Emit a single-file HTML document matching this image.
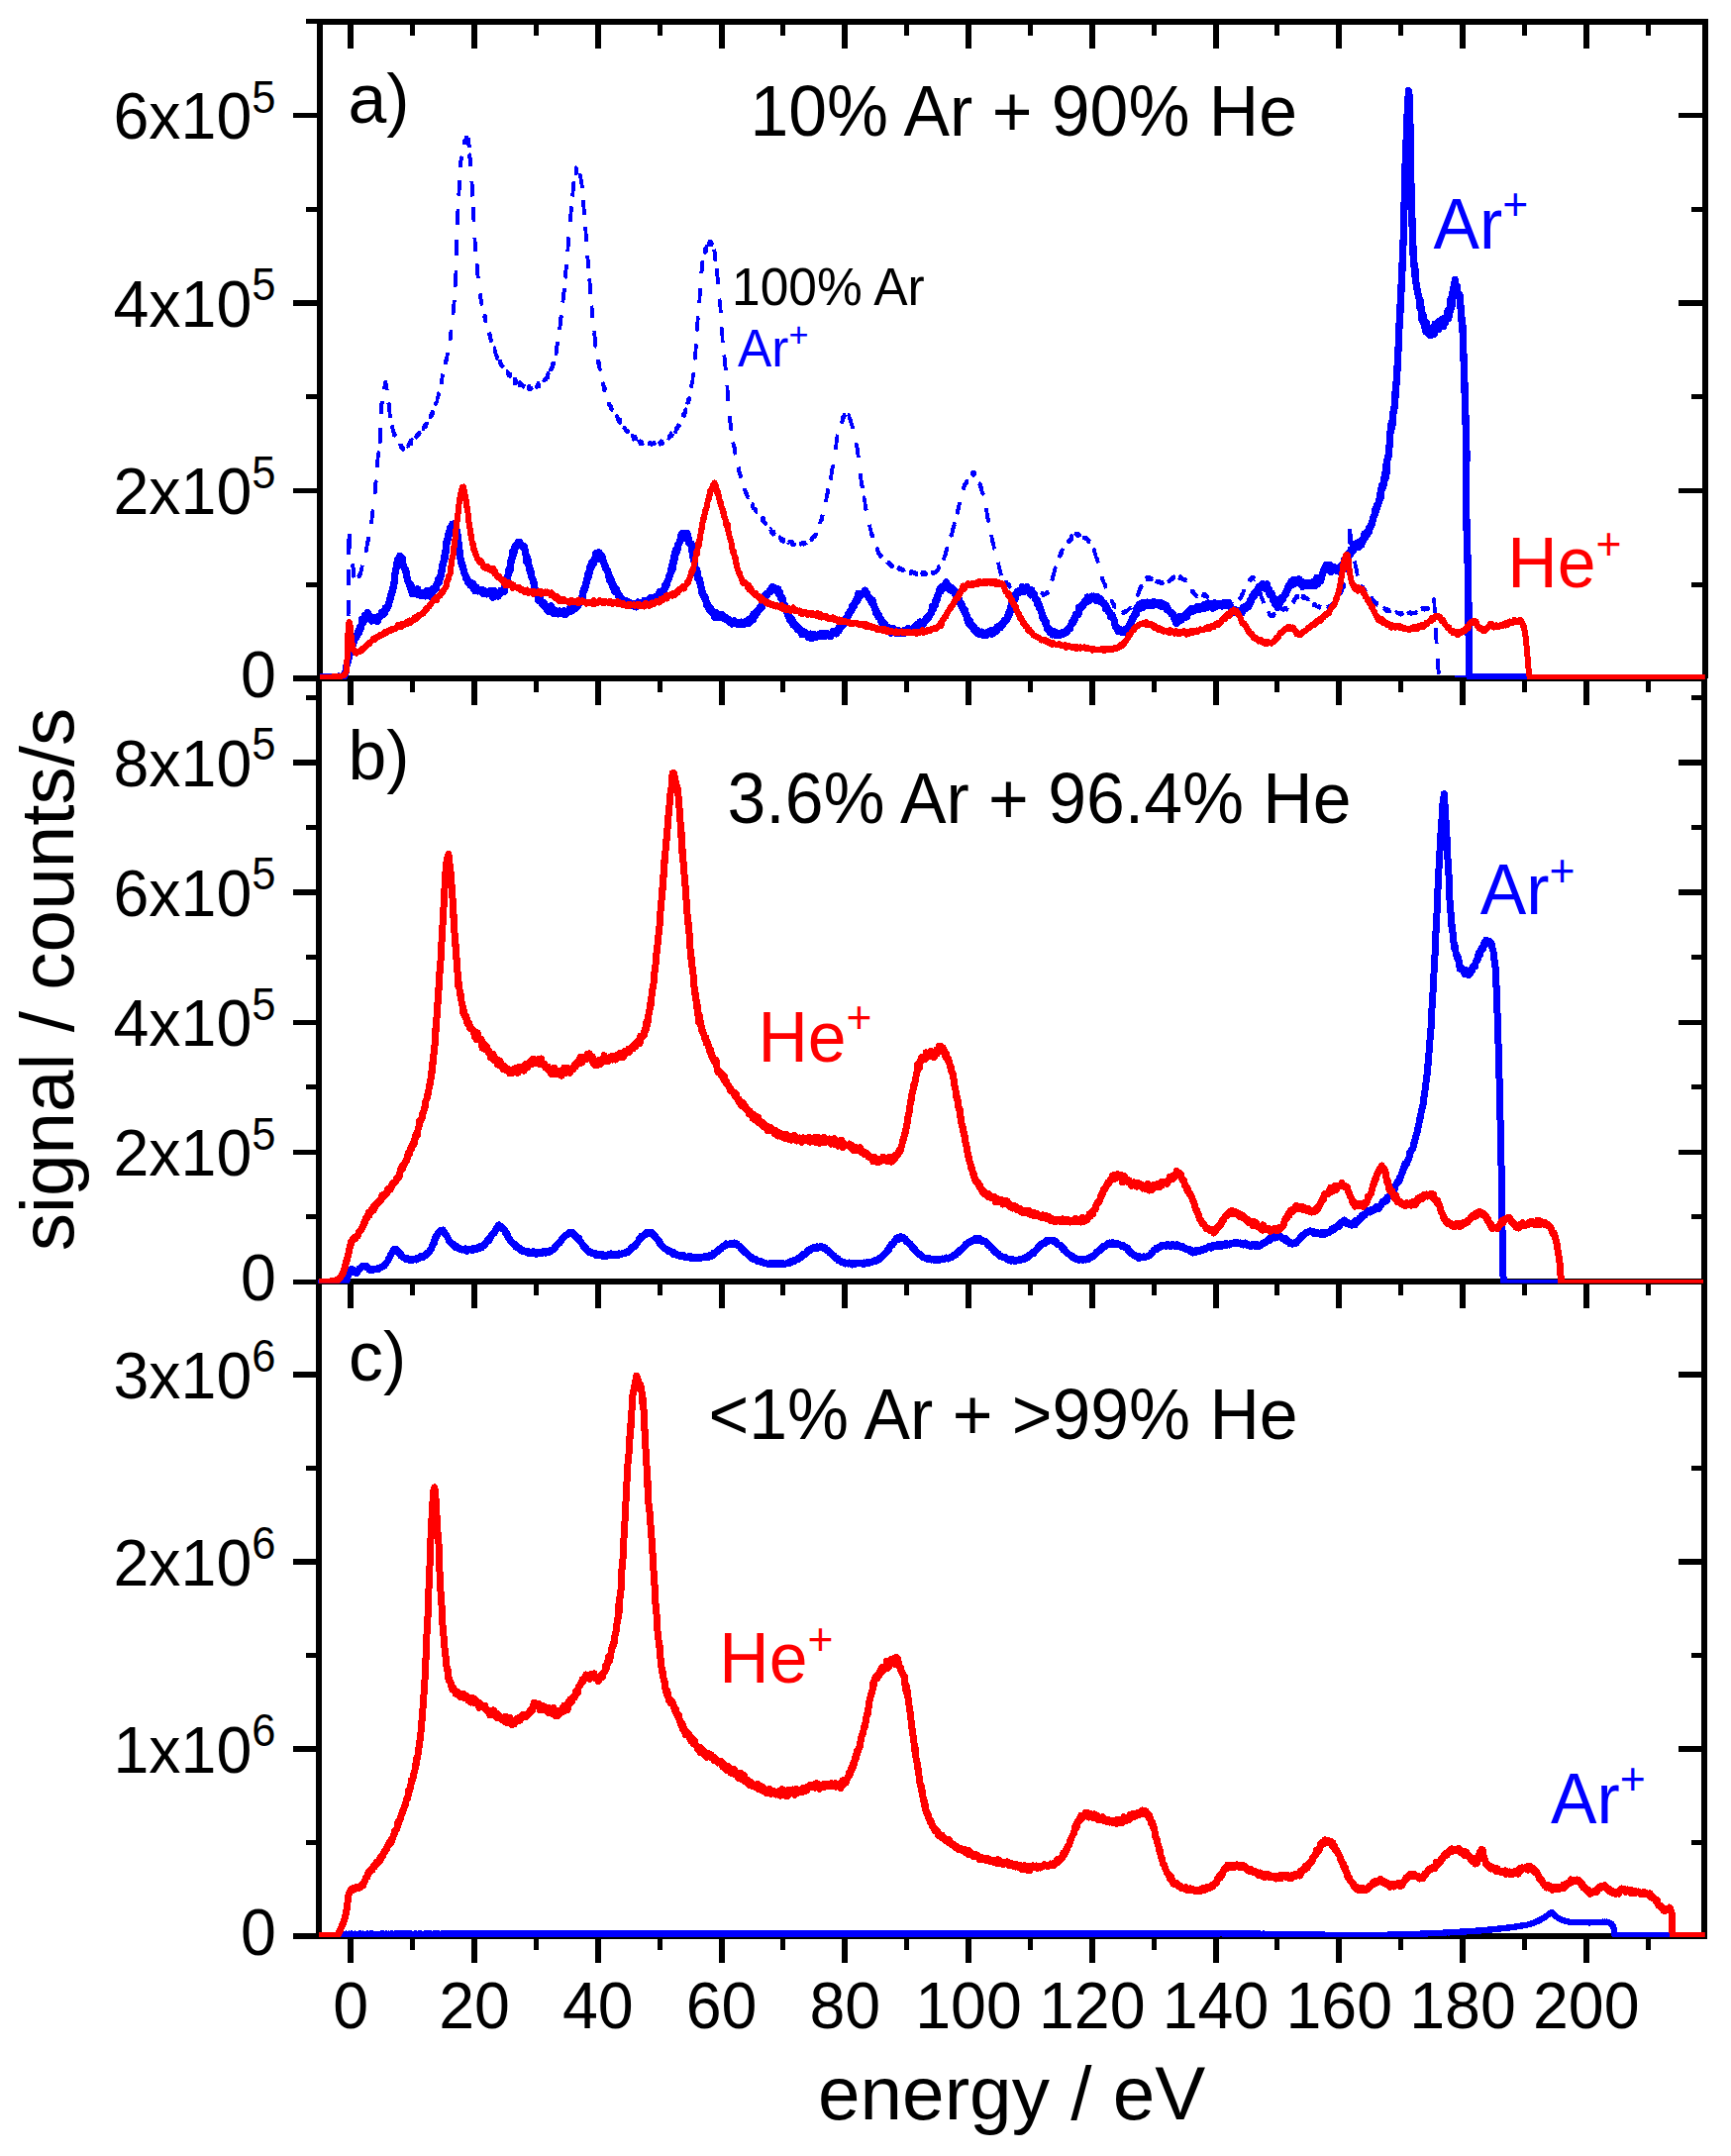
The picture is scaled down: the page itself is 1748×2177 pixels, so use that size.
<!DOCTYPE html>
<html><head><meta charset="utf-8"><title>figure</title>
<style>
html,body{margin:0;padding:0;background:#fff}
svg{display:block}
text{font-family:"Liberation Sans",sans-serif;}
</style></head><body>
<svg width="1748" height="2177" viewBox="0 0 1748 2177">
<rect width="1748" height="2177" fill="#fff"/>
<g stroke="#000" stroke-width="5.8" fill="none" stroke-linecap="butt" shape-rendering="crispEdges">
<line x1="322.95" y1="19.1" x2="322.95" y2="684.85"/>
<line x1="1721.6" y1="19.1" x2="1721.6" y2="684.85"/>
<line x1="322.05" y1="684.85" x2="322.05" y2="1957.8000000000002"/>
<line x1="1721.0" y1="684.85" x2="1721.0" y2="1957.8000000000002"/>
<line x1="322.95" y1="22.0" x2="1721.6" y2="22.0"/>
<line x1="322.95" y1="684.85" x2="1721.6" y2="684.85"/>
<line x1="322.95" y1="1294.2" x2="1721.6" y2="1294.2"/>
<line x1="322.95" y1="1954.9" x2="1721.6" y2="1954.9"/>
<line x1="354.3" y1="22.0" x2="354.3" y2="48.7" stroke-width="6.0"/>
<line x1="354.3" y1="684.85" x2="354.3" y2="711.5500000000001" stroke-width="6.0"/>
<line x1="354.3" y1="1294.2" x2="354.3" y2="1320.9" stroke-width="6.0"/>
<line x1="354.3" y1="1954.9" x2="354.3" y2="1981.6000000000001" stroke-width="6.0"/>
<line x1="416.7" y1="22.0" x2="416.7" y2="36.0" stroke-width="5.0"/>
<line x1="416.7" y1="684.85" x2="416.7" y2="698.85" stroke-width="5.0"/>
<line x1="416.7" y1="1294.2" x2="416.7" y2="1308.2" stroke-width="5.0"/>
<line x1="416.7" y1="1954.9" x2="416.7" y2="1968.9" stroke-width="5.0"/>
<line x1="479.0" y1="22.0" x2="479.0" y2="48.7" stroke-width="6.0"/>
<line x1="479.0" y1="684.85" x2="479.0" y2="711.5500000000001" stroke-width="6.0"/>
<line x1="479.0" y1="1294.2" x2="479.0" y2="1320.9" stroke-width="6.0"/>
<line x1="479.0" y1="1954.9" x2="479.0" y2="1981.6000000000001" stroke-width="6.0"/>
<line x1="541.4" y1="22.0" x2="541.4" y2="36.0" stroke-width="5.0"/>
<line x1="541.4" y1="684.85" x2="541.4" y2="698.85" stroke-width="5.0"/>
<line x1="541.4" y1="1294.2" x2="541.4" y2="1308.2" stroke-width="5.0"/>
<line x1="541.4" y1="1954.9" x2="541.4" y2="1968.9" stroke-width="5.0"/>
<line x1="603.8" y1="22.0" x2="603.8" y2="48.7" stroke-width="6.0"/>
<line x1="603.8" y1="684.85" x2="603.8" y2="711.5500000000001" stroke-width="6.0"/>
<line x1="603.8" y1="1294.2" x2="603.8" y2="1320.9" stroke-width="6.0"/>
<line x1="603.8" y1="1954.9" x2="603.8" y2="1981.6000000000001" stroke-width="6.0"/>
<line x1="666.2" y1="22.0" x2="666.2" y2="36.0" stroke-width="5.0"/>
<line x1="666.2" y1="684.85" x2="666.2" y2="698.85" stroke-width="5.0"/>
<line x1="666.2" y1="1294.2" x2="666.2" y2="1308.2" stroke-width="5.0"/>
<line x1="666.2" y1="1954.9" x2="666.2" y2="1968.9" stroke-width="5.0"/>
<line x1="728.5" y1="22.0" x2="728.5" y2="48.7" stroke-width="6.0"/>
<line x1="728.5" y1="684.85" x2="728.5" y2="711.5500000000001" stroke-width="6.0"/>
<line x1="728.5" y1="1294.2" x2="728.5" y2="1320.9" stroke-width="6.0"/>
<line x1="728.5" y1="1954.9" x2="728.5" y2="1981.6000000000001" stroke-width="6.0"/>
<line x1="790.9" y1="22.0" x2="790.9" y2="36.0" stroke-width="5.0"/>
<line x1="790.9" y1="684.85" x2="790.9" y2="698.85" stroke-width="5.0"/>
<line x1="790.9" y1="1294.2" x2="790.9" y2="1308.2" stroke-width="5.0"/>
<line x1="790.9" y1="1954.9" x2="790.9" y2="1968.9" stroke-width="5.0"/>
<line x1="853.3" y1="22.0" x2="853.3" y2="48.7" stroke-width="6.0"/>
<line x1="853.3" y1="684.85" x2="853.3" y2="711.5500000000001" stroke-width="6.0"/>
<line x1="853.3" y1="1294.2" x2="853.3" y2="1320.9" stroke-width="6.0"/>
<line x1="853.3" y1="1954.9" x2="853.3" y2="1981.6000000000001" stroke-width="6.0"/>
<line x1="915.6" y1="22.0" x2="915.6" y2="36.0" stroke-width="5.0"/>
<line x1="915.6" y1="684.85" x2="915.6" y2="698.85" stroke-width="5.0"/>
<line x1="915.6" y1="1294.2" x2="915.6" y2="1308.2" stroke-width="5.0"/>
<line x1="915.6" y1="1954.9" x2="915.6" y2="1968.9" stroke-width="5.0"/>
<line x1="978.0" y1="22.0" x2="978.0" y2="48.7" stroke-width="6.0"/>
<line x1="978.0" y1="684.85" x2="978.0" y2="711.5500000000001" stroke-width="6.0"/>
<line x1="978.0" y1="1294.2" x2="978.0" y2="1320.9" stroke-width="6.0"/>
<line x1="978.0" y1="1954.9" x2="978.0" y2="1981.6000000000001" stroke-width="6.0"/>
<line x1="1040.4" y1="22.0" x2="1040.4" y2="36.0" stroke-width="5.0"/>
<line x1="1040.4" y1="684.85" x2="1040.4" y2="698.85" stroke-width="5.0"/>
<line x1="1040.4" y1="1294.2" x2="1040.4" y2="1308.2" stroke-width="5.0"/>
<line x1="1040.4" y1="1954.9" x2="1040.4" y2="1968.9" stroke-width="5.0"/>
<line x1="1102.7" y1="22.0" x2="1102.7" y2="48.7" stroke-width="6.0"/>
<line x1="1102.7" y1="684.85" x2="1102.7" y2="711.5500000000001" stroke-width="6.0"/>
<line x1="1102.7" y1="1294.2" x2="1102.7" y2="1320.9" stroke-width="6.0"/>
<line x1="1102.7" y1="1954.9" x2="1102.7" y2="1981.6000000000001" stroke-width="6.0"/>
<line x1="1165.1" y1="22.0" x2="1165.1" y2="36.0" stroke-width="5.0"/>
<line x1="1165.1" y1="684.85" x2="1165.1" y2="698.85" stroke-width="5.0"/>
<line x1="1165.1" y1="1294.2" x2="1165.1" y2="1308.2" stroke-width="5.0"/>
<line x1="1165.1" y1="1954.9" x2="1165.1" y2="1968.9" stroke-width="5.0"/>
<line x1="1227.5" y1="22.0" x2="1227.5" y2="48.7" stroke-width="6.0"/>
<line x1="1227.5" y1="684.85" x2="1227.5" y2="711.5500000000001" stroke-width="6.0"/>
<line x1="1227.5" y1="1294.2" x2="1227.5" y2="1320.9" stroke-width="6.0"/>
<line x1="1227.5" y1="1954.9" x2="1227.5" y2="1981.6000000000001" stroke-width="6.0"/>
<line x1="1289.9" y1="22.0" x2="1289.9" y2="36.0" stroke-width="5.0"/>
<line x1="1289.9" y1="684.85" x2="1289.9" y2="698.85" stroke-width="5.0"/>
<line x1="1289.9" y1="1294.2" x2="1289.9" y2="1308.2" stroke-width="5.0"/>
<line x1="1289.9" y1="1954.9" x2="1289.9" y2="1968.9" stroke-width="5.0"/>
<line x1="1352.2" y1="22.0" x2="1352.2" y2="48.7" stroke-width="6.0"/>
<line x1="1352.2" y1="684.85" x2="1352.2" y2="711.5500000000001" stroke-width="6.0"/>
<line x1="1352.2" y1="1294.2" x2="1352.2" y2="1320.9" stroke-width="6.0"/>
<line x1="1352.2" y1="1954.9" x2="1352.2" y2="1981.6000000000001" stroke-width="6.0"/>
<line x1="1414.6" y1="22.0" x2="1414.6" y2="36.0" stroke-width="5.0"/>
<line x1="1414.6" y1="684.85" x2="1414.6" y2="698.85" stroke-width="5.0"/>
<line x1="1414.6" y1="1294.2" x2="1414.6" y2="1308.2" stroke-width="5.0"/>
<line x1="1414.6" y1="1954.9" x2="1414.6" y2="1968.9" stroke-width="5.0"/>
<line x1="1477.0" y1="22.0" x2="1477.0" y2="48.7" stroke-width="6.0"/>
<line x1="1477.0" y1="684.85" x2="1477.0" y2="711.5500000000001" stroke-width="6.0"/>
<line x1="1477.0" y1="1294.2" x2="1477.0" y2="1320.9" stroke-width="6.0"/>
<line x1="1477.0" y1="1954.9" x2="1477.0" y2="1981.6000000000001" stroke-width="6.0"/>
<line x1="1539.3" y1="22.0" x2="1539.3" y2="36.0" stroke-width="5.0"/>
<line x1="1539.3" y1="684.85" x2="1539.3" y2="698.85" stroke-width="5.0"/>
<line x1="1539.3" y1="1294.2" x2="1539.3" y2="1308.2" stroke-width="5.0"/>
<line x1="1539.3" y1="1954.9" x2="1539.3" y2="1968.9" stroke-width="5.0"/>
<line x1="1601.7" y1="22.0" x2="1601.7" y2="48.7" stroke-width="6.0"/>
<line x1="1601.7" y1="684.85" x2="1601.7" y2="711.5500000000001" stroke-width="6.0"/>
<line x1="1601.7" y1="1294.2" x2="1601.7" y2="1320.9" stroke-width="6.0"/>
<line x1="1601.7" y1="1954.9" x2="1601.7" y2="1981.6000000000001" stroke-width="6.0"/>
<line x1="1664.1" y1="22.0" x2="1664.1" y2="36.0" stroke-width="5.0"/>
<line x1="1664.1" y1="684.85" x2="1664.1" y2="698.85" stroke-width="5.0"/>
<line x1="1664.1" y1="1294.2" x2="1664.1" y2="1308.2" stroke-width="5.0"/>
<line x1="1664.1" y1="1954.9" x2="1664.1" y2="1968.9" stroke-width="5.0"/>
<line x1="296.25" y1="684.9" x2="322.95" y2="684.9" stroke-width="5.2"/>
<line x1="1694.8999999999999" y1="684.9" x2="1721.6" y2="684.9" stroke-width="5.2"/>
<line x1="308.95" y1="590.1" x2="322.95" y2="590.1" stroke-width="5.2"/>
<line x1="1707.6" y1="590.1" x2="1721.6" y2="590.1" stroke-width="5.2"/>
<line x1="296.25" y1="495.4" x2="322.95" y2="495.4" stroke-width="5.2"/>
<line x1="1694.8999999999999" y1="495.4" x2="1721.6" y2="495.4" stroke-width="5.2"/>
<line x1="308.95" y1="400.7" x2="322.95" y2="400.7" stroke-width="5.2"/>
<line x1="1707.6" y1="400.7" x2="1721.6" y2="400.7" stroke-width="5.2"/>
<line x1="296.25" y1="305.9" x2="322.95" y2="305.9" stroke-width="5.2"/>
<line x1="1694.8999999999999" y1="305.9" x2="1721.6" y2="305.9" stroke-width="5.2"/>
<line x1="308.95" y1="211.2" x2="322.95" y2="211.2" stroke-width="5.2"/>
<line x1="1707.6" y1="211.2" x2="1721.6" y2="211.2" stroke-width="5.2"/>
<line x1="296.25" y1="116.5" x2="322.95" y2="116.5" stroke-width="5.2"/>
<line x1="1694.8999999999999" y1="116.5" x2="1721.6" y2="116.5" stroke-width="5.2"/>
<line x1="308.95" y1="21.8" x2="322.95" y2="21.8" stroke-width="5.2"/>
<line x1="1707.6" y1="21.8" x2="1721.6" y2="21.8" stroke-width="5.2"/>
<line x1="296.25" y1="1294.2" x2="322.95" y2="1294.2" stroke-width="5.2"/>
<line x1="1694.8999999999999" y1="1294.2" x2="1721.6" y2="1294.2" stroke-width="5.2"/>
<line x1="308.95" y1="1228.7" x2="322.95" y2="1228.7" stroke-width="5.2"/>
<line x1="1707.6" y1="1228.7" x2="1721.6" y2="1228.7" stroke-width="5.2"/>
<line x1="296.25" y1="1163.2" x2="322.95" y2="1163.2" stroke-width="5.2"/>
<line x1="1694.8999999999999" y1="1163.2" x2="1721.6" y2="1163.2" stroke-width="5.2"/>
<line x1="308.95" y1="1097.6" x2="322.95" y2="1097.6" stroke-width="5.2"/>
<line x1="1707.6" y1="1097.6" x2="1721.6" y2="1097.6" stroke-width="5.2"/>
<line x1="296.25" y1="1032.1" x2="322.95" y2="1032.1" stroke-width="5.2"/>
<line x1="1694.8999999999999" y1="1032.1" x2="1721.6" y2="1032.1" stroke-width="5.2"/>
<line x1="308.95" y1="966.6" x2="322.95" y2="966.6" stroke-width="5.2"/>
<line x1="1707.6" y1="966.6" x2="1721.6" y2="966.6" stroke-width="5.2"/>
<line x1="296.25" y1="901.0" x2="322.95" y2="901.0" stroke-width="5.2"/>
<line x1="1694.8999999999999" y1="901.0" x2="1721.6" y2="901.0" stroke-width="5.2"/>
<line x1="308.95" y1="835.5" x2="322.95" y2="835.5" stroke-width="5.2"/>
<line x1="1707.6" y1="835.5" x2="1721.6" y2="835.5" stroke-width="5.2"/>
<line x1="296.25" y1="770.0" x2="322.95" y2="770.0" stroke-width="5.2"/>
<line x1="1694.8999999999999" y1="770.0" x2="1721.6" y2="770.0" stroke-width="5.2"/>
<line x1="308.95" y1="704.5" x2="322.95" y2="704.5" stroke-width="5.2"/>
<line x1="1707.6" y1="704.5" x2="1721.6" y2="704.5" stroke-width="5.2"/>
<line x1="296.25" y1="1954.9" x2="322.95" y2="1954.9" stroke-width="5.2"/>
<line x1="1694.8999999999999" y1="1954.9" x2="1721.6" y2="1954.9" stroke-width="5.2"/>
<line x1="308.95" y1="1860.4" x2="322.95" y2="1860.4" stroke-width="5.2"/>
<line x1="1707.6" y1="1860.4" x2="1721.6" y2="1860.4" stroke-width="5.2"/>
<line x1="296.25" y1="1765.9" x2="322.95" y2="1765.9" stroke-width="5.2"/>
<line x1="1694.8999999999999" y1="1765.9" x2="1721.6" y2="1765.9" stroke-width="5.2"/>
<line x1="308.95" y1="1671.4" x2="322.95" y2="1671.4" stroke-width="5.2"/>
<line x1="1707.6" y1="1671.4" x2="1721.6" y2="1671.4" stroke-width="5.2"/>
<line x1="296.25" y1="1576.9" x2="322.95" y2="1576.9" stroke-width="5.2"/>
<line x1="1694.8999999999999" y1="1576.9" x2="1721.6" y2="1576.9" stroke-width="5.2"/>
<line x1="308.95" y1="1482.4" x2="322.95" y2="1482.4" stroke-width="5.2"/>
<line x1="1707.6" y1="1482.4" x2="1721.6" y2="1482.4" stroke-width="5.2"/>
<line x1="296.25" y1="1387.9" x2="322.95" y2="1387.9" stroke-width="5.2"/>
<line x1="1694.8999999999999" y1="1387.9" x2="1721.6" y2="1387.9" stroke-width="5.2"/>
</g>
<defs><clipPath id="ca"><rect x="320" y="0" width="1401.8" height="686.0"/></clipPath><clipPath id="cb"><rect x="319.2" y="686" width="1402.2" height="609.8"/></clipPath><clipPath id="cc"><rect x="319.2" y="1295.8" width="1402.6" height="660.2"/></clipPath></defs>
<g shape-rendering="crispEdges">
<path clip-path="url(#ca)" d="M348.9,683.8l.1-1.5 .1-1.5 .1-1.6 .1-1.6 .1-1.5 .1-1.5 .1-1.6 .1-1.5 .1-1.4 .1-1.5 .1-1.5 .1-1.3 .1-1.5 .1-1.5 .1-1.3 .1-1.5 .1-1.5 0-1.5 .1-1.7 .1-1.5 0-1.5 .1-1.5 .1-1.5 0-1.4 .1-1.5 0-1.5 .1-1.5 0-1.5 0-1.5 .1-1.5 0-1.9 0-1.5 .1-1.5 0-1.5 0-1.5 .1-1.5 0-1.5 0-1.5 .1-1.5 0-1.5 0-1.5 0-1.5 .1-1.5 0-1.5 0-1.5 0-1.5 0-1.5 .1-1.6 0-1.5 0-1.5 0-1.5 0-1.5 .1-1.5 0-1.5 0-1.5 0-1.5 0-.3 0-1.5 .1-1.5 0-1.5 0-1.5 0-1.5 0-1.5 0-1.5 0-1.5 .1-1.4 0-1.6 0-1.6 0-1.6 0-1.8 0-1.8 0-1.8 0-1.9 0-1.9 0-2 0-2 .1-1.9 0-2 0-2 0-2 0-2 0-1.9 0-1.9 0-1.8 0-1.8 0-1.8 0-1.7 0-1.6 0-1.5 0-1.4 0-2.3 0-1.3 .1-1.1 0-1 0-.8 0-.7 0-.6 0-.4 0-.3 .1-.1 0,.2 0,.6 0,.9 .1,1.2 .1,1.4 0,1.6 .1,1.8 .1,1.9 .1,2.8 .1,2 .1,2 .1,2.2 .1,1.8 .1,1.6 .2,1.5 .2,1.5 .2,.8 .3,1.1 .3,1.8 .3,1.4 .3,2.4 .3,.6 .3,1.7 .2,1 .3,2.6 .2,1.7 .2-.6 .1,1.9 .2,3.8 .2,1.9 .2,2.1 .2,.4 .2,1.5 .2,3.6 .3-.6 .3,.5 .3-.4 .3,1.2 .4-.8 .3-1 .3,0 .4-.2 .3-.2 .3-1.3 .3-1.5 .3-.5 .3-1.9 .4,.3 .3,.2 .3-1.5 .3-1.1 .3,.3 .4-1.9 .3-.6 .3-1.5 .3-2 .3,.5 .3-3.3 .4-1.1 .3-.6 .3-1.5 .3-1 .3-1.3 .3-.1 .3-2 .4-1 .3-2.9 .3-.8 .3,.1 .3-3.2 .3,.4 .4-3.2 .3-.4 .3-2.4 .3-.6 .2-2.4 .3-.9 .3,.1 .3-3.2 .2-1.5 .3,.6 .3-3.6 .2-2.1 .3-.4 .3-1.9 .2-1.5 .3,.4 .2-2.2 .2-1.2 .3-2 .2-1.5 .3,.2 .2-3 .2-1.7 .2-1.5 .2-2.7 .2-1.5 .3-1.5 .2-.5 .1-.8 .2-1.5 .2-1.3 .2-1.5 .2-3.4 .1-1.5 .2-.1 .1-1.5 .2-1.8 .1-1.5 .2-2.8 .1-1.5 .1,.1 .2-1.5 .1-1.5 .1-4.2 .2-1.5 .1,1 .1-1.5 .1,.7 .2-1.5 .1-1.5 .1-4.9 .1-1.5 .2-.5 .1-1.5 .2-3.5 .1-1.7 .1-2 .1-.8 .2-2 .1-.3 .1-1.8 .2-1.6 .1-3.3 .2,0 .2-.6 .2-.5 .3,1.4 .3,1.8 .1-.2 .1-.4 0-.3 .1-.8 .1-.9 0-1.2 .1-1.3 0-1.4 0-.8 .1-1.6 0-1.8 0-1.8 .1-1.9 0-2 0-1.9 0-2 .1-2 0-2 0-2 .1-2.3 0-1.9 .1-1.7 0-1.7 .1-1.6 .1-3.1 .1-1.5 .1-1.5 .1,.8 .1-1.5 .2-1.5 .1-1.7 .2-1.5 .1-4.7 .2-1.5 .2,1.1 .2-1.3 .2-1.5 .2-1.3 .2-2 .2-1.5 .2-3.6 .3-.3 .3-3.9 .3,.5 .3,.9 .3-3.1 .3-1.2 .3-2.6 .4-1.2 .2,0 .3,2 .2,.9 .3,.1 .2,1.7 .2,3.8 .3,1.9 .2-1.4 .2,2.4 .2,1.9 .2,2.8 .2,2.3 .2,1.5 .2,1.5 .2,0 .2,1.6 .2,3.3 .1,1.5 .2,1.1 .2,1.6 .1,2 .2-.1 .2,1.5 .1,3 .2,1.5 .2,1.4 .3,.5 .2,1.5 .3,1.9 .3,1.1 .3,3.5 .3-3.9 .3,2.9 .3,.6 .3,2.4 .3,.4 .4,1.1 .3,1.9 .3-1.9 .3,1.6 .3,.2 .4,2.4 .3,.5 .3-.6 .3-.5 .4,4.2 .3-.7 .3,.4 .3,.1 .3,.4 .4,1.4 .3-.4 .3-.2 .3,1.9 .4-.2 .3-.4 .3,.2 .4,2.7 .3-.2 .3,1.8 .4-2.5 .3,1.5 .4,1.4 .3-.6 .3,.1 .4,1.7 .3-2.7 .3-.5 .4,.6 .3,.4 .3,.7 .3,.5 .3-.8 .4,1.1 .3-2.8 .3,2.7 .3-3.1 .3-.4 .4,1 .3-.6 .3,.1 .3-.1 .3-1.4 .4-.2 .3-.1 .3-2 .3,.2 .4-1.4 .3,1.3 .3,2 .3-2 .3-2.2 .3-.2 .4,1.4 .3-2 .3-1.6 .3,.2 .3-.4 .3-.3 .4,1.5 .3-1.1 .3-2 .3,.7 .3-1 .4-.4 .3-.6 .3,3.2 .3-2.6 .3,.7 .3,0 .4-1.7 .3,.7 .3-.7 .3,1.8 .3-2.4 .4-.9 .3,.6 .3,1 .3-1.2 .3-2 .3-.8 .4-.4 .3-.1 .4,.8 .3,.1 .3-3.8 .3,2.1 .4-1.6 .3,1.6 .3-.1 .3-2.3 .4-.1 .3-1 .3,1.1 .3-2.2 .4,0 .3,1.7 .3,.8 .3-3.2 .3-1.9 .4,1 .3-1.6 .3,1 .3-2.3 .3,.2 .4-.1 .3,0 .3-1.2 .3,.9 .3-1.9 .4-2.7 .3,2.4 .3-2 .3-1 .3,1.8 .4-3.5 .3,.5 .3-1.5 .3,1.6 .3-2.7 .4,0 .3-2.6 .3,2.4 .3-3.7 .3,1.7 .4-.7 .3-.2 .3-4.4 .3,.9 .3-1.3 .3-.7 .4-.2 .3-2.3 .3-2.2 .3-.3 .3,.8 .3-4.5 .4,.3 .3-2.6 .3,1.2 .3-4.7 .3,.2 .3-1.1 .4-1.2 .3,1.3 .3-2.4 .3-4.6 .3,2.4 .3-5.5 .4-2.3 .3-1 .3,.7 .3-1 .3-4.8 .3,1.8 .3-2.3 .4-.3 .3-2.8 .3,.1 .3-1.9 .3-3.6 .3,1.8 .3-3 .2-.9 .3-.8 .3-4.3 .3-.3 .2-1.5 .3-2.4 .2-1.6 .3,0 .2-1.4 .2-1.4 .3-.2 .2-1.4 .2-1.5 .2-3.3 .3-2.6 .2,3.8 .2-1.5 .2-2.8 .2-4.5 .2-1.5 .2-2.5 .2-1.5 .2-.8 .1-.6 .2-1.5 .2-.3 .2-1.5 .1-1.7 .2-1.5 .1-2.2 .2-1.5 .1-2.4 .2-1.5 .1-1 .2-1.5 .1-2.1 .2-1.5 .1-1 .1-1.5 .2-1.7 .1-1.5 .1-1.5 .2-.6 .1-1.5 .1-1.5 .1-4.8 .1-1.5 .1-1.5 .1,.6 .1-1.5 0-1.5 .1-1.5 .1-1.4 0-1.5 .1-1.5 0-1.5 .1-1.5 .1-2.7 0-1.5 0-1.5 .1-1.5 0-1.5 .1-1.5 0-1.5 .1-.1 0-1.5 0-1.5 .1-1.5 0-1.5 0-1.5 .1-1.5 0-1.5 0-1.5 .1-2.8 0-1.5 .1-1.5 0-1.5 0-1.5 .1-1.5 0-1.5 .1-1 0-1.5 .1-1.5 0-1.5 .1-1.5 0-1.5 .1-.9 0-1.5 .1-1.5 .1-1.5 0-1.5 .1-1.5 0-1.5 .1-1.5 .1-1.5 0-1.5 .1-1.9 .1-1.5 0-1.5 .1-1.5 .1-1.5 0,1 .1-1.5 .1-1.5 .1-1.5 .1-2.9 0-1.4 .1-1.5 .1-1.5 .1-1.4 .1-1.5 0-1.4 .1-1.5 .1-1.7 .1-1.5 .1-1.5 .1-2.9 0-1.5 .1-1.5 .1-1.5 .1-1.8 .1-1.5 .1-1.5 .1,1.2 .1-1.5 .1-1.5 .1-3.4 .1-1.5 .1-1.5 .2-3.7 .1-1.5 .2-2.2 .1-1.5 .2,2.4 .1-1.5 .2-3 .2-.5 .3-1.5 .2-2.2 .3-1.3 .3-1.1 .3-3.1 .4,.7 .3,.5 .3-1.5 .3-4.9 .4-.1 .3-.7 .3,1.1 .3,1.2 .3-1.5 .4-3.9 .3,3.6 .3-2.6 .3,3.5 .4-4.4 .2,3.2 .3,.6 .2,2.9 .2-4.6 .2,1.4 .1,3.3 .2,1.8 .1,3.4 .1,1.9 .2,6.3 .1,1.9 .1,1.9 .1-6.3 .2,1.5 .1,5.3 .1,1.5 .1,1.5 .2,1 .1,1.5 .1,1.5 .1,.4 .1,1.5 .1,.8 .1,1.5 .2,1.5 .1,2 .1,1.5 .1,1.5 .1,1.9 .1,1.5 .1,1.4 .1,0 .1,1.5 0,1.5 .1,1.5 .1,6 .1,1.4 .1,1.5 .1-2.6 .1,1.5 .1,1.5 0,1.5 .1,2.5 .1,1.5 .1,1.5 0,1.5 .1,1.2 .1,1.5 .1,1.5 0,1.5 .1,1.9 .1,1.5 .1,1.5 0,1.4 .1,2.3 .1,1.5 .1,1.5 .1,1.5 .1,.2 .1,1.5 0,1.5 .1,2.3 .1,1.5 .1,1.5 .1,1.5 .1,4.4 .1,1.5 .1,1.5 .1,.5 .1,1.5 .1,1.5 .1-.5 .1,1.5 .1,1.5 .1,3.2 .1,1.5 .1,1.5 .1-.9 .1,1.5 .2,1.5 .1,2.9 .1,1.5 .1-.9 .1,1.5 .2,1.5 .1,1.9 .1,1.5 .2,1.9 .1,1.5 .2,4.5 .1,1.5 .2,0 .1,1.5 .2,2 .1,1.5 .2,.9 .2,1.5 .2,1.8 .1,1.5 .2,1.6 .2,1.9 .2,1.5 .2,.7 .2,0 .2,1.4 .2,1.7 .3,4.2 .2,1.5 .2,1.8 .3,.3 .2-1.6 .3,5.9 .3-.3 .3,1.5 .3,1.1 .3,.8 .3,4.3 .4,1.2 .3-2.4 .3,2.4 .3,1.9 .3,2.5 .3-3.8 .4,5.6 .3,2.2 .3-1.5 .3,1.5 .3,2.8 .3-.1 .4-1.1 .3,1.3 .3,1.3 .3,.6 .3,3 .3,.5 .4,1.9 .3,2 .3,2.6 .3-.9 .3-1.5 .4,5.3 .3-.8 .3,2.7 .3-1 .3,2 .3,.5 .4,1.2 .3,2.7 .3-1.6 .3,2 .3,1 .3,.1 .4-1.4 .3,4 .3-1.5 .3,2.1 .4,1.9 .3,1.3 .3,.7 .3,.3 .3-.5 .4,2.7 .3-1.3 .3,2.4 .3-3.6 .4,2.3 .3,1 .3,1.3 .3-2.4 .3,4.6 .4,.8 .3,.2 .3-1.1 .3,3 .4-2 .3,2.3 .3-.7 .3,.4 .4,.7 .3,1.9 .3,.8 .3,.5 .3-.2 .4,.1 .3,.2 .3,2 .3-2.3 .3,.2 .4,1.3 .3-1.7 .3,2.2 .4,.6 .3-.8 .3,1 .3,1.9 .3-.7 .4,.8 .3,1.5 .4-1.6 .3,1.1 .3,.9 .3-2.4 .3,3.4 .4-.9 .3,.2 .3-.2 .3,1.2 .4,1.7 .3-.2 .3,.6 .4-1.1 .3,2.7 .3-.1 .4-1.3 .3-2.9 .4,6.8 .3-3.1 .3-1 .3,3.6 .3-2.6 .3,1.5 .4,.6 .3-2.6 .3,2.2 .3,1.5 .4-1.7 .3,1.4 .4-.6 .3,1.5 .4,1.2 .3-3.4 .3,1.2 .3,1 .3-1.1 .3,.5 .4,.3 .3-.3 .3,1.3 .4,.8 .3,.1 .3,.1 .4,.8 .3-3 .3,1.7 .4,.5 .3,.6 .4-2.5 .3,1 .3,1.6 .4,.7 .3,.5 .4-2 .3,.3 .3,1.2 .4,.3 .3,.5 .3-1.1 .4-.6 .3,3 .3-3.7 .4,2.5 .3-.4 .3,.6 .3,.2 .4,.5 .3-1.6 .3,.5 .3-2.8 .3,2.3 .4-1.1 .3,.8 .3,1.6 .3-1.4 .4,1.1 .3-1.7 .3,.6 .4-1.1 .3-.4 .3,.4 .4,.3 .3-.3 .4-.3 .3,1.1 .3-.6 .4-1.4 .3,1.4 .3-3.7 .3,1.9 .4-.1 .3,1.6 .3-2.5 .3-1.3 .3,1.8 .4-.8 .3-.1 .4-.4 .3,.1 .3,1.2 .4,.6 .3-2.1 .3-1 .3,2.1 .4-2.4 .3-.4 .3-.8 .3-.3 .4,.4 .3-1 .3,.5 .4-.3 .3-1.5 .3-.2 .3,.1 .3-.6 .4-.5 .3,.8 .3-3.2 .3-1.6 .4,2.7 .3-1.7 .3,1.4 .3-2.4 .3-1.9 .4,3.4 .3-2.8 .3-1.8 .3-1.1 .4,.8 .3-2.3 .3,.5 .3,.1 .3-4.1 .3,.3 .3,0 .4,.4 .3-2.1 .3-2.9 .3,1.2 .3-3.6 .3-1.1 .3-.7 .4-3.4 .2,3.8 .3-3.8 .3-2.8 .3-2.5 .2-2.2 .3,.4 .2-1.5 .3-1 .2-3 .2-1.2 .2-1.5 .3-.5 .2-2.3 .2-3.9 .2-1.4 .2,1.8 .2-2.1 .2-1.4 .2-.9 .2-3.4 .2-1.5 .2-3.3 .2-1.5 .2-.4 .2,.6 .1-1.5 .2,.9 .2-1.5 .1-1.1 .2-1.5 .2-4.2 .1-1.5 .2-3.9 .1-1.5 .2,0 .1-1.5 .2-.4 .2-1.5 .1-1.5 .2-1.5 .1-1.9 .2-1.5 .1,.2 .2-1.5 .1-4.6 .1-1.5 .2-3.2 .1-1.5 .2-1.5 .1,.3 .2-1.5 .1-1.9 .1-1.5 .2,3.3 .1-1.5 .1-4.9 .2-1.5 .1-1.5 .1-3.3 .2-1.5 .1,1.4 .1-1.4 .2-1 .1-1.5 .1-1.5 .1-2.8 .2-1.5 .1-1.3 .1-1.5 .2-1.5 .1-.3 .1-1.5 .1-2.2 .1-1.5 .2-1.5 .1-3.3 .1-1.5 .1,.4 .1-1.5 .2-1.5 .1-1 .1-1.4 .1-2.4 .2-1.5 .1-1.5 .1-.7 .1-1.5 .2-1.9 .1-1.5 .1-2.7 .2-1.5 .1-1.5 .2-1.4 .1-1.5 .1-.3 .2-1.5 .1-3.3 .2-1.5 .1,1.1 .2-1.5 .1-1.3 .2-1.5 .1-6.5 .2-1.5 .1,1.5 .2-1.5 .2-2.5 .1-1.5 .2-1.3 .2-1.6 .1-.4 .1-1.6 .1-1.6 .2-2.1 .1-1.7 .1-.4 .2-1.6 .2-1.9 .2-1.4 .3-1.4 .3-3.1 .3-.5 .3,2 .3-6.9 .3,6.4 .4-1.2 .3-6.2 .4,3.3 .3,1.9 .3-1.1 .3,1.5 .4-2.7 .3,1 .3,.5 .3,2.7 .4,1.1 .3,.4 .3,1.4 .3,1.8 .3,2.4 .2,.2 .3,2.9 .2,1.4 .2,1.4 .2,.8 .2,1.5 .1,1.5 .2,1.5 .1,4.6 .2,1.5 .1-1.7 .1,1.5 .1,1.5 .2,3.1 .1,1.5 .1,2.9 .1,1.5 .1,1.5 .1,.6 .1,1.5 .2,1.5 .1,.4 .1,1.5 .1,3 .1,1.5 .2,1.4 .1-2.1 .1,1.5 .1,1.5 .1,1.8 .1,1.5 .1,1.5 .1,2.7 .1,1.5 .1,1.5 .1,1.8 .1,1.5 .1,1.5 .1,1.6 .1,1.5 .1,1.5 .1,4.4 .1,1.5 .1,1.5 .1,1.2 .1,1.5 .1,1.5 .2-1 .1,1.5 .1,1.5 .1,1.9 .1,1.5 .1-.2 .2,1.5 .1,1.5 .1,3.3 .1,1.5 .2-.9 .1,1.5 .1,1.5 .1,5.4 .2,1.5 .1-1.3 .1,1.5 .1,1.5 .2,3 .1,1.5 .1-1.1 .1,1.5 .2,1.5 .1,5.3 .1,1.4 .2,.5 .1,1.5 .1,3.3 .1,1.5 .2,1.5 .1-1.1 .1,1.5 .1,1.5 .1-.8 .1,1.5 .2,2.6 .1,1.5 .1,1.5 .1,.9 .1,1.5 .2,5.3 .1,1.5 .1,1.5 .1-1.5 .2,1.5 .1,1.3 .1,1.5 .1,1.5 .2,3.3 .1,1.5 .2,1 .1,1.5 .2,1.8 .1,1.5 .2,.2 .1,1.5 .2-.5 .2,1.5 .2,2.3 .1,.5 .2,1.4 .2,6 .2,1.5 .3,1 .2-.1 .2,2.7 .2,1.5 .3,1.5 .2,1.5 .3,1.3 .2,1.5 .3,1.9 .2,.5 .3-1.4 .3,.8 .3,6.5 .3,.6 .2-2.4 .3,4.8 .3,.2 .3,1.9 .3-1.1 .3,5.6 .4,.5 .3,2.5 .3,1.8 .3,1.6 .3,1.8 .3-.3 .4,1.2 .3,.3 .3,2.7 .3,.3 .3,0 .3,4.1 .4,.5 .3-2.9 .3,2.1 .3,3 .3-.3 .4,4.1 .3-.3 .3,1.4 .3,1.4 .3,1.4 .3-1 .4,1.9 .3,.5 .3,1.4 .3,.6 .4,1.7 .3-.3 .3-.4 .3,1.3 .3-.7 .4,2.3 .3,2 .3-1.8 .3,1.2 .4,.2 .3,1.1 .3-.1 .3,1.4 .3-.7 .4,3.5 .3-1.5 .3,1.4 .3,.8 .3-.6 .4,1.2 .3-.2 .3,.2 .3,.8 .4,1.3 .3-1.5 .3,.9 .4,.7 .3,.7 .3,2.4 .3-.9 .3,.1 .3,1 .4-.6 .3,2.5 .3-3.4 .3,2.1 .3,3.1 .3,.5 .4-1 .3-.3 .3,1.9 .4-1 .3,2.7 .3,0 .4-.1 .3-1.4 .3,2.5 .3-1 .3,.4 .3,.2 .4,.8 .3,1.1 .3,.7 .4,.4 .3-.9 .3,2.1 .4-1.7 .3,.9 .3-.7 .4,3 .3-.7 .3,.2 .3,0 .3,1.5 .3-1.3 .4,1.3 .3,2.7 .3-2.6 .4-.3 .3-.1 .3,2.3 .4-.5 .3-.7 .3,1.2 .4-.9 .3,3.7 .4-2.3 .3,.3 .3,.3 .3-1.6 .3,.6 .4,1.4 .3,.6 .3-1.1 .4,3.5 .3-1.1 .3,1 .4-1.3 .3,3.1 .4-2.2 .3-2 .4-.3 .3,2.8 .3,1.1 .3-.7 .3,2 .3-2 .4,1.1 .3,.4 .3-1.8 .3,1.6 .4,.2 .3,.9 .3,.1 .3-1.8 .4,1.7 .3,.5 .3-1.1 .4,.9 .3,.1 .3,.4 .4-1.1 .3,.4 .3-.3 .4-.1 .3-.7 .3,.3 .4,.1 .3,1 .4-.1 .3,.1 .4-.9 .3,1.6 .4-2 .3,1 .4-1.3 .4,.1 .3,1.5 .4-.7 .3,.2 .4,.3 .4-.4 .3,.6 .4-1.4 .3,.4 .4,.7 .4-1.4 .3,.7 .4,.3 .3-2 .4,3.8 .3-2 .3,.7 .4-1.7 .3-.3 .3,1.5 .4-.4 .3-.7 .3-.1 .4,1.4 .3,.4 .3,.2 .3-1.1 .4,.2 .3-1.2 .3,2.1 .3-.3 .4-.1 .3-3.1 .3,2.6 .4-1.9 .3,1.1 .3-.2 .3,.7 .3-1.7 .4-.3 .3-1 .3-.3 .3,0 .3,1.5 .3-1.3 .4-.4 .3,1.4 .4-.4 .3-2.3 .3,.7 .4-.1 .3,.4 .4-1.8 .3,.1 .3,0 .3,.6 .3,0 .3-1.9 .4,.8 .3-1.7 .4-1.1 .3,.8 .3-2.3 .3,2.5 .4,0 .3,.5 .3-1.2 .3-2.7 .4,1.2 .3,.7 .3-3.5 .3,1.1 .3,1.2 .4-1.1 .3-2.7 .3,1.3 .4,.1 .3,1.8 .3-3.7 .3,.8 .3-.4 .4-.3 .3,.4 .3-2.2 .3-1.9 .4,1 .3-.6 .3,.5 .4-.8 .3-2.3 .3,1 .3-.3 .3-2 .4,.6 .3-1.5 .3-.7 .3-1.1 .3,.4 .4,1.6 .3-3.7 .3-2.3 .3,.3 .3-.2 .4-1.3 .3,2.2 .3-2.9 .3,.5 .3-3.8 .4-.3 .3,1.7 .3-5.2 .3,1.1 .3-2.9 .3,2.6 .3-4.5 .4,.3 .3-1 .3-2.9 .3,3.7 .3-4.3 .3,.8 .4-4.1 .3-2.3 .3,.5 .3-1.5 .2,1.8 .3-6.2 .3-1.5 .3-2 .2-.5 .2-.3 .3-1.1 .2-1.5 .2-3.1 .2-1 .3-1.5 .1-.4 .2-.8 .2-1.5 .2-3.6 .2-1.5 .1-.6 .2-1.5 .1-5.1 .2-1.5 .1,.8 .1-1.5 .1,.3 .2-1.5 .1-1.5 .1-2.1 .1-1.5 .1-1.5 .1-1.7 .1-1.5 .1-1.5 .1,.8 .1-1.5 .1-1.5 .1-1.5 0-3.9 .1-1.5 .1-1.5 .1-2.6 .1-1.5 .1-1.5 .1,.2 .1-1.5 .1-1.5 .2-1.5 .1-1.4 .1-1.5 .1-3.3 .1-1.5 .2,1.3 .1-1.5 .1-1.4 .1-.6 .2-1.5 .1-4.6 .1-1.5 .1-1.5 .2-1.8 .1-1.5 .1-.5 .1-1.5 .2,.4 .1-1.5 .1-1.5 .2-4 .1-1.5 .1-1.7 .1-1.5 .1-1.5 .2-1.3 .1-1.5 .1-1.5 .1-.4 .1-1.5 .1-1.5 0-1.5 .1-1.5 .1-1.5 .1-2.1 .2-1.5 .1-1.5 .1,.5 .1-1.5 .2,0 .1-1.5 .2-5.5 .2-1.5 .2,.9 .2-2.6 .3-1.5 .3,2.5 .3-6.9 .3,.2 .3-3.3 .3,.8 .4,.4 .3-4.1 .3,1.5 .3,1.6 .3-4.2 .4-1.1 .3-3.1 .3,3 .3-2.7 .3,2.7 .4,1.1 .3-2.1 .3-2.4 .4,1.7 .3-2 .3-1.3 .3,.5 .3,.9 .4-1.2 .3,1.2 .3,2.5 .3-2.1 .3,.6 .4-1.5 .3,3.8 .3,.5 .3-1.5 .3,2.9 .3-2.3 .4,4.7 .3,1.1 .3,1.6 .2,1.6 .3,5.5 .2-3.3 .2,3.5 .2,1.5 .2,1.5 .2,1.5 .1,2.4 .2,1.5 .1,2.2 .2,1.5 .1-2.2 .2,1.5 .1,3 .1,1.5 .2,1.2 .1,1.5 .2,3.5 .1,1.5 .2,1.8 .1,1.5 .2,1.5 .1-.4 .2,1.5 .1,1.3 .1,1.5 .2,.9 .1,1.5 .2,3.3 .1,1.5 .1,3.3 .2,1.5 .1,1.5 .1-.3 .1,1.5 .2,0 .1,1.5 .1,1.5 .1,1.4 .2,1.5 .1,1.6 .1,1.5 .1,1.5 .1,.3 .1,1.5 .1,1.5 .1,5.9 .1,1.5 .1,1.5 .1-.7 .1,1.5 .1,1.5 .1,1 .1,1.5 .1,1.5 .2,4.8 .1,1.5 .1,1.5 .1-1.1 .1,1.5 .1,3.1 .2,1.5 .1,1.5 .2-.1 .1,1.5 .2,2.5 .2,.2 .1,1.5 .2,1 .2,1.4 .2,2.5 .1,1.5 .2,1.9 .2,1.5 .2,1.9 .1,.4 .2,1.5 .2,.9 .1,1.5 .2,1.4 .1,1.5 .2,2.3 .1,1.5 .1,1.5 .1,.5 .2,1.5 .1,1.7 .1,1.5 .1,1.5 .1,2.5 .1,1.5 .1,1.5 .1,1.5 .1,1.5 .1,1.5 .1,1.5 .1,1.4 .1,1.5 .1,1.5 .1,.1 .1,1.5 .1,.6 .2,1.5 .1,1.5 .1,3.5 .2,1.5 .1,1.3 .2,1.5 .1,.9 .2,1.5 .2,2.2 .1,1.5 .2,2.2 .2,.3 .2,1.5 .1,2.2 .2,1.4 .2,0 .2,2.3 .2,1.5 .3,.8 .2,.8 .2,1.5 .2,3.6 .3-2.1 .2,4.5 .3,2.4 .3,1.4 .2,1.1 .3-.6 .3,3.4 .3-.8 .3,2.5 .3,3.9 .4,.1 .3,2.6 .3-1 .3,.4 .3,2.8 .3,3.6 .4,1.1 .3,1.5 .3,.2 .3,1.5 .3,1.3 .3,4.5 .3-1.4 .4,3 .3-.6 .3,.4 .3,1.8 .3,2.1 .3,.3 .4,1.3 .3,1.4 .3,.7 .3,3.2 .3,.6 .3-1.5 .4,4.1 .3-.8 .3,.9 .3,.8 .3,1.9 .3,.6 .4-.3 .3,1.3 .3-.5 .3,3.8 .3-1.8 .4,.7 .3,.9 .3,1.5 .3,1.2 .3-.3 .4,1 .3,.3 .3,2.2 .3-.4 .3-1.2 .4,3.6 .3-.4 .3-.3 .3,.7 .4,.8 .3-.6 .3,1.6 .3,2 .3,.1 .4-2.4 .3,3.9 .3-.4 .3,1 .3-.3 .4,.6 .3,.3 .3,.4 .3-.5 .4,2.3 .3-.3 .3,.6 .4,.3 .3-.1 .3,.6 .3-.8 .3,1.8 .3,.5 .3-.1 .4-1 .3,3.2 .3-1 .3,.5 .3,.2 .3,.3 .4-.3 .3,.9 .3,2.8 .3-.4 .4,1.2 .3-1.9 .3-.7 .4,.9 .3-.7 .3,3.8 .3,.6 .4-.6 .3,.7 .3,.5 .3,0 .3,1.2 .3-1 .4,1 .3,.7 .3-.9 .3,1.1 .3,1.7 .4,.4 .3-2 .3,2.9 .3,.8 .4-.3 .3,1 .3-1.1 .4,1.3 .3-.3 .3,.8 .3,1.9 .3,.7 .4-1 .3,0 .3,1.4 .3,.1 .4,1.5 .3-.8 .3-2.2 .3,2.3 .3,0 .4-.1 .3,1 .3-.1 .4,1.8 .3-.7 .4,.3 .3,0 .3,1.2 .3-1.7 .4,2.1 .3-.9 .3,1.7 .4,.1 .3-.5 .3-.6 .4,.9 .3-1.2 .4,1.1 .3-.1 .3,1.9 .3,.5 .3-1.9 .4,.4 .3-.5 .3,1.5 .3,.6 .3,1 .4-2.4 .3,2 .3-.8 .3-.3 .4,.5 .3-.2 .3,1.1 .3-.3 .4,1.1 .3-2.4 .3,.9 .3,1.1 .4-1.3 .3,.6 .3,1.2 .3-1.5 .4,1.8 .3-.3 .3-.7 .4,.5 .3-.3 .4,.2 .3,.1 .3,.2 .4-.4 .3-.2 .4,2.6 .3-2.5 .4,.8 .4,1.1 .3-.1 .4,.9 .3-.1 .4-1.7 .3-.7 .4,1.6 .4-.6 .3-.5 .4,.2 .3,.7 .4,.6 .3-2.3 .4-.3 .3,2.8 .4-.2 .3-.4 .4,.9 .3-.3 .4-.9 .3,.1 .4,.4 .3,.4 .3-1.1 .4,.6 .3-.1 .3-.1 .4-.7 .3,1.2 .3-1.9 .4,1 .3,1.3 .4-2 .3,1.1 .3,0 .4-.2 .3,.4 .4-.9 .3,.2 .4-.3 .3-.4 .3,.8 .4,0 .3-2.9 .3,.7 .4,.3 .3-1.9 .3,2.8 .3-2 .3,.8 .4-.8 .3-.9 .4,.2 .3,.1 .3,.4 .3-1.2 .4-.4 .3-.2 .3,1 .3-1.2 .3-1.1 .4-.8 .3,.3 .3-.9 .3,0 .4,1 .3-1 .3-.9 .3-.4 .3,.5 .4-1.6 .3-1.2 .3-.4 .3-.7 .3-1.1 .4,0 .3-3.1 .3,1.3 .3-.5 .3-2.3 .4-.9 .3,1.6 .3-3.4 .3-.5 .3-1.4 .3-.8 .4-1.1 .3-2.2 .3,2.9 .3-3.9 .3-.1 .3-1.6 .4,.1 .3-1.9 .3-.9 .3-1.3 .3-1.7 .3-2.1 .3-.7 .4-3.8 .3,.9 .3-1.7 .3-1.8 .3-3 .3,1 .3-3.4 .3-.2 .3-3.8 .3,.1 .4-1.9 .3-1.6 .3-1.3 .3,.9 .3-3.3 .3-1.1 .3,.3 .3-5 .3,1.5 .3-3.3 .3-1.8 .3-1.2 .3-2.9 .3-1.2 .3-1.1 .3-.9 .2-.2 .3-1.4 .3-1.1 .3-3 .2-.7 .2-1.4 .3-1.5 .2-2.2 .2-1 .1-1.5 .2-2.4 .2-1.5 .1-.2 .2-1.5 .2-2.4 .1-1.2 .2-1.5 .2-1.2 .2-1.5 .2-1.6 .3-2.4 .2-2.2 .3,0 .3-2 .3-1.1 .3-.6 .4-1.7 .3,.3 .3-.9 .3-2.3 .3,.5 .4-2.2 .3,1 .3-.8 .3-1.5 .3,.2 .4-.7 .3-1.5 .3-3.3 .3,1.4 .4-.7 .3,0 .3-2.7 .3,1.3 .4-.9 .3-.4 .3-1.9 .4,2 .3-.5 .3-1.1 .3,1.4 .3-.7 .4-.3 .3-.9 .3,3.5 .3-.6 .3,1.1 .4-1.6 .3,2.2 .3,1.8 .3,.2 .4,.3 .3,.4 .3,2.4 .3,.4 .3,1.1 .4,1.1 .3,.8 .3,1.6 .3,.9 .3,2.1 .4-.2 .3,1.7 .3,2.6 .3,1.2 .3,1.8 .3,3.5 .3,.1 .3,1.9 .3,.7 .3,.9 .2,.8 .3,.3 .2,2 .3,.5 .2,1.5 .3,2.8 .2,1 .2,2.1 .3,1.5 .2,2.4 .2,1.1 .2,1.5 .2,2.8 .1,1.5 .2,1.5 .2,1.6 .2,1.5 .1,1.3 .2,1.5 .2,.9 .2,.7 .2,1.5 .2,2.4 .2,1.5 .2,.8 .2,1.6 .2,1.5 .2,2 .3,.1 .2,.9 .2,1.5 .2,3.4 .2,2.8 .3,1.5 .2,.9 .3,3.9 .2-3.3 .3,2.2 .2,1.4 .3,0 .3,2.8 .3,4 .2,1.2 .3-.9 .3,2.1 .3,1 .3,1 .3,2.5 .4,1.4 .3,1.8 .3,1.5 .3,1.8 .3,1.9 .3,.1 .4,1.3 .3,1.5 .3,1.7 .3,.8 .3,.6 .3,1.7 .4,2.3 .3-.2 .3,2.7 .3-.7 .3,2.8 .3,1.1 .4,.4 .3,1.1 .3,.9 .3,2.4 .3-.8 .3,.7 .4,1.7 .3,1.4 .3,.1 .3,1.3 .3-.7 .3,.7 .4,.3 .3,2.6 .3-2.1 .3,1.3 .3,1.8 .4,.7 .3,1.6 .3-.5 .3-.1 .4,1.9 .3,.3 .3,.6 .3,.4 .4,0 .3-1 .3,.7 .4,2.8 .3-1.1 .3-1 .3,1.8 .3,1.1 .3-.1 .4,.1 .3,.4 .3,.2 .4,1.7 .3-.9 .3,.3 .4,0 .3,.5 .3,.6 .3-.3 .4-.1 .3,0 .3,1.3 .4-.1 .3,.2 .3-.1 .4-.6 .3,2.3 .4,.4 .3-.4 .3-.2 .3,.7 .4-1.3 .3,.3 .3,2 .3-1.5 .3,.9 .4-.3 .3-1.1 .3,1.5 .3,1.2 .4,.5 .3-2.6 .3,.8 .3,.9 .3,1.4 .4,.4 .3,.2 .3-1.4 .3-.3 .4,1.5 .3-.7 .3,.3 .3-.1 .4,0 .3,1.1 .3-1.3 .3-.4 .4,.8 .3,.7 .3-.2 .4,.3 .3-.5 .4,1.5 .3-.8 .3-.3 .4,1.4 .3-1.1 .4,1.1 .3-.3 .3,.2 .4,.5 .3,1 .4-2.2 .3-.1 .3,.7 .4,.2 .3,.7 .4-.4 .3,.2 .4-1.3 .3,1.3 .3,1.3 .4-.6 .3-.4 .4-.8 .3,.9 .3,.1 .4,0 .3,.3 .4,.4 .3,0 .3,1.4 .4-2.6 .3,1.5 .4-1.1 .3,.8 .3,.2 .4-.4 .3,1.2 .4,0 .3-.2 .4,.4 .3-.6 .3,.7 .4-.2 .3,0 .4-.3 .3,1.7 .4-1 .3-1.2 .3,1.5 .4-.1 .3,.4 .4,.5 .3-.9 .4-.6 .3,1.9 .4-.6 .3,.2 .3-1.1 .4-1.1 .3,1.6 .4-1.8 .4,.7 .3-.3 .3,1.9 .3-.2 .3-1.1 .3,1.3 .4-.8 .3-1.5 .3,1.2 .3-1 .3,1.3 .4,.2 .3-.8 .3,1.1 .3,.2 .3-1.4 .4,1.1 .3-.6 .3,1.4 .3-1.7 .4,.2 .3,.2 .4,.5 .3,.1 .4-1.2 .3,1.6 .3,.4 .3,.1 .4-1.3 .3-.5 .3,.6 .4-.3 .3,0 .3-.4 .3-1.2 .3,1.4 .4-.1 .3-.2 .4-1 .3,.7 .3-.2 .4-.9 .3,1 .3-.8 .3-.2 .4-.2 .3-.8 .3,.1 .3-.3 .4-.3 .3-1.3 .3,.2 .3-.2 .4-2.4 .3,.1 .3-.2 .3-.6 .4,.7 .3-1 .3-1.6 .3-.6 .3-1.5 .4-.3 .3,1.2 .3-3 .3,1.1 .3-1.7 .4-.4 .3-.6 .3,.7 .3-1.9 .3-.7 .3-.4 .4-.3 .3-3.6 .3-.2 .3,.1 .3-2.5 .4-1.4 .3,1.3 .3-2.2 .3-.1 .3-1.3 .3-1.7 .3,.6 .4-2.6 .3,.8 .3-3.4 .3-1 .3-.8 .3-.3 .4-2.2 .3-.7 .3,.8 .3-2.2 .3-.3 .3-1.7 .4-1.9 .3-1.3 .3-.3 .3-1.3 .3-1.6 .3-1.2 .4,.6 .3-1.5 .3-1.8 .3-1.8 .3-1.2 .3,.9 .4-3.5 .3,1.4 .3-4 .3-2.1 .3,1.8 .3-3.3 .3,0 .4-2.4 .3-2.1 .3-.4 .3-2.5 .3-.7 .3-1.9 .4-2.9 .3-.1 .3-.8 .3-.7 .3-2.8 .3,.8 .3-.9 .4,.3 .3-2 .3-1.3 .3-1.8 .4-.2 .3-2.1 .3,1.1 .3-1.3 .3-.8 .3-.3 .4-.2 .3-.7 .3-2 .3,1.9 .3-1.9 .4-.2 .3-.9 .3-1.4 .3,.7 .4-1.1 .3-1 .3,.4 .4,0 .3-.9 .3-1.3 .3-.1 .4-.2 .3-1.7 .3,1.9 .3-1.1 .4-1.7 .3,2.5 .3,.3 .3-3.3 .4,1.1 .3-.5 .3,1.7 .3-1.8 .4,2.1 .3,.3 .3,1.1 .3-2.5 .3,1.7 .4,1.1 .3,1.8 .3,.5 .3,.4 .4-.5 .3,1.6 .3,.5 .3,1 .3,.3 .4,2.5 .3,.5 .3-1.2 .3,3.4 .3-.3 .4,.1 .3,3.6 .3,0 .3,1.5 .3,.7 .3,1.4 .4-.4 .3,3.8 .3,0 .3,2.2 .3,1.3 .3,.7 .4,1.1 .3,2.5 .3,2.6 .3-.4 .3,1.4 .3,2 .4,.8 .3,3.1 .3,.7 .3,3.2 .3-.6 .3,3.3 .4-1 .3,2.1 .3,.4 .3,2.1 .2,1.5 .3,2.3 .3,2.1 .2,.1 .3,.5 .3,2.7 .2,1.4 .3,1.4 .3,1.2 .3,2.6 .3,1.7 .3-.1 .3,1.5 .3-.1 .3,2.9 .3,2.4 .4-.1 .3,2.6 .3,1 .3,1.1 .3,1.2 .3,.6 .4,1.9 .3,1.1 .3,.6 .3,.8 .3,2.1 .3,1.3 .4-.5 .3,2.2 .3,.7 .3,3.1 .3-.4 .3,1.4 .3,2.5 .4-.2 .3,2.3 .3,0 .3,2 .3,.7 .4,.2 .3-1.9 .3,.6 .4-.6 .3,4.2 .3-1.9 .3,.5 .3,.8 .4,.9 .3-.1 .3,.8 .4,.6 .3-.3 .3,2.7 .3,.6 .3-.6 .3,.5 .4,1.9 .3-.6 .3,.8 .4-.2 .3,1 .3-1.5 .3,.5 .3,2.2 .4-.1 .3,.6 .3,.1 .3,.6 .4,.1 .3,0 .3,.6 .3-.4 .4,1.6 .3-1.3 .3,.6 .4,1.1 .3,.2 .4,.6 .3-.2 .4-.6 .3,1.7 .3-.7 .3-.8 .3,2.2 .3-1.1 .4,.5 .3,.3 .3-.7 .3,1.1 .4-1.3 .3,.3 .3,.6 .3,1.8 .4-.9 .3,.5 .3-.3 .3-1.6 .4,1.3 .3,.5 .3-.5 .3-.8 .3,.3 .4,1.5 .3,.6 .3-1 .4,1.3 .3-1.8 .3,1.4 .4-.2 .3,.6 .4,.1 .3-.5 .4-.6 .3,.4 .4,.2 .3,.4 .4-.7 .3,.1 .4,.6 .3,.4 .4,.3 .3-1.7 .4,1.2 .3,.3 .4-.1 .3,.5 .4,.6 .3-1.1 .4-.4 .3,1 .4-.4 .3,.1 .4,.1 .3-.2 .4-.4 .3-.8 .4,1.9 .3-.4 .3-.3 .4,.9 .3-1 .3,.8 .3-.2 .4-.7 .3-.7 .3,1.1 .4-.2 .3-1.2 .3,.8 .3,.2 .4,0 .3-.2 .3,.1 .4-1.8 .3,1.2 .3-.3 .4-.6 .3,1 .3-.4 .3-.6 .4-.3 .3,1 .3-1.9 .3,.8 .4,.7 .3,1 .4-.7 .3-.8 .3,.9 .4,.1 .3-.7 .3,.4 .4-1.2 .3,.1 .3-.7 .4-.1 .3-.8 .3,.2 .3,1.1 .4-1.3 .3-1.1 .3,.8 .3-.8 .3-2.4 .4-.5 .3,.8 .3-2 .3-.9 .3-1.6 .4-1.6 .3,.4 .3-2.6 .3-.3 .3-.3 .3-2.1 .3-1.7 .4-.5 .3-1.1 .3-1.6 .3-.3 .3-2 .4-1.3 .3,0 .3-1.9 .3-.1 .3-.6 .4-.7 .3,.3 .3-3.1 .3-.6 .3-1.4 .4,1.4 .3-3.1 .3-.5 .3-.8 .3,1.1 .3-2.9 .4-1.2 .3,.8 .3-2.3 .3-1.9 .3,1.9 .4-.9 .3-2.6 .3-.5 .3,.3 .4-1.3 .3-1.1 .3-.3 .3,1.9 .4-1.2 .3-2.2 .3,.2 .3-.3 .4-.9 .3-.2 .3-.9 .3-.6 .4,.1 .3-.9 .3-.3 .3-.4 .4-.8 .3,1.4 .3-1.9 .4,1.3 .3-2.2 .3-.4 .3,.6 .4-.7 .3,.6 .3-.4 .3,1.1 .3-4.7 .4,1.3 .3,.4 .3-.1 .3,2 .4-4.5 .3,2.3 .4-1.1 .3,0 .3,.7 .4-1.2 .3,.5 .3,.2 .3-.2 .3-2.8 .3,.9 .3-.8 .4,.4 .3,.4 .3,1.9 .4-2.4 .3,.3 .4,1.5 .3-1.8 .3,1 .4,.4 .3-.2 .3-2.1 .3,.7 .4,1.8 .3-2 .3,1.5 .3-.9 .4,1.8 .3-.2 .3-1.2 .3,1.4 .3-.5 .4,.6 .3,1.8 .3-.6 .3,1.3 .3-1 .4,1.3 .3-.5 .4,.2 .3-.2 .3-.1 .4,.1 .3,.4 .3,1.6 .3,.2 .4-.7 .3,2.1 .3-1.2 .3,.5 .3-.4 .4,.9 .3,1.5 .3-.4 .4,2 .3-.5 .3,.7 .3,1.4 .3,.1 .4,0 .3,.1 .3,2.6 .3-2.2 .3,2.3 .4-.1 .3,1.8 .3,2 .3,0 .3,.9 .4,1.2 .3,2.5 .3,.5 .3,.1 .3,.2 .4,1.2 .3,1.5 .3,.6 .3,1.2 .3,.4 .3,.9 .4,1.4 .3,2.3 .3,.3 .3,3.8 .3-.2 .3,1.5 .4-.3 .3,1 .3,1.8 .3,1.7 .3,.9 .3,1.8 .4,.7 .3,.7 .3,.9 .3,.3 .3,1.2 .4,.1 .3,.7 .3,1.7 .3-1 .3,2.9 .3,1.1 .3-.9 .4,1.6 .3,.3 .3,0 .3,1.6 .4,.9 .3,1 .3-.2 .3,1 .3,.2 .4,1.7 .3-.1 .3,1.3 .3-.2 .3,1.2 .4,0 .3,.8 .3,1.1 .3,.8 .4,1.2 .3-.3 .3,2.3 .3-1 .3,.8 .3,2.2 .4-1.8 .3,2.6 .3-.3 .4,.5 .3-.4 .3,1.1 .3-.4 .4,1.7 .3-.4 .3,.1 .3,.4 .4,.5 .3,1 .3-.1 .3-.4 .4,.2 .3,1.3 .3,0 .3-.7 .4-.1 .3,1.1 .3-.1 .3,.7 .3-.2 .3,.4 .4,.3 .3,.1 .4-.7 .3,.5 .3-.8 .4-.5 .3,.8 .3,.4 .3-.8 .4-1.1 .3,1 .3-.5 .3,.3 .4,.1 .3-1.1 .3-.4 .4,0 .3-.4 .3-.4 .3,.4 .4-.8 .3,0 .4-.3 .3-.5 .3-.2 .3-.1 .4,.2 .3-.9 .3-1.1 .3,.2 .4-.5 .3,.2 .3,.1 .3-1.4 .3-.8 .3,.3 .4-2 .3-.1 .3-.7 .3-1.1 .3-.8 .4-.6 .3,.1 .3-1.4 .3-1.4 .3-.1 .4-.2 .3-.2 .3-1.3 .3-1.1 .3,.1 .4-1 .3-1.2 .3-1.2 .3,.4 .3-2 .3-1.1 .4,.8 .3-2 .3-.5 .3,.2 .3-.6 .4-.4 .3-.4 .3-.2 .3-1 .4-1 .3-1.9 .3,2.2 .4-.9 .3-.6 .3-.9 .3-1.1 .4,.5 .3-1.6 .3,1.3 .3-2 .4,.4 .3,1.3 .3-1.9 .4,.6 .3,.5 .3-.7 .3-.9 .4,.7 .3,.5 .3-.9 .4,2.3 .3-.6 .4,.2 .3,.3 .3-.3 .3-.6 .3,1.7 .4-.2 .3,1.3 .3-1.7 .3,1.1 .4,1.6 .3-2.2 .3,.3 .4,1.1 .3,1.1 .3-1.9 .3,1 .4-.1 .3-.2 .4,.3 .3,.3 .3-.9 .4,.6 .3,.6 .4-1 .3,.6 .4,.2 .3-1.1 .4,.4 .4,1.2 .3-.1 .4-.2 .3,1.3 .4-.7 .3-.6 .4,1 .3-1.1 .3-.3 .4,1.7 .3-.7 .3-.9 .4,1.3 .3-1.3 .3,.4 .3-.2 .4-.9 .3,1.8 .3,1.8 .3-2.2 .3-.3 .3-.6 .4-.1 .3,.1 .3,0 .4-.7 .3-.4 .4,.3 .3,0 .4-.2 .3-1.3 .4-.3 .3-.1 .4-.2 .3,.2 .4-.3 .3,.5 .4-2 .3,1.4 .3-1.2 .3,.6 .3-1.5 .4,.8 .3-.5 .3,1.7 .3-2 .3,1.5 .4-1.4 .3,.8 .3,.5 .4-.7 .3,.5 .4-.2 .4-.2 .3,1.1 .3-.9 .3,.7 .3-1.4 .3,.8 .3,.8 .4-.9 .3-1.1 .3,2.2 .3-.1 .4-.5 .3,.1 .4,.7 .3,.6 .3-.4 .4-.2 .3-.1 .3,.3 .3-.1 .4,1.2 .3-1.2 .3,.5 .4,.8 .3,.2 .3-.3 .3,.7 .4-.8 .3,.3 .3,.6 .3,1.6 .4,1.2 .3-.7 .3,.5 .3,.9 .4,2.1 .3-.4 .3,.6 .3,.3 .3,1.3 .4,1.2 .3-.1 .3-.1 .3,1.9 .3-.4 .4,1.6 .3-1.4 .3,1.2 .4-.9 .3,1.6 .3,.7 .4-.1 .3,.7 .3,.2 .3-.4 .3,1.4 .4-.6 .3,.6 .3,0 .4,1.2 .3-.4 .3,.3 .4-.7 .3,1.4 .3-.9 .4,1.8 .3-.1 .3-.8 .3,1 .4,1 .3-.5 .3,.3 .3,.5 .3-.9 .4,.5 .3-1.8 .3-.5 .3,.7 .3-.7 .4-1 .3-2 .3,.6 .4-.4 .3,1.9 .3-1.9 .3,.3 .4,1.4 .3-.2 .3,.6 .3,.7 .4,.3 .3-.8 .3,.9 .3,2.2 .4-.6 .3,1.5 .4,.1 .3,.1 .3-.4 .3,1.2 .3-1.1 .4,1.9 .3-.8 .3-.4 .4,.1 .3,.4 .3,0 .3-.1 .4,.1 .3,.9 .3,.8 .3,.6 .4-.6 .3-.3 .3,.6 .4,.8 .3-.8 .3,.6 .4-.2 .3-.4 .4,.8 .3-.8 .3,0 .4,1 .3,.4 .4,.1 .3,0 .4-.6 .3,.9 .3,.6 .4-2.8 .3,2.4 .4-.6 .3-.1 .4-.4 .3,0 .3-.3 .4,.9 .3-.3 .4-.8 .3,1.6 .4-.3 .3-1.1 .4,1 .3-.5 .4-.3 .3,1 .4,.4 .3-.8 .4,.6 .3-.3 .4,0 .3,.2 .4-1.4 .3,1.7 .4-1.7 .3,.3 .4,1.6 .3-1.7 .4,.6 .3,.1 .4,.4 .4,0 .3-.9 .4,1.4 .3-1.5 .4,.2 .3,.2 .3,.2 .3-.8 .4-.7 .3,1 .3-.2 .3,.1 .4,.4 .3,.2 .3-.6 .4,.4 .3-1 .3,.6 .3,.5 .4-1.2 .3-.1 .3-.3 .3,.1 .4-.8 .3-.9 .3-1.2 .3,.1 .4-2.7 .3,1.3 .3-.6 .3-1.2 .4,.2 .3-1.9 .3-1.4 .3,.6 .3-1.1 .3-.6 .4,.1 .3-2.2 .3,.1 .3-.7 .3-.7 .4-2.8 .3,.7 .3-1.2 .3-.3 .3-.9 .3-.3 .4,.4 .3,0 .3-1.2 .3-1.8 .4,1.1 .3-2.2 .3,.2 .3,.5 .4-1.6 .3-.2 .3-1 .3,.5 .3-.8 .3,1.2 .4-.3 .3-.5 .3-2.1 .4,1.8 .3-1.3 .3,.1 .3-.3 .3-.5 .3,.6 .4,.8 .3,.8 .3-.1 .3,.2 .3,.3 .4,.9 .3,2.2 .3,.2 .3,.7 .3-.2 .4,.9 .3,2.7 .3,1 .3,1.2 .3,.4 .4,.2 .3,.7 .3-.2 .3,2.5 .3,1 .4,1.4 .3-1.2 .3,1.1 .3,2.1 .3,.7 .3-.6 .4,1.7 .3,1.3 .3,.5 .3,1.2 .3,.6 .4,.3 .3,1.3 .3,.4 .3,1.4 .3-.9 .4,1.5 .3,.4 .3,1.1 .3,1.1 .3,.9 .4-.9 .3,2.6 .3,.3 .3,.6 .3,.4 .4,1 .3-1 .3,1.1 .4,.7 .3,.3 .3,.2 .3,.9 .4-.8 .3,.4 .3-.1 .3,.5 .4,.2 .3-.9 .3,.6 .3-.8 .4,.8 .3-2.3 .4,.9 .3-.5 .3-.8 .3-.2 .4,.5 .3-1 .3,.6 .3-.9 .4-.7 .3-.2 .3,.2 .4,.1 .3-1.3 .4-.5 .3-.1 .4,1.5 .3-1.4 .3,.5 .3-.7 .3,.7 .4-1.5 .3,1.1 .4-1.2 .3,.2 .4,.6 .3-.5 .4,.4 .4-.3 .3,.7 .4-.5 .3-1 .4,.4 .4-.3 .3,1.2 .4-1.6 .3,1.1 .4,.1 .3,.6 .3-1.7 .3,.1 .4-.1 .3-.5 .3,1.1 .4-2.5 .3,1 .3,.7 .3-1.5 .4-.1 .3,.1 .3-.3 .3-.5 .4-.4 .3,.7 .3-2.9 .3,.6 .4-.9 .3,.3 .3-1 .4,0 .3-.9 .3,.9 .3-2.3 .4,.3 .3-1.3 .3-.2 .4-1.5 .3,1 .3-.9 .3,.1 .4-1.2 .3,0 .3-.4 .3,1.5 .4-2.3 .3,1.3 .4-.1 .3,.7 .3-1.5 .4,1 .3-1.3 .3,1.8 .3-.7 .3-.3 .4,.2 .3,.8 .3-1.3 .4,2.3 .3-1.5 .4,1.6 .3-.8 .4-.7 .3,1.5 .4-.5 .3-.2 .4,1.1 .3-.6 .4-.1 .3,.5 .3,.1 .4,.3 .3,.9 .4-.6 .3-.2 .3,1.1 .4-.5 .3-.3 .3,.1 .3,2 .4-1 .3,1.3 .3-1.5 .4,.2 .3,.8 .3,.3 .4,.3 .3-.2 .3,1.6 .4-1 .3,1.6 .3-.7 .4,2.7 .3-.8 .3,.6 .3-1.3 .4,1.6 .3-.3 .3,.2 .4,1.3 .3-.1 .3-.1 .4,.1 .3,.2 .3,.2 .3,.2 .4-.4 .3,.1 .4-.8 .3,1.3 .3,.4 .4-.6 .3-.2 .4,.5 .3,.7 .3-.6 .3-.6 .4,.7 .3-.5 .3,.9 .3-.2 .3-.6 .4,.5 .3,.7 .3-.3 .3-.2 .3-.6 .4-.3 .3-.1 .4-.2 .3,.9 .3,.7 .4-1.9 .3,1.2 .4-.8 .3,.5 .3,.3 .4-1 .3-.3 .3,.4 .4,.3 .3-.6 .3,.5 .3-1.3 .4-.4 .3,.7 .3,1 .3-1.9 .3,0 .4-.9 .3-.1 .3-.7 .4,.5 .3-.9 .3-.5 .4,.7 .3-1.9 .3,1 .3-1.1 .4-.9 .3,0 .3-.2 .3-.8 .4,.8 .3-1 .3-.5 .3-2 .3,0 .4,.4 .3-.9 .3-.9 .3-.6 .4,.1 .3-2.5 .3,.1 .3-.9 .4,1 .3-2.3 .3,.1 .3,.4 .3-1.8 .4-.3 .3-.9 .3-.4 .3,.3 .4-3.1 .3,1.1 .3-.4 .3-2.7 .3,.2 .3-1.5 .4-1.1 .3-2.5 .3-1.4 .3-.1 .3-1.7 .2-1.5 .2-1.4 .2-2.3 .2-1.4 .2,.4 .1-1.4 .2-2.8 .1-1.5 .1,.8 .2-1.5 .1-1.5 .1-3.8 .1-1.5 .1-1.6 .1-1 0-1.5 .1-1.5 .1-1.6 0-1.5 .1-1.9 0-1.9 .1-2 0-2 .1-2 0-1.9 .1-2.8 0-1.7 .1-1.6 0-1.4 0-1.3 .1-1 0-.7 .1-1 0-.2 .1,.3 .1,.5 0,.8 .1,1.1 0,1.6 .1,1.5 0,1.7 .1,1.7 0,1.9 .1,2 0,2.4 .1,2 .1,2 .1,1.9 .1,1.5 .1,1.7 .1,1.6 .1,3.5 .2-.6 .4,2.5 .3,1.3 .3,.6 .3,.1 .3,2.2 .3,1.3 .4,.4 .3,.8 .3-.7 .3,1.8 .3,1.8 .3,1.3 .4,1.7 .3,.6 .3,1.8 .2,.6 .3,2.8 .2,1.5 .3,1.5 .2,.9 .3,2.3 .3,.4 .4,1 .3,1.1 .3,2.4 .3-1.8 .4,1.8 .3,.2 .3,.8 .3-.6 .4,1.9 .3,.4 .3-.2 .3,.3 .4,1.3 .3-1.3 .3,2.4 .4-.8 .3,1.1 .3-.7 .3,2.2 .3-.8 .3,1.3 .3-1.2 .4,.3 .3,1.6 .3,.1 .4,.2 .3,.9 .3-.1 .3-.1 .3-.6 .4,.1 .3,2.3 .3,.4 .4,.5 .3-.1 .3,.6 .3,1 .3-1.2 .4,1.6 .3,.5 .3-.1 .3,.7 .3-.5 .4,1.2 .3,.7 .3,.5 .3-.6 .4,1.3 .3,.1 .4,.6 .3-.2 .3,.8 .3,0 .3,1.6 .4-1.3 .3,1.1 .3-1.3 .4,1.5 .3,.7 .3,0 .3,.2 .4-.7 .3,.9 .3-.7 .3,2.1 .4,.1 .3-1.3 .3,.6 .4-.3 .3,.6 .4,.4 .3,.2 .3,.9 .4-.4 .3,.8 .4-.3 .3,.4 .4-.6 .3,1.4 .3-1 .3,.6 .3-.4 .4,1.2 .3-.7 .3,1.1 .3,.9 .3-.8 .3-1.4 .4,1.6 .3,.3 .3,0 .3,.6 .3,0 .4-.5 .3-.6 .3,.8 .3,.7 .4-1.5 .3,1.3 .3-1 .4,1.8 .3,.6 .4-.5 .3-.6 .3,1.1 .4,.3 .3-.1 .4,0 .3-1.1 .4,.6 .3,.4 .3-.2 .4-1.1 .3,.8 .4,.6 .3,.2 .4-1 .3,.4 .4,.6 .3-.7 .4,.7 .3-.4 .4,.9 .3-.6 .4-.2 .3,1.2 .3-1.1 .4,.2 .3,0 .4,1.7 .3-1.2 .4-.7 .3,.7 .4,.2 .3-1.4 .4,1 .4,.7 .3-.8 .4,1.1 .3-1.7 .4,1 .3-.3 .4-.9 .3,1.2 .4-.9 .3,.3 .4-.7 .4,1.4 .3-.9 .4-.5 .3,.9 .4-.8 .3,.3 .4,.8 .3,0 .4-1.4 .3,1.5 .4,0 .3,.1 .4-1.1 .3,.4 .3-.3 .4,.2 .3-.2 .4,.2 .3-.1 .3,.2 .4,.1 .3-.3 .3-.2 .4,.8 .3-.4 .3-.9 .4,.8 .3-.6 .3,.4 .3-.4 .4,1.2 .3-1.6 .3-.7 .3,1 .4-.1 .3,0 .3-2.5 .3,.8 .3-.1 .4-.6 .3,.8 .3,.2 .3,.1 .4-.3 .3,.2 .3-.9 .3-2 .4,1.4 .3-.4 .3,.5 .4-.6 .3,0 .3,.9 .4-1.4 .3-.4 .4,.8 .3,.2 .3-.5 .3,0 .4-.8 .3,.3 .3-.3 .4,1.4 .3-1 .3,1 .3-1 .4-.5 .3,.6 .3,0 .4,.6 .3-2.1 .3,.9 .4-.3 .3,.4 .3-.4 .4,.9 .3-.5 .3-2.5 .3-.4 .3-.5 .3-1.2 .2-1.9 .1-1.6 .1-.4 .2,.4 .1,.7 .1,1.2 .1,1.5 .1,2.4 .1,1.9 .1,2 .1,2.1 .1,1.9 .1,1.8 0,1.2 .1,1.5 .1,1.5 .1,1.5 .1,1.3 .1,1.5 .1,1.5 .1,1.6 0,1.5 .1,1.5 .1,1.5 .1,1.1 .1,1.5 .1,1.5 0,1.5 .1,2.3 .1,1.4 .1,1.5 .1,1.5 .1,1.5 .1,1.5 .1,.8 .1,1.5 .1,1.5 .1,1.5 .1,2.4 .1,1.5 .1,1.4 .1,1 .1,1.5 .1,1.5 .1,1.8 .1,1.5 .1,1.4 .1,1.3 .1,1.5 .1,1.5 .2,1.5 .1,1.5 .1,1.6 .1,1.5 .2,1.4 0,.3" fill="none" stroke="#0000ff" stroke-width="3.8" stroke-linejoin="round" stroke-linecap="butt" stroke-dasharray="15.5 15.5"/>
<path clip-path="url(#ca)" d="M322.9,683.8l.6,.1 .7-.2 .6,.1 .7,0 .6,0 .7,0 .6-.1 .6,.1 .7,.1 .6-.1 .6,0 .6-.2 .7,.2 .6,0 .7-.1 .6,.1 .6-.3 .6,.2 .7-.2 .6,0 .6-.1 .7,.3 .6-.2 .6,0 .6-.2 .6,.1 .7,0 .6-.1 .6,0 .7-.2 .6,.2 .6-.1 .6,0 .6,.1 .6-.3 .7-.2 .6,.1 .6-.4 .6,.3 .5-.7 .5-1 .3-1.4 .4-1.5 .3-1.8 .3-2.7 .3-1.9 .4-.9 .3-1.6 .4-1.5 .3,.1 .3-1.4 .3-1.9 .4-1.5 .3-1.1 .4-1.4 .3-2.9 .4-1.3 .5-1.5 .4-.6 .6-2.9 .6-1.6 .6,1.1 .6-2.1 .6-1.1 .7-3.3 .6,.2 .6-1.2 .6-1.6 .6-.3 .6-2.7 .5-1.7 .5,2 .5-3 .5-3.1 .6,2.2 .5-3.2 .6-1.4 .6-5.2 .6,3.8 .6-2.8 .6,0 .6-.5 .6-4.8 .6,3.2 .7-1.8 .6-1 .6-2.9 .6,5.8 .7-1.6 .6,.9 .6-1.7 .6,2.8 .6,.6 .6,1.6 .6-2.5 .7-1.1 .6,2.1 .6-.5 .6,1.5 .7-.7 .6,.2 .6,1 .7,.2 .6-2.4 .6-2.6 .7,1.5 .6-.8 .6-.5 .6-.7 .6-3.3 .6,2.8 .6-.8 .7-1 .6-1.4 .6,.4 .6-4.4 .6,1.1 .6-.2 .6-2.6 .6-.8 .6,.1 .6-3 .5-1.5 .5-2.4 .5-1 .4-.3 .4-3.5 .4-1.5 .4,0 .4-1.4 .3-2.1 .3-.8 .3-1.5 .3-1.5 .2-.4 .2-1.5 .2-1.5 .2-1.5 .2-1.5 .1-1.5 .2-2.6 .2-1.5 .2-1.5 .3-1.2 .2-1.5 .3-.5 .4-1.4 .3-4.1 .5,.2 .6-3.9 .6,2.8 .6-3.1 .7-3.3 .6,1 .6,2.4 .6,.2 .6-2 .5,7.6 .6-.7 .5,1.7 .5,1.8 .5,.3 .4,.6 .4,1.5 .4,.3 .4,4.2 .4,1.5 .4,1.1 .4,1.1 .5,3 .5,.7 .6,1.4 .6,.4 .6,3.7 .6-2.6 .7,6.4 .6-3 .6,5.5 .6-2.5 .6-2.4 .6,3.5 .6-.1 .7-.4 .6,1.1 .6,.3 .7-4.6 .6,6.1 .6-1.3 .6,.6 .6,1.1 .7-.9 .6-1.7 .6,2.9 .6-1.7 .7,.7 .6-1.4 .6,.7 .6-1.4 .6,3.6 .7-4 .6,2.7 .6-4.3 .6,2.1 .7,1.6 .6-1.3 .6,2.7 .6,.7 .6-5.5 .6,1.5 .7-2.9 .6-.6 .6,.8 .6,.7 .6-1.1 .7-2.1 .6,1.1 .6-4.4 .6-.7 .6,.1 .6-4 .6,3.6 .6-3.7 .4-1.7 .5-1.4 .4-.1 .3-4.3 .4-1.5 .3,.6 .3-1.5 .3-4.1 .2-1.5 .3,1.1 .2-1.5 .3-1.5 .2-1.1 .3-1.5 .2,1.1 .3-1.5 .2-4.3 .3-1.5 .3-1.5 .2,1 .3-1.5 .3-4 .3-1.5 .2-4.4 .3-1.6 .3,3 .2-1.5 .3-2.8 .3-1.5 .3-2.7 .4-1.4 .4,1.4 .4-1.3 .5-5.2 .6-.2 .6,.9 .6-.8 .6-3.8 .7,1.2 .6-.8 .6,1.4 .6-.8 .6-2.2 .6,5.2 .5,5.5 .4-2.9 .3,2.7 .3,1.5 .2,1.4 .2,3.5 .2,1.4 .2,1.5 .1-.4 .2,1.5 .1,1.5 .1,1.5 .2,1.5 .1,0 .2,1.5 .2,1.5 .2,3.3 .2,1.5 .3,1.5 .3,1.2 .3,1.5 .3,.3 .3,1.5 .3,2.7 .4-.6 .4,1.5 .4,1.1 .5,2.2 .4,3 .5,1.3 .6,1.7 .6,.4 .6,3.9 .6,.3 .6,.1 .6,2.7 .7,1.4 .6-.4 .6-1.2 .6,3.5 .6-.5 .6-.2 .6,1.2 .7,.6 .6-2.8 .6,5.8 .6-1.9 .6,3.4 .7-2.4 .6-1 .6,2.9 .6-.7 .6,1.5 .7-1.6 .6,.3 .7,0 .6,.2 .6,1.9 .6-2.3 .7,2.4 .6,1.5 .6-2.9 .6,1.3 .7-.7 .6,.7 .6,1.8 .7,.4 .6-2.1 .6,2 .6-1.7 .6-.7 .6,.3 .6-1.3 .6,3 .6-2.7 .7,3 .6,3.7 .6-5.3 .7-1.7 .6,3.6 .6-2.1 .6,1.3 .7-.1 .6,.2 .7,2.8 .6-3.1 .6-.3 .7-.9 .6-1.2 .6-.2 .6,1.8 .6-2 .6,.7 .6-1.3 .7,1.9 .5-4.8 .5-1.4 .5-.3 .5-3.5 .4,1.2 .3-1.6 .4-3.8 .4-1.2 .4-1.6 .4-3.8 .4-1.5 .4,1.8 .3,.4 .4-1.5 .3-2 .3-1.5 .3-5.6 .3-1.5 .3,1.9 .3-1.4 .4-4.3 .3-3.1 .4-1.5 .5-.7 .4,3.1 .5-4.1 .6-3.2 .6,1.4 .6-1.3 .7-2.4 .6,.5 .6-2.5 .6,2.5 .6-1.1 .6-1.3 .6,1.3 .7,1.7 .6-.9 .6,2.3 .6,0 .6,1 .7-1.5 .5,2.6 .6,1.7 .5,3.3 .4,1.4 .4,6 .4-4.8 .4,1.4 .4,2.4 .4,0 .3,1.5 .4,3 .3,1.5 .4,1.7 .4,3 .4,1.4 .4-2 .4,4.6 .4,1.5 .4,1 .3,.6 .4,1.5 .4-.1 .4,1.5 .4,1.7 .4,2.8 .5,2.6 .4,1.4 .5,.4 .6,.4 .5,2.9 .7-.6 .6,4 .6,4.3 .6-3.9 .6,3.4 .6-1.9 .6,2.5 .6,1.5 .6,1.8 .7-.9 .6,2.6 .6-2.9 .6,2.1 .6,1 .6,.7 .6,.3 .6,3.3 .7-2.5 .6,2.3 .6,1.9 .6-2.6 .7,1.6 .6,.1 .6-4.7 .6,5 .6,1.1 .7,.9 .6-3.2 .6,1.3 .7,2.1 .6-2.9 .7,.6 .6,2 .6,.2 .6,1 .6-.2 .6-1.1 .6-1.6 .6,.6 .7,.9 .6,.5 .6-.5 .7,1 .6-1.7 .6-1.3 .6,4.2 .6-3 .6,1.4 .7,.2 .6-1.4 .7-1 .6-.6 .6,.1 .6-2.2 .6,1.3 .7,1.4 .6-.9 .6,.4 .7-.4 .6-.5 .6-1.3 .6-.3 .7,.5 .6-2.3 .6-1.9 .6,2.4 .6-1.8 .6,.7 .6-3.2 .6-2.2 .7,1 .6-1.8 .6-1.8 .5,2.3 .5-3.2 .5-3.5 .4-2.1 .4-1.5 .4,.7 .4-.4 .4-1.5 .3-2 .4-.1 .4-1.5 .4-2.8 .4-1.2 .5-1.5 .4-5.3 .5,3.8 .4-1.5 .4-4.5 .4,1 .5-5.6 .4-1.4 .5-.4 .4,2.2 .6-5.6 .5,1.1 .6-2.3 .7,2.5 .6-3.6 .6,.5 .6-3.4 .6-3.9 .6,5.8 .7-5.2 .6,.7 .6-.2 .6-2.4 .6,4.7 .6-1.1 .6-1.4 .6,1.7 .7-.2 .6,3.8 .6,2.2 .6,0 .6,2.8 .6,.9 .6,2.8 .5,.5 .6,1.1 .5,.4 .5,.8 .6,1.9 .5,3.5 .6,0 .6,4.5 .6,.3 .6-2.1 .7,4.2 .6,2.6 .6-1.6 .6,4.2 .6-1.8 .6,4.8 .6-.5 .6-.1 .6-1.1 .7,3.3 .6,0 .6,2.6 .6-.9 .6,2.9 .7-.6 .6,2.4 .6,1 .6-.2 .6,1.1 .6,1.4 .7-2.5 .6,2.6 .6-.1 .6,2.3 .7-2.1 .6,1.9 .6-3.4 .6,4.3 .6-.9 .7,.2 .6-2.1 .7,1.5 .6,.5 .6-.6 .6-.3 .7,2.1 .6-1.4 .7-.4 .6,.3 .6,1.7 .6,.7 .6-1.2 .6-.9 .6-2.6 .6,1 .6-.7 .6-.1 .6,2.9 .6-2.7 .7,2.7 .6-2 .7-.4 .6-.3 .6-1.9 .7,1.3 .6,1.6 .6-.3 .6-1 .6-.1 .6,.1 .7,2.6 .6-3.4 .6-2.9 .6-.8 .7,1.7 .6,1 .6,.8 .6-1.7 .6-.1 .6,.3 .7-2.6 .6,1 .6,.1 .7-1.5 .6-1 .6,1.5 .6,.4 .7-2 .6-4.2 .6,1.7 .6-.1 .6,.6 .6-2.2 .6-.8 .6,1.2 .7-.7 .6-2.8 .6-3 .6-1.4 .6,1.5 .6-2.5 .6-1.7 .6-1.4 .5-.9 .5-1 .5-3.7 .5-.7 .4-.1 .4-1.5 .4-1.7 .4-3.7 .4-1.5 .3,4.1 .4-1.5 .4-7.1 .3,2.7 .4-1.4 .4-6.2 .3-1.5 .4,3.2 .4-6.4 .5-1.4 .4,3.4 .4-2.8 .4-.4 .4-1.4 .5-4.4 .4,.5 .5-1.5 .6-1.3 .6-1.5 .6-2.5 .6-3.4 .7-.5 .6-.8 .6,4.9 .6-5.1 .6-.2 .6-.2 .6,.9 .7,.5 .6,.3 .6-1.1 .6,4.8 .6,.5 .6,4.3 .6-.5 .5,.5 .5,1.4 .4-1.1 .4,4.2 .3,1.5 .4,2.4 .3,1.4 .3,3.5 .3,1.4 .2-.7 .3,1.4 .3,2.2 .4,1.5 .3,1.1 .4,3.2 .3,1.5 .3,.6 .4,1.4 .3-.3 .4,1.4 .3-1 .4,6.6 .3,1.4 .4-1.1 .4,1.5 .4,0 .3,.4 .4,1.5 .4,.9 .5,4.7 .4,1.4 .4,.8 .4,2.2 .4,2.8 .4,1.5 .5-1.3 .5,2.8 .5,.2 .5,1.4 .5,.9 .6-.6 .6,3.3 .6,3.8 .6-1.1 .6,2.2 .6,.7 .7,3.5 .6,.1 .6-2.1 .6,3.2 .6-.5 .6,.5 .7,2.1 .6-.2 .6,0 .6,4.2 .6-2.9 .7-1.8 .6,2.5 .6,.3 .6,2.1 .6-1.4 .7-.9 .6,1.6 .6-1.8 .6,1.4 .7,1.2 .6-1.3 .6-1.2 .6,1.5 .6,.5 .6,2 .7-1 .6,.7 .6-.8 .6,1.6 .7-.6 .6,1.8 .6-.1 .6,1.8 .6-.7 .6-.8 .6,.9 .6,1 .6,1.3 .6-2.3 .6-.6 .6-.3 .7,1.2 .6,1.2 .6,.2 .6,.1 .6,.5 .6,.6 .6-2.2 .6,2.1 .7-.2 .6,0 .7-.3 .6-1.8 .6,2.6 .6-1.2 .6,.2 .6,.3 .6-.6 .7,.1 .6-.3 .6-1.9 .6-.6 .6,1.9 .7-2.3 .6,3.1 .6-4.4 .6,1.1 .6-.7 .6-.1 .6-2 .7,1 .6,1.5 .6-5.9 .6,2.9 .7-1.1 .6-.5 .6-2.7 .6,.6 .6-.3 .6-2.8 .6-.2 .7-.4 .6-.7 .6-2.3 .6-.4 .6,1.3 .6-1.2 .7-5.5 .6,3.1 .6-4.9 .6,.7 .6-4.6 .6,.3 .6-1.8 .7,1.2 .6-1.8 .6-.5 .6-.7 .6-1 .7,.5 .6-1.8 .6-.8 .6-1.3 .6-.8 .7,.3 .6,1.2 .6,1.1 .6-1.5 .6,2.5 .6-1.2 .6,1.3 .6,.3 .7-1.6 .6,5 .6,.2 .6-1.6 .6,4.8 .6-.9 .6,1.7 .6-.7 .6,3.8 .5,2.1 .5,1.4 .5,.3 .6,1.9 .5-1 .6,4.6 .5,.6 .7,1.3 .6,2.1 .6,1.7 .6-.3 .6,2.4 .6,2.3 .6-2.6 .6,2.5 .6-1 .7,3.3 .6,2.1 .6-.8 .6-.3 .6,1.5 .6,1.9 .7-1.4 .6,.8 .6,2.8 .6-1.4 .6,2.2 .6-.7 .6-.1 .7,3 .6,.7 .6,1.6 .6-2 .7,.7 .6-.1 .6-1.1 .6,2.5 .6-.7 .7,.7 .6-.2 .6-.3 .7,3.1 .6-1.8 .7-.5 .6,1.1 .6-1.9 .6,1.8 .6,2.6 .7-3.4 .6,1.3 .6-1.7 .7,1.3 .6-1.1 .7,.1 .6,2.2 .7-1 .6,.4 .6-.1 .6-2 .6-.4 .6-.3 .6,2.5 .6-2.1 .6-.4 .6,1.2 .7,.3 .6,.4 .6-2.3 .6,3.3 .6-2.5 .7,1 .6-.3 .6-1.1 .7,1.4 .6-.1 .6,.7 .6,.7 .7,.1 .6-1.5 .6-.4 .6-1.4 .6-1.5 .6,.7 .7,0 .6-.6 .6,.5 .6-1.3 .6,2.7 .7-2.2 .6-2 .6,.5 .6,.7 .6-3.5 .6,1 .7-1.4 .6,0 .6-1.3 .6,0 .6-.6 .6-.7 .7-3.6 .6,1.6 .6-1.9 .6-2 .6-.5 .6,.9 .6-3.5 .7-2.1 .6,1 .6-2.3 .6,0 .6-1.8 .6,.2 .6-4 .6-1 .6,.8 .6-.4 .7-3.3 .6,.3 .6-2.1 .6-1.6 .6,2.2 .6-2.1 .7-5.7 .6,3.8 .6-2.7 .6-1.2 .6,.1 .6,1.4 .6-1.6 .7-.5 .6-.2 .6-.4 .6,1.5 .6-3.6 .6,1.4 .6,2.3 .6-1 .7,2.7 .6,0 .6,1.9 .6,0 .6,2 .6,0 .7,2 .6-.6 .6-.9 .6,3.6 .6,1.3 .6,.6 .6,3.5 .6,.7 .6,2.8 .7-1.3 .6,1.3 .6,2.3 .6,2.4 .6-1.7 .6,2.7 .7,.5 .6,.8 .6,2.6 .6,1 .6-.8 .6,1.7 .6-1.1 .6,3.4 .7-1.5 .6,1.8 .6,1.8 .6-.8 .6,.8 .6-.5 .6,4.1 .7-4 .6,1 .6,.8 .6,3.4 .7-3.3 .6,1 .6,1.1 .6-3.1 .6,3.6 .6-.5 .7,1.5 .6,.1 .6-1 .6,.7 .7-1.9 .6-.5 .6,1 .7,.4 .6,.2 .7,.2 .6,1.1 .6-2.2 .6-.4 .6,.9 .6-.3 .6,.2 .6,1.2 .6-3 .6,1.6 .6,.6 .7-.3 .6-3.3 .7,1.2 .6,1.6 .6-1.6 .6,.3 .6-.8 .7,1.3 .6-1.3 .6-.9 .6,.2 .7,1.2 .6-1.4 .6-2.7 .7-.8 .6,2.8 .6-3.1 .6,.7 .6,.6 .6-1.5 .6-2.4 .7,4 .6-2.2 .6-.7 .6,1.5 .7-1.5 .6-.1 .6-2.2 .6-.2 .7-.2 .6-1.9 .6,1.1 .6-1.2 .6-1.7 .6-.9 .6,.7 .7-2.2 .6-.3 .6-1.2 .6-1.7 .6-5.1 .6,3.5 .6-.6 .6-3.3 .6-1.4 .5,.7 .5-4.4 .4-1.5 .4,2 .5-2.4 .4-.3 .5-3.5 .6-1.3 .6-1.1 .6-3.6 .6,.1 .6,2 .6-3.5 .7-1.2 .6,1.2 .6,.9 .6-2.8 .6-.8 .6-.1 .7,.4 .6-3.2 .6,3 .6,.2 .6,1.3 .7,.4 .6-.2 .6,2.7 .6-2.4 .6,.5 .7,3.4 .6-1.5 .6-.2 .6,.9 .6,1.7 .6-1.2 .6,4.4 .7-.1 .6,2.4 .6-2.3 .6,2.1 .6,.8 .6,2.9 .6,1.2 .6,1.8 .6,1.3 .7-1 .6,3.2 .6,1.1 .6,1.1 .6,1.9 .6-1.8 .6,3.4 .6,.7 .6,1.1 .6,4 .6,1.4 .6,2.4 .7-1.9 .6-.4 .6,4.6 .6-.1 .6,.1 .6,2.6 .6,.1 .7-1.1 .6,2.7 .6-1.2 .6,3 .6-1.3 .6,.2 .7,3 .6,.6 .6-.8 .6-.6 .6,2.1 .7-.3 .6,.2 .6-.6 .7-1.2 .6,1.1 .6,2 .6-2.2 .7,.5 .6,0 .6,.3 .6-.7 .6,2.3 .7-1.8 .6,.1 .6-1.1 .6-1 .7,2 .6-1 .6,.6 .7-2.9 .6,3.9 .7-2 .6,.5 .6-2.4 .7,.9 .6-.4 .6,.7 .6-.9 .7-3.6 .6,2 .6-.6 .6-.4 .6-.2 .6-.1 .6-3 .7-.2 .6,.4 .6,0 .6-2.6 .6,.3 .7-2.3 .6,.7 .6-1.2 .6-.1 .6,0 .6-3.7 .6,.3 .6-3.9 .6,1 .5,.5 .5-5.7 .5-1.5 .5-.1 .5-5 .5,3.5 .6,1 .5-5.8 .5,.2 .5-1.6 .6,0 .6-4.6 .6,.1 .6-2.5 .6-.4 .6,0 .6,.8 .6-1.4 .6-.8 .6-.5 .7,1.6 .6-1.3 .6-3.6 .7,2.2 .6-1.4 .6,4.1 .6-1.7 .6,1.1 .7-3.3 .6-.9 .6,1.3 .7,2.5 .6-1.5 .6,2.6 .6,1.5 .7-1.9 .6,2.6 .6-4 .6,2.1 .6,1.7 .6,1.2 .7-.8 .6,2.4 .6,2.9 .6,.7 .6,.6 .6-.7 .6,4.5 .6,.3 .7-.8 .6,4.1 .6-.4 .6,2.6 .6,1.1 .6,1.7 .5,2.6 .5,2.7 .6-1.2 .5,1.2 .5,1.2 .5,2.1 .5,1.6 .6-.9 .6,2.9 .6,3.7 .6-.8 .6,1.2 .6-.4 .6,3.3 .7-1 .6-.3 .6,.2 .6,2 .6,1.9 .7-2.1 .6,.1 .6-1 .6,3.4 .6-1.6 .6,.4 .6-.3 .6,.2 .7,1.7 .6-1.7 .6,.8 .7-1 .6,.2 .6,1 .7-.2 .6-2.1 .6,1.1 .6-1.3 .6,1.5 .7-1.8 .6-.8 .6,1.4 .6-2.2 .6,.6 .6-2.3 .6-.7 .7,0 .6,.9 .6-3 .6-1 .6-1.9 .6-1 .6,.9 .7-3.7 .6-1 .6,1.6 .6-3.9 .6-1.8 .6,1.1 .6-.5 .7-.1 .6-.4 .6-6.9 .6,1.8 .6-1.1 .6,.1 .6-2.4 .6,.5 .7-.5 .6-.9 .6-2.2 .6,.8 .6-2.3 .6-.7 .7,.2 .6,.9 .6-4.6 .6,2.2 .7,1.6 .6-2.2 .6-1.4 .6,.9 .6-.9 .6-.9 .6,2 .6-1.4 .7-.6 .6,2.4 .6-2.2 .7,1 .6,2.7 .6-1.4 .6,2 .6-4 .6,.8 .7,1.5 .6,1.4 .6-2.1 .6,3.5 .6-.5 .7,.6 .6,1.3 .6,.2 .6-.6 .6,2.1 .6-.5 .7,4.3 .6-1.5 .6,1.3 .6,.5 .6,2 .6,1.3 .6,.7 .7-.2 .6,3.9 .6-.5 .6-1.3 .6,2.2 .6,1.2 .6,.8 .6,2.2 .6,2.8 .6,2.4 .7-.1 .6,1.2 .6,1.8 .6,1.9 .6-.6 .6-.1 .7-.4 .6-.6 .6,1.9 .7,1 .6-.7 .6-.8 .6,1.4 .7-.8 .6-.7 .6-1.8 .6,2.2 .6-2 .6,1.1 .6-3 .7-.4 .6-2 .6,1.5 .6-1.7 .6-2.7 .6,.8 .6-4.3 .6,1.1 .7-2.7 .6-.7 .6-1.7 .6,.1 .6-2.6 .6,1.3 .6-5.9 .6,1.8 .7-2.3 .6-2.5 .6,3.5 .6-1.6 .6,1.9 .6-4.7 .7,2.6 .6,1.3 .6-5.1 .6,3.2 .7-.3 .6-.9 .6,1.4 .7-1.3 .6-2.1 .6-.3 .6,.8 .7,2.4 .6-2.6 .6,1.5 .7-1.5 .6,1.1 .6-.1 .6,1.8 .6-3.3 .7-.9 .6,1.5 .6,.1 .7,.4 .6,1 .6-1.9 .7,.6 .6,0 .6,1.5 .6-2.1 .6,2.2 .7,1.1 .6-3 .6,2.3 .6-1.1 .7-.5 .6,3.3 .6-.6 .6-1.5 .6,1.9 .6-.9 .6-.1 .6,4.1 .7-.5 .6,1.1 .6,1 .6,.2 .7,1.1 .6-.4 .6,1.7 .6-1 .6,1 .6,1.5 .6,1.9 .7,1.5 .6,.5 .6,2.2 .6,1.9 .6-6 .7,4.7 .6-.8 .6-2.2 .6,.6 .6-3 .6,1.7 .7,1.8 .6-4 .6,.3 .6,.4 .6,.3 .7-1.2 .6-1.2 .6,1 .6-2.1 .6,3.3 .7-2 .6-2.1 .6-1.4 .6-.7 .7,0 .6,.6 .6-2.7 .6,1.6 .6-.5 .6-1.5 .7,2.8 .6-1.2 .6-.4 .6-1.3 .6-.4 .7,.9 .6-2.1 .7,2.3 .6-2.1 .6,1.4 .6,.9 .6-1.4 .6-.6 .6-.3 .6,1.1 .6-1.8 .7,1.3 .6,1.3 .6-4.1 .7,1.4 .6,1.2 .6-2 .7-.4 .6,2.6 .6-4.3 .6,2.5 .7-.3 .6,.1 .6-1.3 .6,1 .7-1 .6-.6 .6,4.6 .7-2.2 .6-3 .6,.5 .7,1.6 .6,1.3 .6-2.2 .7,1.2 .6-.7 .6-1 .6-.3 .7,1.4 .6,0 .6-.3 .6,1.7 .6-.8 .6-.8 .6-1.7 .7,2.5 .6,.3 .6-2.1 .7,.8 .6-1.4 .6,1.7 .6-.2 .6-1.8 .6,3 .6,.1 .7,.8 .6,2.6 .6,.1 .6,1.3 .7-.9 .6,2.8 .6-2.3 .6,2.3 .6-2.8 .7,2.3 .6-1.7 .6,2.2 .6-.8 .6,.3 .6-.8 .7,.1 .6-.6 .6-.4 .6,.1 .6,2.6 .6-4.7 .7-1.1 .6,.3 .6-.2 .6,1.1 .6,.1 .6-.6 .7-2.6 .6,.6 .6,.7 .6-2.4 .6,.1 .6-3.9 .6,1.7 .7-1 .6-4 .6,.7 .6-.3 .6-3.5 .6,1.5 .6-.9 .6-1.9 .7-1.5 .6-.9 .6,.3 .6,.6 .6-4.3 .6,1.8 .7-.4 .6-2.1 .6-1 .6-1 .6,2.6 .6-1.1 .6-1.5 .6,1.6 .7-1.3 .6,.4 .6,3.4 .6-2.4 .6-1.8 .7,5.3 .6-1 .6,1.3 .6,4.7 .6-1.5 .6,2.3 .7-2.1 .6,1.8 .6,1.6 .6,3.6 .6-.7 .6-.5 .6,4.8 .6-1 .6,1.5 .7,1.3 .6,2 .6-3.3 .6,1.9 .6-4.7 .6,1.5 .6-.6 .7-4.4 .6,.9 .6-.7 .6,.8 .6-2.4 .6-.9 .6-1.3 .6,.5 .7-2.2 .5-1.5 .6-1.7 .6-.1 .6-3.5 .6,0 .6-.8 .7-.1 .6,.5 .6-4.2 .6,3.3 .6-.1 .6-.2 .7-.9 .6-4 .7,2.1 .6,1.3 .6,.1 .6-1.4 .6,.5 .6-1.8 .7,2.5 .6-3.7 .6,3.2 .6,2 .7-3.1 .6,4.1 .7,1.3 .6-2 .6-1.4 .7,.2 .6,2.1 .7-2.7 .6,2.1 .6-2 .7,2.6 .6-3 .6,1.9 .6-1 .6,2.6 .7-2.3 .6,.3 .7,1.9 .6-3.6 .7-.4 .6,1.7 .6-1.7 .7,4 .6-2.6 .6-1 .6-4.6 .6,6.6 .7-2.4 .6-3.4 .6,1 .6,.8 .6,.9 .6-3 .5-1.6 .6-1.6 .6-1.6 .6-3.3 .6-.6 .6-1.8 .6,1.8 .6,.6 .7-5.5 .6,3.2 .6-.4 .6,.4 .7,2.6 .6-5.5 .6,5.6 .6-2.1 .7,3.2 .6-4.7 .6,1.5 .6-.6 .6,1.3 .6-2 .7,.4 .6,1.4 .6,1.6 .6-3 .7,1.8 .6-.3 .6,1.6 .6,.8 .6-4.2 .6,.2 .7,.3 .6-2.2 .6,2.9 .6-1 .6-3.5 .6-4.2 .6-1 .6,1.3 .7,.9 .6-4 .6,.3 .6,1.6 .6-.6 .6-5.6 .7,1.6 .6,.1 .6-5.1 .6,1.4 .6,.6 .6-2 .6,1.2 .7-2.3 .6-3 .6,.2 .6-2.2 .7,.9 .6,2.9 .6-1.1 .6-.2 .7,.9 .6-5.2 .6,.6 .6,.5 .6,2.2 .6-3.4 .6-1.6 .6,0 .6-3.1 .7-3 .6,3.8 .6-1.1 .6-4.1 .6-.5 .6,2.1 .6-2.2 .7,.2 .6-4.5 .5,.1 .6-1.4 .5-.2 .5-.9 .5-3.4 .5-.7 .5-2.2 .5-1.4 .5-1.6 .5-1.2 .5-.4 .5-5.1 .5,1.3 .5-1.5 .4-3.4 .5,.7 .5-2 .4-.6 .4-1.4 .5-2.4 .4-1.2 .4-1.4 .4-4.2 .4,4.6 .4-1.4 .3-7.5 .4-2.7 .4-1.4 .4,3.4 .3-1.4 .4-.9 .3-1.5 .3-3 .3-2 .3-1.5 .3-3.3 .3-1.5 .3,5.4 .3-1.4 .3-1.5 .3-9.7 .2-1.5 .3,7.9 .3-1.5 .2-10.6 .3-1.5 .2-.2 .3-1.5 .2-1.5 .2,.4 .2-1.5 .1-1.5 .2-2 .2-1.5 .1-1.5 .1-1.5 .1-1.5 .1,.8 .1-1.5 .1-1.5 .1-1.5 .2-1.4 .1-1.5 .1-4.9 .2-1.5 .2-1.5 .2-.2 .2-1.5 .2-1.5 .3-4.6 .2-1.5 .3,5.6 .2-1.5 .2-1.4 .3-5.3 .2-1.5 .2-1.5 .2-2.7 .1-1.5 .2-1.5 .2,.6 .1-1.5 .2-1.5 .2-1.5 .1,.9 .2-1.5 .1-1.5 .2-1.5 .1-2.9 .1-1.5 .2-1.5 .1-1.5 .1-4.4 .2-1.5 .1-1.5 .1-1.5 .1-1.5 .1,.9 .1-1.5 .2-1.5 .1-1.5 .1-1.5 .1-1.5 .1-.9 .1-1.5 .1-1.5 .1-1.5 .1-1.5 .1-1.5 0-1.3 .1-1.5 .1-1.5 .1-1.5 .1-1.5 .1-1.5 .1-1.4 0-3.6 .1-1.5 .1-1.5 .1-1.5 .1-1.5 0-1.5 .1-1.5 .1-1.5 .1,1.4 0-1.5 .1-1.5 .1-1.5 0-1.5 .1-1.5 .1-1.5 .1-1.5 0-6.8 .1-1.5 .1-1.5 .1-1.5 0-1.5 .1-1.5 .1-1.5 0-1.5 .1,2.2 .1-1.5 .1-1.5 .1-1.5 0-1.5 .1-1.5 .1-1.5 .1-1.5 0-4.4 .1-1.5 .1-1.5 .1-1.5 0-1.5 .1-1.5 .1-1.5 .1-1.5 0,1.3 .1-1.5 .1-1.5 .1-1.5 0-1.5 .1-1.5 .1-1.5 0-1.5 .1-3.6 .1-1.5 0-1.5 .1-1.5 .1-1.5 0-1.5 .1-1.5 .1-1.5 0-1.5 .1-1.5 0,2.6 .1-1.5 .1-1.5 0-1.5 .1-1.5 0-1.5 .1-1.5 0-1.4 .1-1.5 .1-1.5 0-5.1 .1-1.5 0-1.5 .1-1.5 0-1.5 .1-1.5 .1-1.5 0-1.5 .1-1.5 0-1.5 .1-1.5 0,3.9 .1-1.5 0-1.5 .1-1.5 .1-1.5 0-1.5 .1-1.5 0-1.5 .1-1.5 0-1.5 .1-1.5 0-8.7 .1-1.5 0-1.5 .1-1.5 0-1.6 .1-1.5 0-1.5 0-1.5 .1-1.5 0-1.5 .1-1.5 0-1.5 0-1.5 .1-1.5 0,5.4 0-1.5 .1-1.5 0-1.5 0-1.5 .1-1.5 0-1.5 0-1.5 .1-1.5 0-1.5 .1-1.5 0-1.5 0-1.4 .1-1.5 0-1.5 0-1.5 .1-1.5 0-8.3 .1-1.5 0-1.5 .1-1.5 0-1.5 .1-1.5 .1-1.5 0-1.5 .1-1.5 0-1.5 .1-1.5 .1-7.5 0-1.5 .1-1.5 .1-1.5 0-1.5 .1-1.5 0-1.5 .1-1.6 .1-1.5 0,4 .1-1.5 .1-1.5 0-1.5 .1-1.5 0-1.5 .1-1.5 0-1.5 .1-1.5 0-1.5 .1-1.5 0,5.5 .1-1.5 0-1.5 .1-1.5 0-1.5 .1-1.5 0-1.5 .1-1.5 0-1.5 0-1.5 .1-1.5 .1-1.5 0-4 .1-1.5 0-1.5 .1-1.5 0-1.5 .1-1.5 .1-1.5 .1-1.5 0-1.8 .2-.8 .1-2 .1-1.9 .1-1.8 .1-1.4 .1-4.4 .1-.5 .1,.1 .1,.3 .1,.6 0,.9 .1,1 .1,1.2 .1,4.2 0,1.6 .1,1.6 .1,1.8 0,1.9 .1,1.9 0,1.9 .1,2 0,2 .1-3.1 .1,2 0,1.9 0,1.8 .1,1.7 0,1.6 .1,1.5 0,1.5 .1,1.5 0,1.5 0,1.5 .1,1.5 0,1.5 0,1.5 .1,1.5 0,1.6 0,11.7 0,1.4 .1,1.5 0,1.5 0,1.5 .1,1.5 0,1.5 0,1.5 0,1.5 .1,1.5 0,1.5 0,1.5 0,1.5 .1,1.4 0,1.5 0,1.5 0,1.5 .1,1.5 0,1.5 0,1.5 .1,1.5 0,1 0,1.5 .1,1.5 0,1.5 0,1.4 .1,1.5 0,1.5 0,1.5 .1,1.5 0,1.5 0,1.5 .1,1.5 0,1.5 0,1.5 .1,1.5 0,1.5 0,1.4 .1,1.5 0-2.5 0,1.5 .1,1.5 0,1.5 .1,1.5 0,1.5 0,1.5 .1,1.5 0,1.5 .1,1.5 0,1.5 0,1.5 .1,1.5 0,1.5 .1,1.5 0-2.1 .1,1.5 0,1.5 0,1.5 .1,1.5 0,1.6 .1,1.5 0,1.5 .1,1.5 0,1.5 0,1.5 .1,1.5 .1,1.5 0,1.2 .1,1.5 0,1.6 .1,1.5 0,1.5 .1,1.5 .1,1.5 0,1.5 .1,1.5 .1,1.5 .1,5.7 .1,1.5 .1,1.5 .1,1.5 .1,1.5 .2,.6 .1,1.5 .1,1.5 .2,1.5 .2-2.6 .1,1.5 .2,1.5 .2,1.5 .1,6.8 .2,1.5 .2,1.5 .2,1.9 .2,1.5 .2,1.4 .2,.6 .2,1.4 .2,1.5 .2,1 .2,1.5 .3,1.5 .2,1 .3,1.4 .2,.8 .3,1.5 .3,.5 .2,1.5 .3,.5 .3,1.5 .3,7.2 .3,1.4 .3-7.1 .4,1.4 .3,6.7 .4,1.4 .3,3.8 .4,5.8 .4,1.5 .4-6.7 .4,1.5 .4,6.7 .4,1.1 .4,1.5 .4,.5 .4,4.3 .4,1.5 .4-9.1 .5,9.4 .6-1.9 .6,2.8 .6-.9 .7-1.4 .6-2.4 .6,7.4 .7-1.5 .6-2.9 .6,3.8 .6-2.9 .6,.1 .6,1.8 .6,0 .6-9.9 .6,4.2 .6,1.3 .7-6.1 .6,2.5 .6,1.7 .6,1.6 .6-8 .6,2.8 .7,.1 .6,1.2 .6-.1 .6-6.3 .7,7.7 .6-7.8 .6,5.2 .6-.5 .6-1.6 .6-1.8 .5-1.3 .5-1.6 .5-5 .4-1.6 .5,7.7 .5-3.1 .4-1.4 .5-2.2 .4-3 .4-9 .4-1.5 .4,9.4 .3-1.5 .3-8 .2-1.6 .2-1.5 .1-1 .2-1.5 .3-1.5 .3,1.2 .5-5.9 .6,5.5 .6-12.4 .7,11.5 .6-1.9 .6-3.8 .6,6.3 .7,2.1 .6,.2 .4,1.9 .3,1.4 .3-2.4 .2,1.5 .2,5.6 .2,1.5 .1,1.5 .2,1.6 .1,1.5 .1,1.5 .2,1.5 .1,1.5 .1,1.5 .1,2.2 .2,1.5 .1,1.5 .1,1.4 .1,1.5 .1,1.5 .1-.4 .1,1.5 .1,1.5 .1,1.5 .1,1.5 0,1.5 .1-5.6 .1,1.5 .1,1.5 .1,1.5 0,1.5 .1,1.6 .1,1.5 0,1.5 .1,1.5 0,8 .1,1.5 0,1.5 .1,1.5 .1,1.5 0,1.5 .1,1.5 0,1.5 .1,1.5 0,1.5 0,1.5 .1,1.5 0-3.9 .1,1.5 0,1.6 .1,1.5 0,1.5 .1,1.5 0,1.5 .1,1.5 0,1.5 .1,1.5 0,1.5 .1,1.5 0,3 .1,1.5 0,1.5 0,1.5 .1,1.5 0,1.6 .1,1.5 0,1.5 .1,1.5 0,1.5 0,1.5 .1,1.5 0,1.5 .1,1.5 0,3.2 .1,1.5 0,1.5 .1,1.5 0,1.5 0,1.5 .1,1.5 0,1.5 .1,1.5 0,1.5 .1,1.5 .1,1.5 0,2.3 .1,1.5 0,1.5 .1,1.5 0,1.5 .1,1.5 0,1.5 .1,1.5 0,1.5 .1,1.5 0,1.5 .1,1.5 0,.3 0,1.5 .1,1.5 0,1.5 .1,1.5 0,1.5 0,1.5 .1,1.5 0,1.5 0,1.5 0,1.5 .1,1.5 0,1.5 0,1.5 0,1.5 0,1.5 0,1.5 0,1.5 0,1.5 -.1,1.5 0,1.5 0,1.5 0,1.5 0,1.5 0,1.5 -.1,1.5 0,1.5 0,1.5 0,1.5 -.1,1.6 0,1.5 0,1.5 0,1.5 0,1.5 0,1.5 -.1,1.5 0,1.5 0,1.5 0,1.5 0,1.5 0,1.5 0,1.5 0,1.5 0,1.5 .1,1.5 0,1.5 0,1.5 0,1.5 0,1.5 0,1.5 .1,1.5 0,1.5 0,1.5 .1,1.5 0,1.5 0,1.5 0,1.5 .1,1.5 0,1.5 .1,1.5 0,1.5 0,1.5 .1,1.5 0,2.8 .1,1.5 0,1.5 0,1.5 .1,1.4 0,1.5 .1,1.5 0,1.5 .1,1.5 0,1.5 .1,1.5 0,1.5 .1,1.5 0,1.8 .1,1.5 0,1.5 0,1.5 .1,1.5 0,1.5 .1,1.5 0,1.5 .1,1.5 0,1.5 .1,1.5 0,1.5 0,1.5 .1,1.5 0,.9 .1,1.5 0,1.5 0,1.5 .1,1.5 0,1.5 0,1.5 .1,1.5 0,1.5 0,1.6 0,1.6 .1,1.7 0,1.7 0,1.7 0,1.8 .1,1.8 0,1.8 0,1.9 0,1.8 0,1.9 .1,1.9 0,2 0,1.8 0,1.9 0,2 .1,2 0,2 0,2 0,2 0,2 0,2 .1,1.9 0,2 0,2 0,2 0,2 0,1.9 .1,2 0,1.9 0,1.9 0,1.8 0,1.9 0,1.8 .1,1.8 0,1.8 0,1.7 0,1.8 0,1.6 .1,1.7 0,1.6 0,1.5 0,1.5 .1,1.5 0,1.4 0,1.5 0,1.3 .1,1.3 0,1.2 0,1.1 .1,1.1 0,1 0,1 .1,.8 0,.9 .1,.7 0,.7 0,.6 .1,.5 0,.4 .1,.4 0,.3 .1,.2 0,.1 .1,0 .1,0 .3,0 .3,0 .5-.1 .5,.2 .6-.1 .6-.1 .7,.2 .6,0 .6-.2 .6,0 .6,.1 .7-.1 .6,.1 .6,0 .6,0 .6-.1 .7,.1 .6,.1 .6-.2 .7,.1 .6,0 .6,0 .6,0 .7,.1 .6,0 .6-.1 .6-.1 .7,.1 .6,0 .7,.1 .6-.1 .6,0 .6,.1 .6-.1 .7,0 .6,0 .7,0 .6,0 .7,0 .6-.1 .6,.1 .6,0 .6,.1 .6,0 .7,0 .6-.1 .6,.1 .7,0 .6-.1 .7,0 .6-.1 .7,.1 .6-.1 .7,.1 .6,0 .7,0 .6,0 .6,0 .6,0 .6,0 .6,0 .7,0 .6,0 .6-.1 .6,.1 .6,0 .6,0 .7,.1 .6-.1 .6-.1 .6,0 .7,.1 .6-.1 .6,0 .6,.1 .7,0 .6,0 .6,0 .6,.1 .7-.1 .6,0 .6,0 .7,0 .6,.1 .6,0 .7-.1 .6-.1 .6,.1 .6,0 .7,.1 .6-.1 .6,.1 .7-.1 .6,0 .6-.1 .6,.1 .6,0 .7,0 .5,0" fill="none" stroke="#0000ff" stroke-width="7.3" stroke-linejoin="round" stroke-linecap="butt"/>
<path clip-path="url(#ca)" d="M1469,682.5l.8,0 .8,0 .9,0 .9,0 .8,0 .8,0 .8,0 .8,0 .9,0 .9,0 .8,0 .8,0 .8,0 .8,0 .9,0 .9,0 .8,0 .8,0" fill="none" stroke="#0000ff" stroke-width="2.0" stroke-linejoin="round" stroke-linecap="butt"/>
<path clip-path="url(#ca)" d="M322.9,683.8l.6,0 .7,0 .6,0 .6,0 .7,0 .6,0 .6,0 .7-.1 .6,0 .6,0 .7,0 .6,0 .6,.1 .7-.1 .6,0 .6-.1 .6,0 .7,.1 .6-.2 .6,0 .6-.1 .6,.1 .7,0 .6-.1 .6-.1 .7,0 .6,0 .6-.1 .6,0 .6-.2 .6,.1 .7-.2 .6,.1 .6-.4 .6,.1 .6-.2 .6,0 .7-.2 .6-.9 .6,0 .6-1.4 .6-.5 .6-1.9 .1-1.4 .2-1.3 .1-1.4 .1-1.6 .1-1.5 0-1.4 .1-1.5 .1-1.5 0-1.5 .1-1.5 0-1.5 0-1.6 .1-1.5 0-1.6 0-2.6 .1-1.5 0-1.6 0-1.6 .1-1.6 0-1.5 .1-1.6 .1-1.5 .1-1.6 0-1.5 .2,.6 .1-1.8 .1-2 .1-1.9 .2-1.9 .2-2.5 .1-1.4 .2-1 .1-.1 .2-.1 .2,.6 .2,.9 .1-.9 .2,1.7 .2,1.8 .2,1.9 .2,2 .3,1.9 .2,2.8 .2,1.6 .3,2.2 .2,1.7 .2,1.8 .2,1.9 .3,1.8 .2,1.9 .4,1.5 .3,.1 .5,1.1 .5,.6 .6,1.6 .7-.8 .6,1.9 .7-1.3 .6,.4 .6-.3 .7-.4 .6-.1 .6-.4 .6-.7 .6,.3 .7-.8 .6-1.7 .6,1.1 .6-1.3 .6-.7 .6-.9 .6,.4 .7-1 .6-1.1 .6-.6 .6,.6 .6-1.5 .7-.7 .6,1.4 .6-2 .6-.4 .7-.9 .6-.6 .6-1.2 .6,.4 .6-1.2 .6,.1 .7,.9 .6-1.4 .6-.6 .6-.8 .6-.3 .6,.4 .7-.1 .6-.8 .6,.2 .6-1.6 .6,0 .7,.2 .6,.3 .6-1.5 .7,.7 .6-1.8 .6,1.3 .6-.2 .7-1.5 .6,.2 .6,0 .7-1.4 .6,0 .6,.4 .7,0 .6-1.7 .6-.2 .7,.8 .6-1.3 .7,.1 .6,.5 .6-.9 .7,.5 .6-1 .6-.5 .7-.8 .6-1.4 .7,1.1 .6,.7 .6-.3 .7-.6 .6,.3 .7,.5 .6-3.4 .6,1.1 .6,.5 .6-1.1 .6-.2 .6,.8 .6-.8 .6-1.8 .6,2.1 .6-2.1 .6,.5 .7,.1 .6-2.2 .7,2.5 .6-1.1 .6-.6 .6,0 .6-1.1 .7,.4 .6-.4 .6-2.8 .6,.5 .7,1.4 .6-2.1 .6,.3 .6,.3 .6-2.5 .6,1.1 .7-.6 .6-.2 .6-.6 .6-.6 .7-.3 .6-.4 .6-1.5 .6,1.2 .6-1.8 .6-1.2 .7,.6 .6-2.6 .6,1.7 .6-2 .6-.3 .7-.8 .6-.3 .6-1.8 .6-.6 .6,0 .7-1.7 .6-.2 .6-.9 .6-.9 .6-1.1 .6-.8 .6-.2 .7-1.3 .6-.5 .6,3.2 .6-2.3 .6-1.1 .6-.1 .6-1.2 .7,.3 .6-1.4 .6-.5 .6-2.2 .6,1.4 .6-2.1 .6-.8 .6-.7 .6-1.3 .6-1.5 .7,0 .6-3.6 .5-2.7 .5,.4 .5-1.5 .4-3.5 .4,.8 .3-1.4 .3,.1 .4-1.4 .3-1.2 .2-1.4 .3-4.5 .3-1.5 .2,.2 .3-1.5 .2-1.4 .2-3.4 .3-1.5 .2-1.5 .2,.3 .2-1.4 .3-.3 .2-1.4 .2-1.5 .2-3.9 .2-1.5 .2-1.5 .2,1.2 .2-1.5 .1-1.5 .2-3 .2-1.5 .2-1.5 .1-1.5 .2,1.6 .2-1.5 .2-1.5 .1-5.7 .2-1.5 .2-1.5 .2-1.5 .1-1.9 .2-1.5 .2-1.4 .2,1.5 .1-1.5 .2-1.5 .1-1.5 .2-2 .1-1.5 .2-1.5 .1-1.5 .2-1.9 .1-1.5 .2-1.5 .2-1.5 .2-3.5 .2-1.4 .2-.2 .3-1.4 .3-1.6 .4-2.8 .4,1.1 .5-3 .5-3.4 .5-.8 .5-.4 .5-.2 .5,2.6 .5,2.5 .4,1.9 .4,2.5 .4,2.6 .3,1.5 .2-.8 .2,1.5 .3,1.5 .2,3.9 .1,1.5 .2,1.5 .2,1.5 .1-3.1 .2,1.5 .2,1.5 .2,4.2 .2,1.5 .2,1.5 .2,2.5 .2,1.5 .2,1.4 .2,0 .2,1.5 .2,1.4 .3,2.5 .2,1.5 .2,2.3 .2,1.5 .3,1.4 .2-.3 .3,1.5 .2,2.5 .3,1.4 .3,2.6 .3,1.5 .4-1.5 .3,1.5 .4,4.4 .4,1.4 .4,0 .4-.2 .5,3.7 .6,1.7 .5,.4 .6,1.9 .7,1.4 .6,.5 .6,1 .6,1.6 .6,.7 .6-.2 .6-1.5 .6,1.3 .7,1.6 .6,2.4 .6-.3 .6,2 .6-1.1 .6,.3 .7-.4 .6,2.1 .6-2.6 .6,2.3 .7-.2 .6-.1 .6,2 .7,0 .6,.1 .6-.5 .6-.9 .6,.5 .7-.9 .6,1.8 .6,3.5 .6-2.2 .7,3.2 .6,1.3 .6-.2 .6,1.4 .6-1.2 .6,.2 .6,1.6 .7,1.5 .6,.2 .6,.4 .6,1.3 .6-1.2 .6,2.4 .7-2.4 .6,4.1 .6,.4 .6,1.4 .6-3.1 .7,.7 .6-.2 .6-.2 .6-.7 .7,3.5 .6-.8 .6,.3 .6-1.5 .6,2.2 .7,2.2 .6-1 .7-2 .6,2.6 .6-.9 .6,.3 .7,.5 .6-.4 .6,1.2 .6-.6 .6-.1 .6-.4 .6,.2 .6,2.4 .6,.5 .6-.9 .6,.1 .6-.1 .6,1.1 .6,1.5 .6-1 .7-.6 .6,1.9 .6-.1 .6-2.5 .6,1.5 .6,1.8 .7-.8 .6-.4 .6,.6 .7-1.6 .6,.1 .7,1.1 .6,1.8 .6-1.7 .6,.4 .6,1.3 .6-2.2 .6,.4 .6,.3 .6,.3 .7-.1 .6,.6 .6-1.9 .6-.1 .6,1.3 .6-1.6 .6,3.3 .7-2.3 .6,.2 .7,1.3 .6-.2 .6,.3 .7-.5 .6-1.2 .7,1.3 .6-.3 .6-.9 .7,1.6 .6-.5 .6,.3 .7,.2 .6,1.7 .6-2.6 .6,2.7 .6-.1 .7,.1 .6-.6 .6,1 .7,2.6 .6-1.4 .6-.2 .6,1.6 .6-1.7 .6,2.8 .6-.9 .6,3 .7,0 .6-1.3 .6,.1 .7-.6 .6,1.2 .6,.3 .6-1.9 .6,0 .7,2.1 .6-.3 .6,0 .7,.2 .6-.3 .7,.9 .6,.9 .6,.2 .6-1.8 .6,.5 .6,0 .6-1.5 .6,0 .6,1.5 .6,.6 .6,.3 .7-1.3 .6,1.3 .7-.7 .6-.3 .7,1.4 .6-2.6 .7-.5 .6,2.2 .7,.8 .6-.8 .7-.5 .6-.4 .6-.6 .6,1.9 .6-1.2 .6,1 .6,.4 .6-.4 .6,.2 .6,1.3 .6-1.1 .6,0 .7-.4 .6,1.5 .7-.1 .6-1.8 .7,.9 .6-.5 .7-.4 .6,2.2 .7-1.3 .6-2.6 .7,3.1 .6,.6 .7-1.6 .6-.2 .7,.1 .6,.7 .7-1.4 .6,.9 .7-1.9 .6,.3 .7,.7 .6,.8 .6,.5 .7-1.6 .6,0 .7,2.1 .6-2 .7-.1 .6,.3 .7,1.2 .6,.1 .7,.3 .6-1.3 .7,.9 .6,.4 .7-1.8 .6,.6 .7,.7 .6,1.7 .7-1.8 .6,.4 .6,.1 .7,.4 .6,.3 .7-1.5 .6,1.8 .7-2.6 .6,2.3 .7,.3 .6,.3 .6-1.5 .7,1.4 .6,.4 .7,.2 .6,.6 .7-2 .6,.6 .6,.3 .7,.4 .6,.9 .7-.6 .6,1.7 .7-1 .6-1.6 .7,2.4 .6-2.4 .6,0 .7,.8 .6,0 .7,.3 .6,.1 .6-.7 .6,0 .6,1.4 .6-.4 .6-.5 .6-.5 .6,.8 .6-1 .7-.3 .6,2.2 .6-.3 .6-1 .6,1.8 .6-1.6 .6,.8 .6-.5 .7,0 .6,1.3 .7-.6 .6-2.6 .6,2.3 .7-2.6 .6,1 .7,1.3 .6-1.5 .6,2.1 .7-1.7 .6,.7 .7-.4 .6,.3 .6-2.4 .6,1.1 .7,.1 .6,.6 .6-.7 .6-1 .6-1.3 .7-.4 .6,.3 .6,.8 .7-.3 .6,.9 .6-1.4 .6,.1 .7-2.5 .6,1.3 .6-1.1 .6-.4 .6,1.4 .6-1.6 .7-.4 .6-.2 .6-1.7 .6-.6 .7,3.2 .6-2.2 .6,0 .7-1 .6-.1 .7-.9 .6,.9 .7-.8 .6,.9 .6,.2 .7-2.9 .6,1.4 .6-1.4 .6,2.3 .6-2.3 .7,.4 .6-1.9 .6,1.4 .6-2.4 .7-1 .6,.8 .6-.8 .7,.1 .6-1.6 .6,.5 .6-.5 .6-1.7 .7,2.6 .6-.3 .6-2.6 .6-.5 .6-.6 .6-.8 .6-2.6 .6,.1 .6,.6 .7-3.4 .6-1.4 .6-2.2 .5-.8 .6-3.4 .4,1 .5-1.4 .4-.1 .4-2.3 .4-1.5 .4-1.6 .4-1.6 .3-1.5 .4-1.4 .3-1.5 .3-2.8 .3-1.5 .4-2.5 .3-1.5 .3,3.2 .3-3.2 .3-1.4 .4-4.9 .3-1.5 .3,3.4 .3-1.5 .3-4 .2-1.5 .3,.3 .3-1.4 .3-1.5 .3-2.9 .2-1.5 .3-2.2 .3-1.5 .3,.6 .3-1.5 .3-3.1 .3-1.4 .3-4.4 .3-1.5 .3,2.7 .3-1.4 .3-2.4 .4-1.5 .3-1.5 .3-1.4 .3-1.9 .3-.4 .3-1.4 .4,.1 .3-1.5 .4-2.1 .3-1.5 .4-2.5 .4-1.7 .5-1.4 .4-2.7 .5,2.1 .5-7.4 .6-.4 .6-.5 .6-1.1 .6-1.2 .6-2.1 .6,2.9 .6-1.1 .6-4.3 .6,2.4 .5,.7 .6,5.9 .6-1.1 .5,.2 .5,1.8 .6,3.6 .4-.1 .5,3.5 .5,2.4 .4,1.4 .5-1.3 .4,3.5 .5,1.5 .4,1.5 .4-.1 .4,3.2 .4,1.4 .4-.2 .4,3.4 .4,1.4 .4,.3 .4,1 .4,1.5 .4,4 .4,.9 .4,1.4 .3-.3 .4-2.4 .4,1.4 .3,6.1 .4,1.5 .4,.4 .3,2.7 .4,1.4 .3,.9 .4,1.5 .3,1.1 .4,1.4 .4,1.4 .3,3.7 .4,1.5 .3,1.5 .4,1.5 .3,1.2 .4-1.6 .3,1.4 .4,2.4 .3,1.5 .4,2.1 .3-1.1 .4,1.5 .4,5 .4,1.5 .3-1.2 .5,4 .4,1.4 .4-.3 .4,2.5 .4,1.5 .4-.9 .5,.5 .5,3.4 .5,.7 .6,1.4 .6,2 .6,1.7 .7,1.3 .6-1.3 .6,0 .6,2 .6-.5 .7,.4 .6,1.3 .6,2.3 .6-.4 .7-1.9 .6,4.9 .6-2.8 .7,2.2 .6-.3 .6,2.5 .6,.1 .6,1.4 .7-.3 .6,.2 .6,2 .6-1.9 .6,.4 .7,1.8 .6,.2 .6,.1 .6,2.1 .6,.3 .6-.5 .7-.5 .6,4 .6-1.4 .6-.5 .7,1.2 .6,.6 .6-.6 .6,1.7 .6-.3 .6-.3 .7,1.9 .6-1.2 .6,1.9 .7-.8 .6-.1 .6,1.6 .6-1.2 .6,1.1 .6,1 .6-1.4 .7,0 .6,1.5 .6,.4 .6-.2 .6,.8 .7-1.4 .6,1.6 .6-1 .6-.1 .7,.5 .6,1.2 .6-.9 .6,0 .7,.7 .6,.9 .6-2.5 .6,3.1 .7,.5 .6-2.2 .6,1.1 .7,.6 .6-.1 .6,1.8 .7-1.5 .6-.5 .6,.9 .7-.8 .6,.2 .6,.3 .7,2.2 .6-.9 .6-1.5 .7,1.7 .6-2.8 .7,2.6 .6,.7 .6-.1 .7,.3 .6-.1 .6-.7 .7,.6 .6,.1 .6,.5 .7-.8 .6,1.6 .6,1.6 .7,.1 .6,.6 .6-2.6 .6,.1 .7,1.2 .6-1.3 .6,1.6 .7-1 .6,1 .6-.5 .7,1.9 .6-.2 .6-.2 .7-1.7 .6,.9 .6-.7 .7,1.6 .6,.8 .7-2.2 .6,2.2 .6-.8 .7,.1 .6,.8 .7-.7 .6-.1 .6,1.6 .7-3 .6,3.2 .7-1.9 .6,.2 .6,2.3 .7-2.6 .6,3.2 .7-1.3 .6-.2 .7,0 .6,1.3 .6-.9 .7,.8 .6-.3 .6-1 .7,2.6 .6-1.5 .7,.5 .6,.2 .6,1.3 .7-1 .6-.4 .6,.5 .6-.2 .7-.5 .6,2.1 .6-1.7 .7,2.1 .6-.8 .6,.8 .6-.6 .7,0 .6,2.4 .6-2.1 .7-.3 .6,1.3 .6,1 .6-2.1 .7,.8 .6,1.3 .6-.1 .7-.7 .6,.7 .6-.6 .7,1.1 .6-.3 .6,.4 .7-.3 .6,.9 .6-.4 .7-.6 .6,2 .7-.9 .6-.3 .6,.2 .7,1.5 .6-.9 .7-.8 .6,.5 .6,0 .7-.1 .6-.1 .7,.7 .6-.6 .6,1.6 .7,.3 .6-1.2 .6,1.1 .7-.7 .6,.9 .6,.3 .7-1.6 .6,1.9 .6,.1 .7-.2 .6-.3 .6,0 .7-1.3 .6,3.3 .6-2.7 .6,2.1 .7-.2 .6,.6 .6-1.1 .7,.5 .6,1.2 .6-1.1 .6,1.1 .7-.9 .6,1.3 .6,.4 .7-.2 .6,.6 .6-.7 .7,.3 .6,1.5 .6-1.4 .7,.6 .6,1 .6-.6 .7,.7 .6-1.4 .6,1.7 .7-.6 .6,.6 .6,.2 .7-1.8 .6,2.5 .7-1.1 .6,1.3 .6-.5 .7-1.2 .6,.4 .6,1.7 .7-1.2 .6,.9 .7-.2 .6-.7 .6,.7 .7,.2 .6,.6 .7-.7 .6-.1 .7,1.5 .6-.9 .7-.7 .6,1.1 .7-.6 .6,1.4 .7-1 .6-.4 .6,.3 .6-.4 .6,.6 .6-.8 .6,1.1 .6,.5 .6-.3 .6-1 .6,1 .6-.6 .7-.7 .6,1 .7,.7 .6-.5 .6-.4 .6-.3 .6,.4 .6,.4 .6-.3 .6,.7 .6-.2 .6,.1 .6-1 .6,.5 .6-.4 .6,.3 .6-.1 .7,1.5 .6-1.6 .7-.7 .6,.6 .7-.1 .6,.8 .6-1.2 .7-.5 .6,.7 .7-.1 .6-1.9 .6,2.9 .6-2.2 .6,1.7 .6-.3 .7,0 .6-1 .6-.9 .6-.1 .6,1.3 .7-1.4 .6,.5 .6-1 .7,1 .6-1.6 .6,.3 .6-.3 .6,.1 .7-.4 .6-1 .6,.2 .6-.2 .6,1.4 .7-1.3 .6-1.2 .6-.3 .6-.9 .6,.9 .6-2.1 .6-1.3 .7,3.3 .6-4.6 .6-.7 .6-1.2 .6,.2 .6-2 .6-1.1 .6,.4 .7-.7 .6-2.1 .6-2.2 .6,.3 .6-1.9 .6-.1 .6-1 .6-2.2 .7,1 .6-1.8 .6-.9 .6,0 .6-2.4 .6-.2 .6-2 .7-1.1 .6-.9 .6-1.4 .6,.3 .6,.6 .6-1.4 .6-3 .6-1.1 .6,1.2 .7-1.9 .6-1.8 .6-1.4 .6-.8 .6-2.7 .6,1.1 .7,2.2 .6-1 .6-2.4 .6,.6 .6-.6 .7-1.6 .6-.7 .6,.1 .6,.6 .7,1.1 .6-1.2 .6-.3 .6-.4 .6,1.6 .7,.3 .6-2 .6,.5 .6,.3 .7,.6 .6-.3 .6-1.8 .6,.6 .6-.3 .6,1.1 .6-1.9 .6-.8 .6,1.9 .6-.6 .7,0 .6,.3 .7-.9 .6,1 .7-1.3 .6-.1 .7,1.7 .6-.9 .7,1.4 .6-2 .7,.1 .6-.5 .7,1 .6,.5 .7-.6 .6,.2 .7-1.2 .6,2.2 .7-.7 .6,.5 .6-2.3 .6,1 .7-.5 .6,.7 .6,2.6 .7-1.8 .6-.9 .6,2 .6,.7 .6-1.8 .6-.1 .7,1 .6-.5 .6,.9 .6-.2 .6,2.6 .7,.4 .6,2.5 .6,1 .6,1.6 .6,.2 .7,.4 .6,2.4 .6-1 .6-.4 .6,1.8 .6,1.9 .6,1.9 .6,1.5 .7-.8 .6,3 .6,.5 .6,1.5 .6-.3 .6,1.9 .6-.4 .6,3.3 .6,.9 .6,2.2 .7,1.6 .6-.5 .6,2.6 .6,1.3 .6,1.7 .6-1.1 .6,.6 .6,2.2 .7,2.4 .6,.1 .6-.8 .6,1.8 .6,2.3 .6-.7 .6,1.3 .7,.1 .6,3 .6,.6 .6-1.5 .6,.3 .7,2.4 .6,.5 .6,.3 .6,.7 .6,.3 .6,1.4 .6,.5 .7,.7 .6,.2 .6-.5 .6,.5 .6,.5 .7,.6 .6-.2 .6,.3 .6,.7 .6,.2 .7,.6 .6,1.2 .7-.9 .6,.7 .6,0 .6-.1 .6,1.2 .6-1.4 .6,1.6 .6-.1 .6-.4 .6,1.3 .6,.5 .6-.3 .6,.4 .7-.7 .6,1 .6,.9 .6-1.5 .7,2.3 .6-2.3 .6,1.8 .6-.7 .7,.6 .6,.1 .6,.1 .7,.8 .6-.6 .7,.4 .6,0 .6-1.1 .7,1.1 .6,.1 .7-.1 .6,1 .6-.2 .7-.4 .6,.2 .7-.4 .6,.6 .6,1.6 .7-2.1 .6,2.2 .7-1 .6-.3 .7-.3 .6,1.2 .6-.5 .7-.2 .6,.5 .7,1 .6-1.2 .7,.3 .6,.9 .7-1.3 .6,1.1 .7,1 .6-2.3 .7,1.6 .6-.7 .7,1 .6-.4 .7-.1 .6-.6 .7,1.3 .6-.4 .7,0 .6,.1 .7,.1 .6-.3 .7-.8 .6,.7 .7,.2 .6,.9 .6,.1 .7-1.1 .6,.4 .7,0 .6,.6 .7,.1 .6,.2 .7-.6 .6,1.7 .7-1.8 .6,1.6 .7-.3 .6,.1 .7-.4 .6,0 .6,.5 .7-.5 .6,.1 .7,0 .6,.4 .7-.3 .6,.4 .7-.2 .6-.9 .6,.7 .6,.8 .6-.6 .6,.6 .6-1.8 .6,1.1 .6-1.3 .6,1.4 .7-.8 .6,.2 .6,.3 .7-.8 .6,0 .6,.1 .7,.6 .6,.3 .7-1.3 .6-.2 .6,.4 .6-.8 .6-.2 .6,.9 .6-.8 .6,1 .7-1.6 .6,1 .6-1.1 .6,0 .7-2 .6,1.5 .6-.5 .6-.9 .6,.9 .7-2.9 .6,1.3 .6-1.1 .6-.7 .6-1.9 .6,.5 .6-1.7 .7-.5 .6-.3 .6-2 .6-2.2 .6,1.2 .6-1 .6-1.3 .7-1.3 .6-1.2 .6-.2 .6-.5 .7-1.6 .6,.5 .6-1.7 .6,.1 .7-1.2 .6-.4 .6,0 .6-.1 .6-.5 .7-1.3 .6,.2 .6-.5 .7-.2 .6,.1 .7-.6 .6,0 .6,.4 .6-1.1 .7,1.5 .6,.3 .6-2.3 .6,2.3 .6-1 .7,.1 .6,1.4 .6-1.1 .7,1.1 .6-.5 .6-.3 .6,.6 .7,0 .6,.9 .6,2 .7-2.3 .6,2.4 .6-1 .6,1 .7,.1 .6,1.2 .6-1 .7,2.2 .6-1.4 .6-.5 .7,1.4 .6,.7 .6,.1 .6,.3 .6-.6 .6,1.4 .7-.3 .6-.7 .6-.1 .7,.5 .6,.5 .6-.3 .7,.4 .6,.8 .7,.2 .6,.6 .7-3.2 .6,1.9 .7,0 .6,.2 .6-.1 .7,0 .6,1.6 .7-1.7 .6,1.3 .7-2.1 .6,2 .7,.8 .6-.5 .7-1.3 .6-.1 .6,.4 .6,1.1 .6-.6 .6-.2 .6,.2 .6-1.2 .6-.8 .6,1.1 .6,.1 .6,.5 .6-.2 .6,2.2 .6-2.7 .6-.1 .6,1.4 .7-1 .6,1.3 .7-.1 .6-.8 .7-1.8 .6,2.1 .6-.9 .7,.2 .6,.2 .7-.7 .6-.9 .6,.2 .7-.5 .6,1.3 .6-.9 .7-.1 .6-.5 .6,0 .7-.9 .6,.7 .6,0 .7-.6 .6,.3 .6,.3 .6-.7 .6-.4 .7,.3 .6-1.3 .6,.2 .6,.1 .6-1.5 .6,.3 .7,1.9 .6-1.6 .6-.3 .6,.1 .6-.8 .6-.5 .6-.1 .7,.8 .6,.2 .6-2 .6,0 .7,.2 .6-1.6 .6,.7 .6,.4 .6-.3 .7,.7 .6-2.6 .6,.5 .6-.9 .6,.1 .6-1.4 .7-2 .6,.1 .6-1.3 .7,.9 .6,.4 .6-1.1 .6-1.4 .6-1.8 .6,1.2 .7-1.1 .6-.5 .6,.1 .6,1.5 .6-3 .6-.7 .7-1.1 .6,1.7 .6-2 .6-1 .6,1.1 .7,.8 .6-1.1 .6,1.4 .6-.9 .6,3.1 .7-1.3 .6,1.8 .6,.2 .6,1.4 .6,1.8 .6,.7 .6,2.2 .6,2.2 .6-.3 .6,.4 .6,1.1 .7-.3 .6,.9 .6,.9 .6,2.1 .6,.5 .7,.7 .6,3 .6-.9 .6,1.5 .6,.6 .6,.5 .6,1 .7-.7 .6,1.8 .6,1.2 .6,1 .6-.7 .7,1.6 .6,.2 .6-.4 .6-.3 .7,1.7 .6-.2 .6,1.6 .6-.2 .6-.9 .6,.9 .7,.8 .6-1.7 .6,2.1 .6-1 .7,.9 .6-.3 .6,1.3 .6-.3 .6,1.1 .7-.2 .6-1.2 .6-.9 .6,1.3 .7-.1 .6,.4 .6-.5 .6,0 .6,.7 .7-.6 .6-1.1 .6,.3 .6-1.4 .6,0 .7-.1 .6-1.7 .6-1.3 .6,.3 .7-1.1 .6,.9 .6-2.3 .6-1 .6-1.5 .7,.3 .6-.1 .6-1.5 .6,.3 .6-.4 .6-.7 .7-1.6 .6-.5 .6,.8 .6-1.4 .6-.2 .7-.1 .6,1.2 .6-2.6 .6,2.1 .6-.3 .7,.5 .6-1 .6,1.4 .7-.9 .6-.9 .6,.2 .6,1.9 .6,1.3 .6,.8 .6,1.5 .6,1 .7-1.9 .6,2.2 .6,.2 .6-.5 .6,1.2 .7-1 .6,.6 .6-1.8 .6,0 .6-1.3 .6-.2 .7-.1 .6-.6 .6,.1 .6-.3 .6-.8 .7-.4 .6-1.4 .6,0 .6-.3 .7-.9 .6,.6 .6-.7 .6-1.6 .6-.2 .7-.2 .6-.3 .6,.7 .6-1.8 .6-.7 .7,.3 .6,.3 .6-2.2 .7,.2 .6,0 .7-.4 .6-1.9 .6,1.2 .6,.5 .6-1.2 .7-1.1 .6-1.3 .6-.5 .6,.3 .6-1.2 .6-.5 .6-1.3 .7,1.2 .6-.3 .6-1.4 .6-.1 .6-1.1 .6,.6 .6-2.3 .7-.8 .6-2 .6,.1 .6-1.3 .6-1.1 .6,.7 .6-1.8 .7-1 .6-2 .6-2.6 .5-.4 .5-.5 .5-3.2 .4-.8 .4-1.4 .4-1.3 .3-.4 .3-1.4 .4-2.5 .3-1.5 .2-.7 .3-1.5 .3-1.5 .3-1.6 .2-1.5 .3-2.4 .3-1.5 .2-1 .2-1.5 .3-1.5 .2-3.1 .2-1.5 .2-1.5 .2-.6 .2-1.5 .3-.3 .3-1.4 .3-1.6 .5-1.5 .6-1.8 .6-1.8 .6,0 .4-.2 .3,.1 .3,1.3 .3-.3 .2,1.9 .3,2 .2,7.3 .2,1.5 .3,.7 .2,1.5 .2,1.5 .2-2 .2,1.5 .2,1.5 .2,4.1 .3,1.5 .2-.5 .3,1.4 .4,3 .4,1.4 .5-.7 .7,2.2 .6,.7 .6,2.2 .6,.9 .6-.2 .6-2.1 .6,2.7 .7-1.1 .6,2.9 .6-3.7 .6,2.1 .7-1.1 .6,2 .6-1.6 .7,1.9 .6-1.7 .6,3.4 .6-.5 .6,1.6 .6,0 .7,3.4 .6-1 .6,2 .6,.4 .6,2.4 .6-1.4 .6,1.1 .6,3.2 .6,.2 .7,1.1 .6,2.6 .6,.8 .6-1.1 .6,3.5 .6,.5 .6,.6 .7,2.6 .6,.9 .6,1.6 .6-.7 .6,.5 .6,3.7 .6-.8 .6,.5 .6-.8 .6,.9 .7,1.6 .6-2.6 .6,1.8 .6,0 .6,2.5 .7-.4 .6-.8 .6,1.7 .6,.3 .7,.2 .6,.8 .6-1.6 .7,1 .6,1 .6,0 .6,.1 .7,2.2 .6-2.4 .6-.1 .7,1.1 .6-.5 .6,1 .6-.8 .6,1.6 .6-1.8 .6,.4 .6,1.1 .7-.6 .6,.7 .6,.2 .7-1.5 .6,1.8 .7-.5 .6,.3 .6-.7 .7,1.2 .6,.4 .7-.2 .6,.3 .7-.2 .6-.1 .6,.6 .7-.4 .6,.6 .7,.5 .6,.6 .6-.4 .7-.8 .6-.7 .7,.8 .6-1.1 .6-.1 .7-.8 .6,2.3 .7-.2 .6-1.9 .7,.8 .6,.9 .6-.3 .7-2 .6,.7 .6-1.7 .6,1 .6-.1 .7-.5 .6-1 .6,.4 .6,1.7 .7-2.6 .6,.1 .6,.4 .6-.6 .7-1.4 .6,1 .6-.5 .6-1.4 .6-.4 .6-.8 .6,.2 .7-.7 .6,.4 .6-2.8 .6,1.8 .7-1.3 .6,.7 .7-1.6 .6-.2 .6-.8 .6-.7 .6,.5 .7,.7 .6-.9 .6-.7 .7,1.4 .6-.4 .6,1.5 .6,1.3 .6,.9 .6,.9 .7-.8 .6-.8 .6,2.8 .6,.7 .6,1.6 .7,.9 .6,.1 .6,1.1 .6,1.4 .6-.5 .7-.6 .6,2.3 .7,0 .6,1.8 .6-.7 .6,0 .6,1.1 .6,1.5 .7-1.8 .6,1.7 .6-1.3 .6,1.7 .6-.7 .6,.1 .7,.9 .6,1.3 .6-3.2 .6,1 .7-.6 .6,1.2 .6-1.1 .7-1 .6,1 .6-.5 .7-.9 .6,.3 .6-.8 .6-1.6 .6,.6 .6-.7 .7-2.4 .6,2.4 .6-2.5 .6-1.8 .6-1.3 .6-.2 .7-.1 .6,.1 .6-1.7 .6-.1 .7,1.8 .6-2.3 .6,2.7 .6-1.6 .6-.4 .7,1.4 .6,3.3 .6,0 .6,0 .6,2.4 .6-.1 .7-.4 .6,0 .6,.1 .6,1.5 .7,.7 .6,1 .6-.2 .6-1.8 .6,.6 .6,.5 .7-1.2 .6-.4 .6-1.4 .6-.5 .6,.1 .6-1 .7-1.8 .6,.7 .6-.6 .6-.3 .7,2.2 .6-.8 .6,2.1 .6-1.3 .6-.1 .7-.7 .6-.1 .6,1.3 .6-1 .7,1.7 .6-.4 .6,0 .7-.7 .6-1 .6,.2 .6,.2 .6,.4 .6-1.1 .7-.3 .6-1 .6,1.6 .6,.3 .6-2.4 .6,1.4 .6,.5 .7-.3 .6-.8 .6-1.6 .6-.8 .7,.4 .6,.8 .6,.6 .6-.3 .6-1.4 .6,.3 .6-.9 .6-1.3 .7,.8 .6,1.3 .6-.4 .6-.6 .7-.2 .6,1.9 .6-1.6 .6-.6 .7-.7 .6,1.1 .6,.7 .6,1.5 .6,0 .6,3.8 .5,1.2 .4-1.2 .3,2.4 .3,1.4 .3,1.5 .2,.3 .2,1.5 .2,2.3 .2,1.6 .1,1.6 .2,1.5 .2,1.9 .2,1.5 .1,1.4 .1,1.5 .2,1.1 .1,1.5 .1,1.5 .1,1.5 .1,1.4 .2,.5 .1,1.5 .1,1.6 .1,1.5 .1,1.5 .2,2.9 .1,1.5 .2,1.5 .2,1.7 .1,1.6 .2,2 .2,1.8 .2,1.4 .2,1.4 .3,.9 .2,.4 .3,0 .4,0 .3,0 .4,0 .3,0 .5,0 .4,0 .4,0 .5,0 .5,0 .5,0 .5,0 .6,0 .5,.1 .6-.1 .6,0 .6,0 .6,0 .6,0 .7,0 .6,0 .6,0 .6,0 .6,0 .6,0 .6,0 .6,0 .6,0 .6,0 .7,0 .6,0 .6,0 .6,0 .6-.1 .6,.2 .6-.1 .7,0 .6,0 .6,0 .6,0 .7,0 .6,0 .6,0 .6,.1 .6-.1 .6,0 .6,0 .7,0 .6,0 .6,0 .6,0 .6-.1 .7,0 .6,.1 .6,0 .6-.1 .6,.1 .7,0 .6,0 .6,0 .6,0 .6,.1 .6-.1 .7,0 .6-.1 .7,.1 .6,0 .6,0 .6,0 .6,0 .6,0 .6,0 .7,0 .6,0 .6,0 .7,0 .6,0 .6,0 .6,0 .6,0 .6,0 .7,0 .6,0 .6,0 .6,0 .7,0 .6,0 .7,0 .6,.1 .7-.1 .6-.1 .6,.1 .6,0 .6,0 .6,0 .6,0 .6,0 .7,0 .6,0 .6,0 .7,0 .6-.1 .7,.1 .6,0 .6,0 .7,0 .6,0 .6,0 .6-.1 .6,.1 .6,.1 .6-.1 .7,0 .6,0 .6,0 .6,0 .7,0 .6,0 .6,0 .7,0 .6,0 .6,0 .7,0 .6,.1 .7-.1 .6-.1 .7,.1 .7,0 .6,0 .6,0 .6,0 .6,0 .6,0 .6,0 .6,0 .6,.1 .7-.1 .6,0 .6,0 .6,0 .7,0 .6,.1 .6-.1 .7,0 .6,0 .6,.1 .7-.1 .6,0 .7,0 .6,0 .7,0 .6,0 .7,0 .6,0 .7,0 .7,0 .6,0 .6,0 .6,.1 .6-.1 .6,.1 .7-.1 .6,0 .6,0 .6,0 .6,0 .6,0 .6,0 .7,0 .6,0 .6,0 .6-.1 .7,.1 .6,0 .6,0 .7,0 .6,0 .6,0 .7,0 .6,0 .7,0 .6,0 .6,0 .7,0 .6-.1 .7,.1 .7,0 .6-.1 .7,.1 .6,0 .7,0 .7,0 .6,0 .7,0 .7,0 .6,0 .7,0 .7,0 .6,0 .6,0 .6,0 .6,0 .6,0 .6,0 .6,0 .6-.1 .6,.1 .7,0 .6,0 .6,0 .6,0 .6,0 .6,0 .7,0 .6,0 .6,0 .6,0 .7,0 .6,0 .6,0 .7,0 .6,0 .6,0 .7,0 .6,0 .7,0 .6,0 .6,0 .7,0 .6,0 .7,0 .6,0 .7,0 .6-.1 .7,.2 .7-.1 .6,0 .7,0 .6,0 .7,0 .6,0 .7,0 .7,.1 .6-.1 .7,0 .7,0 .7,0 .6,0 .7,0 .7,0 .7,0 .6,0 .7,0 .7,0 .7,0 .7,0 .6,0 .6,0 .6,.1 .6-.1 .6,.1 .6-.1 .6,0 .6,0 .6,0 .6,0 .6,0 .6,.1 .7-.1 .6,0 .6-.1 .6,.1 .6-.1 .6,.1 .7,0 .6,0 .6,0 .6,0 .7,0 .6,0 .6,0 .6,0 .7,0 .6,0 .6,0 .1,0" fill="none" stroke="#ff0000" stroke-width="6.0" stroke-linejoin="round" stroke-linecap="butt"/>
<path clip-path="url(#cb)" d="M321.4,1295.2l.6,0 .6,0 .7,0 .6,0 .6,0 .6,0 .6,0 .7,0 .6,0 .7,0 .6,0 .6,0 .6,0 .6,0 .6,0 .7,0 .6,0 .7,0 .6,0 .6,0 .6,0 .7,0 .6,0 .6,0 .7,0 .6,0 .6,0 .6,0 .6,0 .6,0 .7,0 .6,0 .6,0 .7,0 .6,0 .6,0 .6,0 .6,0 .6,0 .6,0 .7,0 .6,0 .6,0 .6,0 .6-.5 .6-1.4 .6-1.9 .5-1.9 .6-1.8 .6-1.5 .6-1.3 .6-1.3 .6-1.6 .7-.1 .6-.5 .6,.6 .6,.2 .6,.9 .7,.7 .6,1.1 .6,.2 .6,.2 .7,0 .6-.7 .6-1.2 .6-1.4 .6-1.1 .7,.3 .6-.7 .6-.7 .6-.5 .7-.4 .6-.8 .6-.1 .6,.8 .6,.3 .7-.8 .6,0 .6,.4 .7,.3 .6,.7 .6,.9 .6,1.5 .6-.1 .7,.6 .6-.5 .6,.4 .7-.3 .6,.1 .6-.8 .6,.1 .7,0 .6,0 .6-.2 .6-.4 .7,.1 .6-.1 .6,.5 .6-1 .7-.2 .6-.3 .6-.5 .6-.3 .6,.1 .6-.8 .6-.5 .6-.2 .7,0 .6-1.6 .6-.5 .6-.6 .6-.9 .6-.6 .6-1 .7-2.2 .6-.4 .6-.9 .6-2 .6-1.1 .6-.9 .6-.6 .6-1.8 .7,.2 .6-1.4 .6,.2 .6-.3 .7-.1 .6,.7 .6,.3 .6,1.1 .6,1.5 .6-.1 .6,.7 .7,.4 .6,2.3 .6-.4 .6,1.5 .6,.2 .7,.7 .6,0 .6,.4 .6,.7 .6-.2 .6-.3 .7,.5 .6-.4 .6,.9 .7,.3 .6-.2 .6,.6 .6-.6 .6,.5 .7-.5 .6,.2 .6-.2 .7,.1 .6-.6 .6,.3 .6-.7 .7,1 .6-1.1 .6-.1 .6-.9 .6,.1 .6,.3 .7-1.4 .6,.7 .6-.6 .7,.9 .6-.9 .6-.2 .6-.6 .6,0 .6-1.3 .6,.9 .7-.8 .6-1.5 .6,.4 .6-.7 .6-.8 .6-.6 .6-.7 .6-1.4 .7-.1 .6-1.9 .6-1.8 .6-.9 .6-1.5 .6-.3 .5-3 .6-1.4 .5-1.9 .5,.9 .7-2.6 .6-.3 .6-1.6 .6-1 .6,0 .7-.9 .6-1 .6,.3 .6,.5 .7,.1 .6-1.2 .6,2.5 .6-.9 .6,1.5 .6,1.4 .6,.8 .6,.3 .7,1.3 .6,1.3 .6,1.1 .6,1.3 .6,1.1 .7,.5 .6,.3 .6,1.4 .6,.2 .6,.2 .6-.3 .6,1.8 .7,.8 .6,.6 .6-.7 .6,.9 .6-.6 .7,1.3 .6,.3 .6-.4 .6,.9 .7,.4 .6,.2 .6-.3 .6,.6 .6-.5 .6,0 .7,.1 .6,.7 .6-.6 .6-.8 .7,1.3 .6,1.1 .6-1.2 .6,.5 .6-.6 .6-.3 .6-.4 .6,.8 .7-.2 .6,.4 .6-.4 .7,.3 .6-1.5 .6,1.1 .6,.1 .6-.3 .7,.3 .6-.9 .6,.2 .7-1.6 .6,1.2 .6-.2 .6-1.8 .6,.4 .6,.2 .7,.5 .6-1.9 .6,.5 .6-.4 .6-.6 .7-1.2 .6,.1 .6-1.7 .6-1 .6,.4 .6-1.1 .7-1.6 .6,1.3 .6-1.2 .6-1 .6-1.8 .6-.8 .6-1.5 .6,0 .6-1 .6-.7 .7,.2 .6-2.2 .6-.7 .6-1.8 .6,1.1 .6-.9 .6-3 .7-.4 .6,2.4 .6,.2 .6-.6 .6,.9 .6-1.4 .6,1.5 .7,1.2 .6,0 .6,.8 .6,.3 .6,2.5 .6-.6 .6,.9 .6,.4 .6,3.3 .6,.2 .6,1.7 .7,.7 .6,1.1 .6,.7 .6,.3 .6,1.3 .7-.1 .6,1.2 .6,.6 .6,.7 .6-.4 .6,2.3 .6-.6 .7-.2 .6,.3 .6,1.5 .6,.4 .6,.9 .6-.7 .7,1.2 .6,.7 .6,.6 .6-1.1 .6,.9 .7,.1 .6,.5 .6,0 .6,.4 .6-.4 .7,.8 .6-.9 .6,1.9 .7-1.5 .6,1.6 .6-.2 .6-.8 .6,.5 .7,.2 .6-.8 .6-.5 .6,1 .6-.5 .6,1 .6-1.1 .7,1.9 .6,.2 .6-1.6 .6-.6 .7,1.2 .6-.5 .6,.2 .6-.8 .6,.1 .6,.9 .6-1 .7-.4 .6,1.2 .6-.1 .6-.5 .6-.5 .7,1.2 .6-1.1 .6-.6 .6-.2 .6,.7 .7,.5 .6-1.5 .6,.1 .6-.2 .6,.6 .6-1.2 .6-.2 .7-.2 .6-.6 .6-.1 .6-2.2 .7,.2 .6-.6 .6-1.5 .6,.1 .6-.6 .6-.9 .6-.9 .6,.4 .7-1.4 .6-1 .6-.6 .6-1.3 .6-.4 .6-.5 .6-1.5 .7-.1 .6-.5 .6-.3 .6-.8 .7-.1 .6-.7 .6-.4 .6-1 .6,1.2 .7-.3 .6-.9 .6-.1 .7,.2 .6,.1 .6,.5 .6,1.5 .6,0 .7,1.4 .6,.4 .6,.6 .6-.3 .6,2.5 .6-.5 .7-.6 .6,1.9 .6,.8 .6,1.4 .6-.1 .6,1.5 .7,.6 .6,1.7 .6-.1 .6,1.2 .6,.9 .6-.3 .6,1.2 .7,.5 .6,1.5 .6,0 .6,1.2 .6-.7 .6,.7 .7,.5 .6,.5 .6-.3 .6,.4 .7,.2 .6,.5 .6-.3 .6,.4 .7-.3 .6,1.7 .7-.4 .6,.5 .6-.9 .6-.3 .6,.1 .6,.3 .6,.9 .6-.4 .7,0 .6-.4 .7,1.4 .6-.9 .6,0 .7,0 .6,0 .6,.2 .6,1.1 .7-.7 .6-.5 .6-.6 .6,1.2 .6,0 .6-1.1 .6,.5 .6-1.4 .6,.6 .6,1 .6-1.5 .7,1.1 .6,.2 .7-1.3 .6,.6 .6,.7 .7,.4 .6-1.2 .6,.6 .6-1.2 .6-.1 .6,.5 .6,0 .6-.4 .6,.3 .7-.3 .6-.2 .6-.5 .7-.1 .6-.3 .6-.1 .6,.3 .6-.3 .7-.1 .6-.5 .6-.4 .6-1.3 .7-.2 .6-.6 .6-.7 .6-1.5 .6,1.1 .6-1.7 .6-.4 .7-.7 .6,.7 .6-1.3 .6,0 .6-1.6 .6-.3 .6-.8 .7-1.3 .6-.7 .6-1.9 .6-.3 .6,0 .7-2.2 .6,1.1 .6-.6 .6-.2 .6-.8 .6-.1 .7-1.1 .6-.2 .6-.6 .6-1.5 .6,.6 .6-.3 .7,.1 .6,0 .6,.6 .6-.3 .7-.1 .6,1.2 .6-1.2 .6,.9 .6,2.2 .6-1.1 .6,1.6 .7-.2 .6,1.7 .6,.5 .6,1.1 .7,.6 .6,1.3 .6-.3 .6,2.4 .6-.2 .6,1.6 .6,.2 .7,1.5 .6,.2 .6,.4 .6,.4 .6,.6 .7,1.2 .6,0 .6,.2 .6,.2 .7,1.3 .6-.7 .6,.8 .6-.2 .6,.6 .6,.6 .6,.6 .7,.1 .6,.7 .6-1.1 .7,2.2 .6-.5 .6,.2 .6-.4 .6,1.1 .6-.6 .7,.5 .6,.4 .6,.4 .6,.1 .7-.4 .6,1.2 .6-.1 .7,.1 .6,.1 .7,.1 .6-.9 .7,1 .6,.5 .6-.3 .7,.3 .6,0 .7-.4 .6-.1 .6,.4 .7,.5 .6,0 .7-1.2 .6,1.8 .6-.9 .6,.2 .6-.3 .6,.7 .6-.7 .6,.9 .6,.4 .6-.9 .6-.4 .6,.8 .6-.7 .7,.2 .6,.2 .7,.4 .6-1 .6,.8 .7-.1 .6-.3 .6,.3 .6-.4 .6-.3 .6-.8 .6-.3 .6,1 .6,.1 .6-.9 .7,.2 .6,.7 .6-.5 .7-1.4 .6,.9 .6-.3 .6-.4 .7-.7 .6,1.1 .6-2.5 .6,.3 .6,.6 .6-1 .7-.4 .6-1.1 .6,.3 .7-1.3 .6-.8 .6-.5 .6,.8 .6-1.1 .6,0 .7-.7 .6-.8 .6-1 .6,.3 .6-.3 .6-1.4 .6-.1 .7-.4 .6-.9 .6,1.1 .6,0 .6-.5 .7,0 .6-.2 .6,.5 .6-.2 .6-1.1 .6,.6 .7-.3 .6-.6 .6,.8 .6-1.1 .6,.4 .6,1.5 .7,0 .6-1.1 .6,1.6 .7,.3 .6,.2 .6-.1 .6,.9 .6,1 .6,1.1 .7,0 .6-.4 .6,1.5 .6,1.4 .6-.5 .6,.2 .6,1.8 .7-.1 .6,.9 .6,.7 .6,.2 .6,.6 .6,.9 .7,.5 .6,.3 .6,.7 .6-.2 .6,1.6 .6-.3 .7,.6 .6,.6 .6-.1 .6-.2 .6,.1 .7,.9 .6,.9 .6,0 .6,.3 .7-.2 .6-.2 .6,.7 .6-.5 .6,.6 .7,.8 .6-.3 .6-.1 .7,.9 .6,.1 .7,0 .6,.4 .7-.3 .6,.4 .7,.3 .6-.2 .7,.3 .6-.2 .7-.4 .6-.1 .6,1 .7,.1 .6-1 .6,.3 .6,0 .6,.2 .6-.9 .6,.9 .6-.2 .6,0 .6-.2 .6,.7 .6-.7 .6,.8 .6-.1 .7-.8 .6,.6 .7-.5 .6-.7 .7,.7 .6,.3 .6,.7 .7-.5 .6-.2 .7-.4 .6,.1 .7-.8 .6-.2 .7-.3 .6,.3 .6,.6 .7-1.6 .6,.5 .6-.3 .6-1 .6,.5 .7-1.1 .6,1.2 .6-.4 .7-1 .6-.1 .6-.4 .6-.4 .6,.2 .7-1.3 .6-.1 .6-.8 .6,.6 .7-.9 .6,0 .6-1.3 .6-1.3 .6,1.1 .6-.6 .6-.3 .7-1 .6-.2 .6-.5 .6-2.1 .6,.9 .6-.7 .7-.9 .6-.8 .6,1.2 .6-1.1 .6-.3 .7-.8 .6-.1 .6,.3 .6-1 .7,1.2 .6-1.1 .6,.8 .6-.8 .6-.6 .6,1.4 .7-1.1 .6-.3 .6,.7 .7-.2 .6-.1 .6-1 .7,.3 .6,.9 .7,.8 .6-.5 .6,.9 .6-.8 .7,1.1 .6,1.2 .6-.4 .6,.1 .7,.5 .6,.5 .6,1.5 .6-.2 .6,.8 .6,.2 .7,1.2 .6,.7 .6,.1 .6,.2 .6,1.2 .7,1.2 .6-.3 .6,.5 .6,1.1 .6-.1 .6-.3 .7,2 .6-.2 .6,.1 .6,.8 .6,0 .7,1.2 .6-.2 .6,.3 .7,.1 .6-.2 .6,.4 .6,.7 .6-.8 .7,.2 .6,.3 .7-.4 .6,.7 .6-.8 .6,.7 .6-.5 .6,.4 .6,0 .7,1.2 .6-1.2 .6,.6 .6-.2 .6-.4 .6,.6 .6-.4 .6-.6 .6,0 .7,.7 .6,0 .6-.7 .6,.6 .6-.2 .6,.3 .6-.5 .6,.2 .6,.2 .6,.2 .6,.3 .6-1.4 .6,.6 .7-.5 .6-.1 .7-.4 .6,.4 .6,.2 .7-.2 .6,.1 .6-.1 .6,0 .6-.3 .7,0 .6-.3 .6-.4 .6-.6 .7-.3 .6,.5 .6-.9 .6,.4 .6-.9 .7-.4 .6,0 .6,.3 .6-1.3 .6-.5 .7,0 .6-.1 .6-1 .6-.7 .6,0 .7-.7 .6-.6 .6-1.5 .6,.2 .6-1 .6-.3 .6-1.4 .7-.5 .6-1.1 .6,.4 .6-2.6 .6-.5 .6-.6 .7-2 .6,.4 .6,.3 .6-1.4 .6-.7 .6-1.4 .7-1.1 .6-.3 .6-1.2 .6-.7 .6,1.4 .7-1 .6,.5 .6-1 .6-1.2 .7,1.7 .6-1 .6-.7 .6,.2 .6,1.6 .6-1.1 .7,1 .6,.6 .6,0 .6,2 .6,.8 .6-.9 .7,1 .6,.9 .6,.6 .6,.7 .6-.2 .6,1.3 .7,.1 .6,1.5 .6,1.1 .6,.9 .6-.8 .7,2 .6-.2 .6,1.6 .6,.5 .6,.5 .7,.9 .6,.2 .6,.1 .6,1 .6-.4 .6,1.2 .7,.7 .6-.2 .6,1.5 .7,.3 .6,.1 .6-.1 .6,.2 .6,.6 .7,.1 .6,.3 .6-.6 .6,.7 .6,.4 .7-.8 .6,.6 .6,0 .6,0 .6,.6 .7-.4 .6,.5 .6-.1 .6,.2 .6-.4 .6-.1 .6,.6 .6-.3 .7,.3 .6-.5 .6,.5 .6-.3 .6-.2 .6,.3 .6-.4 .7,.1 .6,0 .6-.7 .6,.7 .6-.5 .6-.2 .7,0 .6-.4 .6-.6 .7,.6 .6-.3 .6,.7 .6-.2 .7-1 .6,.1 .6,0 .6-.6 .6-.6 .7-.4 .6-.8 .6,.4 .6-.5 .7-.7 .6-.6 .6,.3 .6-1.1 .6,0 .6-1.6 .7-.5 .6,.2 .6-1 .7,.3 .6-1.1 .6-.1 .6-1.3 .6,.1 .7-1.3 .6-.4 .6-1.1 .6-1 .6-.3 .6,.2 .6-.5 .7-1.4 .6-.2 .6-.5 .6,.7 .6-1.2 .7-.5 .6,.5 .6-.9 .6,.3 .6-.2 .6-1 .7-.9 .6,.6 .6,1.3 .6-.6 .6-1.1 .6-.2 .6,1.5 .7-1 .6-.7 .6,.6 .7,.5 .6,.4 .6,1.3 .6,.2 .6-.2 .7,.5 .6-.1 .6-.3 .6,1.2 .7,.3 .6,1.1 .6,.2 .6,1.1 .6-.3 .6,.7 .7,.6 .6,.5 .6,1.6 .6,.2 .6,0 .7,.9 .6,1.8 .6,.7 .6-.5 .6,1.2 .6-.3 .6,.1 .7,1.1 .6,0 .6,.9 .7,1.6 .6-.3 .6,.3 .6,.7 .6-.2 .6,.7 .7-.2 .6,.1 .6,.6 .6,0 .6-.2 .7,1 .6,0 .6,.3 .6,1.2 .7-.1 .6,.3 .6-.3 .7-.1 .6,1.2 .7-1.7 .6,1 .7,.4 .6-.7 .6,1 .7-.8 .6,.3 .6,.6 .6-.3 .6-.6 .6,0 .6,.5 .6,.1 .7-.7 .6-1.1 .6,.4 .7,.5 .6-.9 .6,0 .6-.5 .7,.1 .6,.4 .6-1.1 .6,.7 .7-1.5 .6,.7 .6-.4 .6-1.3 .6-.7 .7,.8 .6-.6 .6-.7 .6-1 .6,.1 .7-1.4 .6,.5 .6,.2 .6-1.7 .6,0 .7-1.5 .6-.1 .6-.9 .6-.4 .6-1.1 .6-1.5 .6,.8 .6-1.8 .6,.6 .7-1.8 .6,.6 .6-.6 .6-.8 .6,.5 .7-.8 .6,.4 .6-.8 .6-1.8 .6,1.7 .7-1.2 .6-.2 .7-.8 .6,.1 .6,.1 .6,.1 .6,0 .7-.3 .6,.4 .6,.5 .7-.5 .6,.2 .6,1.3 .6,0 .7-.3 .6,1.4 .6,.3 .6,1.4 .6-.2 .6,.4 .7,0 .6,.1 .6,1 .6,.5 .6,1.3 .7-.4 .6,2.1 .6-.7 .6,.5 .6,1.8 .6,.1 .6,.4 .6,1.2 .6,.1 .7,.9 .6,.2 .6,.8 .6,.1 .7,1.1 .6,0 .6,.7 .6-.5 .7,1.6 .6-.1 .6,.5 .6,.3 .6,.1 .7,0 .6,.9 .6-.4 .7,.2 .6-.2 .6,.9 .6-.7 .6,.5 .6-.4 .7-.3 .6,0 .6,.9 .6-1 .7,0 .6,.4 .6,.4 .7-.7 .6,.5 .6-.7 .6-.3 .7,.5 .6-.8 .6-.7 .6-.3 .7,.2 .6-.1 .6-1 .6-.3 .6,.2 .7-1.3 .6,0 .6-.6 .6-.7 .6-1.7 .6,.4 .6-1.1 .6,.1 .7-1 .6-.6 .6,.4 .6-.9 .7-1.3 .6,.4 .6-1 .6-1 .6,.3 .7-.5 .6,.1 .6-.3 .6-.3 .6-1.3 .7,.1 .6-1.1 .6,1 .6-.4 .7-1.1 .6,1.4 .6-.1 .6-1.2 .6-.4 .7,.9 .6,.3 .6-.2 .6,.8 .6-.8 .7-.1 .6-.2 .6,1.4 .6-.9 .7,.5 .6,.3 .6,.3 .6,0 .6,1 .7-.3 .6,.2 .6-.3 .6,.7 .6,.6 .7,.9 .6-.4 .6,.8 .6,.3 .7-.6 .6,2 .6,1.4 .6-1 .6,1.9 .7-.5 .6,.9 .6,1.2 .6,0 .7,.4 .6,.9 .6,.4 .6-.1 .6,.7 .7,.8 .6,0 .6-.3 .7,.7 .6-.5 .6,1.7 .6-.8 .6-.8 .7,.4 .6,.4 .6,.1 .6-.5 .6-.2 .7-.3 .6,.7 .6,0 .6-.5 .7-.2 .6-.2 .6-.4 .6,.2 .6-.4 .6-.4 .6-1 .7,.1 .6-1.5 .6,.4 .6-1.4 .6-.4 .6-1.2 .6-.2 .7-.9 .6,.1 .6-1.4 .6,1.2 .6-.9 .6-.1 .7-.8 .6,0 .6-.9 .6-.4 .6,0 .7-.9 .6,1 .6-.7 .6-.1 .6-.5 .7,.7 .6,.3 .6-.8 .7,.8 .6-.5 .6-1.1 .6,.4 .6,1.2 .6-.1 .6,.6 .7-1.6 .6,.8 .6-1.2 .6,.3 .6-.1 .6,.1 .7,.6 .6,.6 .6-.6 .7-.7 .6,1.5 .6-.4 .7-.9 .6,1.8 .6-.5 .6,.6 .7-.6 .6,.3 .6,.8 .6-.9 .7,1.2 .6,.6 .6,0 .6-.2 .6,.2 .6,1.2 .6-.3 .7,.2 .6-.3 .6,1 .6,.5 .6-1.2 .6,2.2 .6-.1 .6-.3 .6-.6 .6,2.3 .6-.8 .6-.5 .6-.5 .7,1.2 .6-1.5 .6,.8 .6-.2 .7-.7 .6,.1 .6-.2 .7,.6 .6-.4 .6,.2 .7-1.4 .6,1 .6-.7 .7,.2 .6-1 .6-.5 .6,.9 .6-.8 .7-.5 .6,0 .6-.2 .6-1.2 .6,.8 .6-.9 .6,.3 .7-.1 .6,1 .6-1.2 .6-1.1 .6,.8 .7-1 .6,0 .6,0 .7,.9 .6,.3 .7-.6 .6-1.2 .7,.8 .6-1.5 .6,1.1 .6,1.6 .6-2.3 .6,.2 .6-.1 .6,1.3 .6-.3 .7-.1 .6,.2 .7-1.1 .6-.8 .7,1.2 .6-1.3 .6,1.2 .7-.3 .6-.3 .7,.5 .6-.7 .6-1 .7,.1 .6-.1 .6,.6 .7-.6 .6,.2 .7-.7 .6,.4 .7-.8 .6,.5 .6,.7 .7-.6 .6-.1 .7,1.1 .6,.1 .7-1 .6,1 .6-.7 .7,.2 .6,.5 .7,1 .6-.7 .7,.1 .6-1.4 .7,1.8 .6,.4 .7-1.1 .6,1.2 .6-.1 .7,.3 .6-.3 .7,1.5 .6-.3 .7-1.4 .6-.4 .7,1.3 .6,.1 .7-.2 .6-.1 .6,.9 .7-2.4 .6,1.1 .7,.8 .6-.1 .6-.9 .7,1.2 .6-.5 .7-.3 .6-.5 .6-1.3 .6,.3 .6-.7 .7,.4 .6-1.1 .6,.5 .7-.7 .6-.1 .6-1.7 .6,.1 .6,.1 .7-.2 .6-1.8 .6,.6 .6,.7 .6-2 .6-.6 .7-.9 .6-.1 .6,.4 .6,.5 .7,.6 .6-1.8 .6,.5 .6,.6 .6-.6 .6-.3 .7,0 .6-.9 .6,.1 .6,1.5 .7,.6 .6,.2 .6,.4 .6,.7 .7,.4 .6-.7 .6,.7 .6-1.1 .6,2.3 .7-.1 .6,.4 .6,.9 .6-.9 .6,1.3 .6-.1 .7,1.8 .6-1.3 .6,.7 .6,.8 .6-.1 .7-.7 .6,.3 .6,.4 .6-.3 .7-1.4 .6,.8 .6-1.7 .6-.6 .6-.2 .7-1.2 .6-.5 .6,0 .6-2 .6,.5 .6-1.2 .7,.1 .6-1.4 .6,.4 .6-1 .6-.4 .6-.6 .6-1 .7,.4 .6-.1 .6-.6 .7-.1 .6-.6 .7-.4 .6,.3 .6,0 .6,.3 .6,.5 .7-.7 .6,.2 .6,1.9 .6-1 .6,.4 .6-.2 .6,1 .6-1.4 .6,1 .6,.3 .7-.3 .6,.6 .6,.6 .6-.5 .6-.5 .6-1.2 .6,1 .6,1.2 .7,.2 .6-.6 .6,.2 .6-.1 .7-1.6 .6,.4 .6-.3 .6,.3 .7,0 .6-1.1 .6-.5 .6-.7 .6-.4 .6-1.3 .6,1.4 .6-1.2 .7,.4 .6-.4 .6-.3 .6-1.9 .6,.5 .7-.4 .6,0 .6-1.3 .6-.5 .7,1 .6-2.4 .6,.4 .6-1.6 .7,.6 .6-1.4 .6-.3 .6-.6 .6-.8 .6,2.7 .7-1 .6,1.4 .6-.3 .6-.8 .6,.7 .7,1 .6-.5 .6,.9 .7,.5 .6,.2 .6,.3 .6-1.1 .6-.4 .7-.1 .6-1.6 .6,2.5 .6,.1 .6-3.9 .7,2.4 .6-.9 .6-.4 .6-1.8 .6,.3 .6-2.3 .6,1 .6-.7 .7-.5 .6-2.8 .6-.2 .6-.1 .7,1 .6-1.6 .6,.9 .6-1.5 .6,0 .7-2 .6,.1 .7-.7 .6-.6 .6,1.3 .6,.4 .6-2.1 .7,.2 .6,.9 .7-1.3 .6,.2 .6-.3 .6,.1 .6-.4 .7-1 .6-1.4 .6,1.3 .6-2 .6,.6 .6-.1 .7,1.5 .6-2.1 .6-.6 .7-1.1 .6-.4 .6-1.6 .6-1.2 .6,1.1 .6-1 .6-.5 .6-.8 .6,.9 .7-2.8 .6,1.4 .6-3 .6-.4 .6-.7 .6-.3 .7-.1 .6-1.2 .6-.8 .6-1.6 .6-1.2 .6-1 .6-1.9 .7,2 .6-3 .6-1.5 .6-1.4 .6-.3 .6-1.7 .7,.8 .6-1.1 .6-3 .6,.5 .6-1.8 .5-1.9 .5-1.4 .6-2 .6-.2 .6-3.9 .6,1.1 .6-2 .6-3.3 .6,.8 .7-.7 .6-.8 .6-1.7 .6-2.5 .6-.1 .5-1.6 .5-4.9 .5,.8 .5-1.4 .5-.7 .5-1.7 .4-.5 .5,.5 .5-1.4 .5-3.6 .5-1.9 .5-1 .5-2.4 .4-1.4 .4-1.1 .4-1.6 .4-1.5 .3,0 .3-1.4 .4-2.7 .3-1.5 .3-.8 .3-1.4 .2-1.2 .3-1.5 .3-3.1 .3-1.5 .3,.5 .3-1.5 .3-.3 .3-1.4 .3-3.7 .3-1.5 .3-.8 .2-1.5 .3-.4 .3-1.5 .3-1.2 .3-1.5 .2-2.7 .3-1.5 .2-1.5 .3-2.1 .2-1.5 .3-.5 .2-1.5 .2-1.5 .2-3.5 .2-1.5 .2-1.5 .2-1.1 .2-1.5 .2-1.5 .1-1.2 .2-1.5 .2-1.5 .2-1.5 .1-.2 .2-1.4 .2-1.5 .1-3.6 .2-1.5 .1-1.5 .2-1.5 .1,.4 .2-1.5 .1-1.5 .2-1.5 .1-1.5 .1-4.1 .2-1.5 .1-1.5 .1-1.5 .1-.6 .2-1.5 .1-1.5 .1-1.5 .1-1.5 .1-1.4 .1-1.5 .1-1.5 .1-1.5 .1-1.5 .1-1.5 .1,.6 .1-1.5 .1-1.5 .1-1.5 .1-1.5 .1-1.5 .1,.3 .1-1.4 .1-1.5 .1-1.5 .1-1.5 .1-1.5 .1-1.5 .1-6.5 0-1.5 .1-1.5 .1-1.5 .1-1.5 .1-1.5 .1-1.5 .1,1.2 .1-1.5 0-1.5 .1-1.5 .1-1.5 .1-1.5 .1-1.4 .1-2.1 0-1.5 .1-1.5 .1-1.5 .1-1.5 .1-1.5 0-1.5 .1-.7 .1-1.5 .1-1.5 0-1.5 .1-1.4 .1-1.5 .1-1.5 0-1.5 .1-3.1 .1-1.5 .1-1.5 0-1.5 .1-1.5 .1-1.5 .1-1.5 0-1.5 .1,.8 .1-1.5 0-1.5 .1-1.5 .1-1.5 .1-1.5 0-1.5 .1-1.5 .1-1.5 0-6.4 .1-1.5 .1-1.5 0-1.5 .1-1.5 .1-1.5 0-1.5 .1-1.5 .1-1.6 .1,3.8 0-1.5 .1-1.5 .1-1.5 0-1.5 .1-1.5 .1-1.5 0-1.5 .1-.7 .1-1.5 0-1.5 .1-1.4 .1-1.5 .1-1.5 0-1.5 .1-1.5 .1-1.5 0-5.5 .1-1.5 .1-1.5 0-1.5 .1-1.5 .1-1.5 0-1.5 .1-1.5 .1-1.5 .1,.2 0-1.5 .1-1.5 .1-1.4 0-1.5 .1-1.5 .1-1.5 .1-1.5 0-3.9 .1-1.5 .1-1.5 .1-1.5 0-1.5 .1-1.5 .1-1.5 .1-1.5 .1,0 0-1.5 .1-1.5 .1-1.5 .1-1.5 .1-1.5 0-1.5 .1-1.4 .1-1.5 .1-1.5 .1-1.5 0-1.5 .1-1.5 .1-1.5 .1-1.5 .1-6.1 .1-1.5 0-1.5 .1-1.5 .1-1.5 .1-1.6 .1-1.5 0,5.4 .1-1.5 .1-1.5 .1-1.5 .1-1.5 0-1.5 .1-1.5 .1-1.5 .1-1.9 .1-1.5 0-1.5 .1-1.5 .1-1.5 .1-1.5 .1,.9 .1-1.5 .1-1.5 .1-1.5 .1-1.5 .2-1.5 .1-5.6 .1-1.9 .2-2 .2-2 .2-1.4 .1-1.7 .2-1.4 .2,1.1 .2-.5 .1-.1 .2,.4 .1-5.3 .2,1 .1,1.3 .2,1.6 .1,6.5 .2,1.8 .1,2 .2,2 .1,.2 .1,1.9 .1,1.8 .1,1.7 .1,1.6 .1,5.9 .1,1.5 .1,1.5 .1,1.5 .1,1.5 0,1.5 .1,1.5 .1,1.5 .1-2.6 0,1.5 .1,1.5 0,1.5 .1,1.5 .1,1.5 0,1.5 .1,1.5 .1,1.5 0,3.8 .1,1.5 0,1.5 .1,1.5 .1,1.5 0,1.5 .1,1.5 .1,1.5 0,1.5 .1-1.3 .1,1.5 .1,1.5 0,1.5 .1,1.5 .1,1.5 0,1.5 .1,1.5 .1,1.5 .1-3.7 0,1.5 .1,1.5 .1,1.5 .1,1.5 0,1.6 .1,1.5 .1,1.5 .1,10 .1,1.5 0,1.5 .1,1.5 .1,1.5 .1,1.5 .1,1.5 .1,.9 .1,1.4 0,1.5 .1,1.5 .1,1.5 .1,1.5 .1,1.4 .1,1.5 .1,1.5 .1,1.5 .1,1.5 .1,1.5 .1-.8 .2,1.5 .1,1.5 .1,1.5 .1,1.5 .1,4.1 .2,1.5 .1,1.5 .1,1.5 .2,1.5 .1-2.3 .2,1.5 .1,1.5 .2,1.5 .1,1.8 .2,1.5 .2,1.4 .2,4.5 .2,1.5 .2,1.5 .3,1.2 .2,1.5 .3,3.3 .3,1.4 .3-2.8 .3,1.5 .3,3.4 .3,1.5 .4,1.6 .4,1.4 .3,2.4 .4-2.2 .5,1.5 .5,3.4 .5,.6 .5,2.9 .6,5.4 .6-2.3 .6,2.7 .6-.4 .7-.5 .6,2.1 .6,.6 .6,.8 .6,2.3 .6,.2 .7-1.8 .6-2 .6,2.4 .6,1.3 .6,1.2 .7-2.5 .6,0 .6,.4 .6-3.7 .6,.1 .7,.6 .6-2.7 .6-1.4 .6,.1 .6-.6 .6,.6 .6-3.9 .6-1.9 .6-.7 .5,.6 .6-1.4 .6-5.8 .5,2.1 .7-.2 .6-3.6 .6-1.6 .6-2.3 .6,.3 .6,1.1 .6-2.3 .6-2.7 .7-2.6 .6-.2 .6,3.2 .6-4.6 .7,3.6 .6-1.7 .6,1.3 .6-1.1 .6-1.2 .6,1.7 .6,.4 .7,.1 .5,3.5 .5,1.9 .4,1.5 .3-.3 .3,1.5 .3,2.8 .3,1.5 .2,3.1 .2,1.5 .2,1.5 .2,.3 .2,1.5 .1,1.5 .2,1.6 .1-.4 .1,1.5 .1,1.5 .1,1.5 .1,1.5 .1,5.8 .1,1.5 .1,1.5 .1,1.4 0,1.5 .1,1.5 .1,1.5 .1,1.5 0-2 .1,1.5 .1,1.5 0,1.5 .1,1.5 0,1.5 .1,1.5 .1,1.5 0,1.5 .1,1.5 0,4.4 .1,1.5 0,1.5 .1,1.5 0,1.4 .1,1.5 0,1.5 .1,1.5 0,1.5 .1,1.5 .1,1.5 0,.3 .1,1.5 0,1.5 .1,1.5 0,1.5 0,1.5 .1,1.5 0,1.5 .1,1.5 0,1.5 .1,1.5 0,1.5 .1,1.5 0,2.6 .1,1.5 0,1.5 0,1.5 .1,1.5 0,1.4 .1,1.5 0,1.5 .1,1.5 0,1.5 0,1.5 .1,1.5 0,1.5 .1,1.5 0,1.5 0,.3 .1,1.5 0,1.5 .1,1.5 0,1.5 0,1.5 .1,1.5 0,1.5 .1,1.5 0,1.5 0,1.5 .1,1.5 0,1.5 .1,1.5 0,1.5 0-.3 .1,1.5 0,1.6 .1,1.5 0,1.5 0,1.5 .1,1.5 0,1.5 0,1.5 .1,1.5 0,1.5 .1,1.5 0,1.5 0,1.5 .1,1.5 0,4.3 0,1.5 .1,1.5 0,1.5 0,1.5 .1,1.5 0,1.5 0,1.5 .1,1.5 0,1.5 .1,1.5 0,1.5 0,1.5 .1,1.5 0,1.4 0,1.5 0,1.5 .1,1.5 0-.7 0,1.5 .1,1.6 0,1.5 0,1.5 .1,1.5 0,1.5 0,1.5 .1,1.5 0,1.5 0,1.5 .1,1.5 0,1.5 0,1.5 0,1.5 .1,1.5 0,1.5 0,1.5 .1,1.5 0,1.5 0,.8 .1,1.5 0,1.5 0,1.5 0,1.5 .1,1.5 0,1.5 0,1.5 0,1.5 .1,1.6 0,1.5 0,1.5 0,1.5 .1,1.5 0,1.5 0,1.5 0,1.5 .1,1.5 0,1.5 0,1.5 0,1.6 .1,1.5 0,1.5 0,1.5 0,1.5 0,1.5 .1,1.5 0,1.5 0,1.5 0,1.5 0,1.5 .1,1.5 0,1.5 0,1.6 0,1.5 0,1.5 .1,1.5 0,1.5 0,1.5 0,1.5 .1,1.5 0,1.5 0,1.6 0,1.5 .1,1.5 0,1.5 0,1.5 0,1.5 .1,1.5 0,1.5 0,1.6 0,2.6 0,1.5 .1,1.5 0,1.5 0,1.5 0,1.5 0,1.5 .1,1.5 0,1.5 0,1.5 0,1.5 .1,1.5 0,1.5 0,1.5 0,1.5 .1,1.5 0,1.5 0,1.5 .1,1.4 0,1.5 .1,1.5 0,1.2 .1,1.5 0,1.5 .1,1.5 0,1.7 .1,1.9 .1,2 .2,2 .1,1.7 .2,1.4 .2,.2 .2,0 .3,0 .3,0 .4,0 .5,0 .6,0 .6,0 .6,0 .6,0 .6,0 .6,0 .6,0 .6,0 .6,0 .7,0 .6,0 .6,0 .6,0 .7,0 .6,0 .6,0 .6,0 .7,0 .6,0 .6,0 .6,0 .6,0 .7,0 .6,0 .6,0 .6,0 .6,0 .7,0 .6,0 .6,0 .6,0 .7,0 .6,0 .6,0 .7,0 .6,0 .6,0 .7,0 .6,0 .6,0 .6,0 .7,0 .6,0 .7,0 .6,0 .7,0 .6,0 .6,0 .6,0 .6,0 .6,0 .7,0 .6,0 .6,0 .7,0 .6,0 .7,0 .7,0 .6,0 .7,0 .7,0 .6,0 .6,0 .6,0 .6,0 .6,0 .6,0 .7,0 .6,0 .6,0 .7,0 .6,0 .7,0 .6,0 .7,0 .6,0 .7,0 .7,0 .6,0 .7,0 .7,0 .7,0 .6,0 .6,0 .7,0 .6,0 .6,0 .1,0" fill="none" stroke="#0000ff" stroke-width="7.0" stroke-linejoin="round" stroke-linecap="butt"/>
<path clip-path="url(#cb)" d="M321.7,1294.9l.7,0 .6,0 .6,0 .6,0 .6,0 .7-.1 .6,0 .7-.1 .6,.1 .6-.1 .6,0 .7-.1 .6,0 .6-.1 .7,0 .6-.1 .6,0 .6-.4 .6,.1 .7,.1 .6-.6 .6,.3 .6-.1 .7-.2 .6-.1 .6-.3 .6,.1 .6-.2 .7-.6 .6,.3 .6-.6 .6-.3 .6-.4 .6-.6 .7-.8 .6-1 .6-.9 .6-1.8 .6-.1 .6-1.6 .5-1.9 .5-1.4 .5-1.3 .4-.6 .4-2.6 .4-1.5 .4-1.9 .4-1.6 .3,.7 .4-1.9 .4-1.4 .4-2.1 .3-1.4 .3-.7 .3-2.3 .3-1.5 .4-1.3 .3-1.4 .4-1.5 .5-1.2 .5-2.6 .6-.3 .7-.6 .6-1.9 .6-.9 .6,.4 .6,.7 .6-2 .7,.3 .6-.4 .6-.6 .7-1.2 .6-2.8 .6-1.1 .6-.1 .6-.3 .6-1 .6-1.5 .6-1.1 .7-.5 .6-3 .6,.2 .6-1.4 .6-3.5 .6,.5 .6-1.4 .7-.7 .6-1.1 .6-3.6 .6,3.1 .6-2.7 .6,0 .6-.9 .6-2.7 .6,.2 .7-1 .6,1.8 .6-4.4 .6,2.3 .6-1.4 .6-2.8 .6,.2 .7,.2 .6-2.5 .6,.5 .6-.2 .7-.7 .6-1.9 .6,.4 .6-.6 .6-3.9 .7,.2 .6-1 .6,0 .6,1 .6-1.1 .6-.8 .7-1.8 .6,1 .6-3.7 .6-.5 .7,1.7 .6-1.9 .6,.9 .6-1 .6-.6 .6-2.9 .6-.5 .7-2.1 .6,1.2 .6-.9 .6-1.2 .6-.3 .6-.1 .6-2.9 .6-1 .6-.4 .7-.3 .6,.6 .6-2.3 .6-5.4 .6-.3 .6-.1 .6-3.5 .6,2.9 .7-3.3 .6-1.9 .6,.1 .6-.6 .6-2.3 .6-.9 .6-.1 .6-4.1 .6,0 .6-3.9 .6-.5 .5,1.7 .6-3.8 .6-1.8 .5,1.2 .6-1.4 .5-3.3 .5,.6 .6,.1 .5-1 .5-4.9 .5-.6 .5-2.8 .5-1.4 .5,2 .5-3.2 .4,2 .5-6.4 .5-1.4 .4-.8 .5-5.7 .4,1.8 .5-1.4 .4-1.3 .4,.3 .4-1.5 .5-.6 .4-4.3 .4-1.4 .4-.4 .4-.3 .4-1.5 .4-2.5 .3-.2 .4-1.5 .4,0 .3-5 .4-1.5 .3,.1 .4-1.5 .3,0 .3-1.5 .3-3.2 .3-1.5 .3,1 .3-1.4 .4-4.7 .2-1.4 .3,.9 .3-1.4 .3-3 .3-1.4 .2-.9 .3-1.5 .2-3.7 .2-1.5 .3-1.4 .2,1.6 .2-1.5 .2-1.5 .2-5.4 .1-1.5 .2-1.5 .2-1.5 .1,2.5 .2-1.5 .2-1.5 .1-3.4 .2-1.5 .1-1.5 .2-1.5 .1-1.5 .1-1 .2-1.5 .1-1.5 .1-1.5 .2,.5 .1-1.5 .1-1.5 .1-1.5 .2-1.5 .1-6.6 .1-1.5 .1-1.5 .1-1.5 .2-1.5 .1,2.7 .1-1.5 .1-1.5 .1-1.5 .1-1.5 .1-2.3 .1-1.5 .1-1.5 .1-1.5 .1-1.5 .1-1.4 .1-3.3 .1-1.5 .1-1.5 .1-1.5 .1-1.5 .1-1.5 .1-1.5 .1,1.2 .1-1.5 .1-1.5 .1-1.5 .1-1.5 .1-3.2 .1-1.5 .1-1.4 .1-1.5 .1-1.5 .1-1.5 .1,2.4 .1-1.5 .1-1.5 .1-1.4 .1-1.5 .1-1.5 .1-6.5 .1-1.5 .1-1.5 .1-1.5 .1-1.5 .1-1.5 .1,2.9 .1-1.5 .1-1.5 .1-1.4 .1-1.5 .1-1.5 .1-1.5 .1-1.9 .1-1.5 .1-1.4 .1-1.5 .1-1.5 .1-1.5 .1-3.8 0-1.5 .1-1.5 .1-1.5 .1-1.5 .1-1.5 .1-3.8 .1-1.5 .1-1.5 .1-1.5 .1-1.5 .1-1.5 .1-1.5 0,0 .1-1.5 .1-1.5 .1-1.5 .1-1.5 .1-1.5 .1-1.5 .1-4.4 .1-1.5 .1-1.5 0-1.5 .1-1.5 .1-1.5 .1-1.5 .1-.1 .1-1.6 0-1.5 .1-1.5 .1-1.5 .1-1.5 0-1.5 .1-1.2 .1-1.5 .1-1.6 .1-1.5 0-1.5 .1-1.5 .1-1.5 .1-1.5 .1,.9 .1-1.5 .1-1.5 .1-1.5 .1-1.5 .1-1.5 .1-5.8 .1-1.5 .1-1.5 .1-1.6 .2-1.8 .1,2.6 .2-2 .2-2 .1-4.1 .2-1.9 .2-1.8 .2,1.9 .2-1.4 .2-1.1 .2-.8 .2-1.4 .2-.1 .2,.3 .2-2.3 .2,1 .2,1.3 .2,3.6 .2,1.7 .2,1.7 .3,2 .2,1.9 .2,.2 .1,1.9 .2,1.9 .2,1.7 .1,2.2 .2,1.5 .1,1.5 .1,1.4 .1,1.8 .1,1.5 .1,1.5 .2,1.5 .1,1.5 .1,1.5 .1-.5 .1,1.5 0,1.5 .1,1.5 .1,1.5 .1,1.5 .1,.9 .1,1.5 .1,1.5 .1,1.5 .1,1.6 0,1.5 .1,1.5 .1,4.8 .1,1.5 .1,1.5 .1,1.5 .1,1.5 .1,1.5 .1-3.1 .1,1.5 .1,1.5 .1,1.5 .1,1.5 .1,1.5 .1,6.7 .1,1.4 .1,1.5 .1,1.5 .1,1.5 .1,1.5 .1,2.3 .1,1.5 .1,1.5 .1,1.5 .1,1.5 .2,1.5 .1-1.3 .1,1.5 .1,1.5 .1,1.5 .1,1.5 .1,3.4 .2,1.5 .1,1.4 .1,1.5 .1,1.5 .1-1.1 .1,1.5 .2,1.5 .1,1.5 .1,1.5 .1,4.6 .1,1.5 .2,1.5 .1,1.5 .1,1.4 .2,6.7 .1,1.5 .2,1.4 .1,1.5 .2-3.9 .1,1.4 .2,1.5 .2,1.5 .1,.4 .2,1.5 .2,1.4 .2,1.6 .2,1.5 .2,1.5 .2-1.3 .3,1.5 .2,2.8 .3,1.5 .3,1.5 .2,2.4 .3,1.4 .3,.9 .4,1.4 .3,2.9 .3,3.7 .4,1.4 .4-3.8 .4,2.9 .5,1.5 .5,2.9 .6-1.2 .6,1.9 .6,4.1 .6,1.4 .6,.7 .7-1.3 .6,4.1 .6,1.6 .6-1.5 .6,1.9 .6,.3 .7,.9 .6,.3 .6,2.6 .6-1.5 .6,5.5 .6-3 .6,5.4 .6-3.1 .6-3.8 .6,7 .6,0 .7-.6 .6,1 .6-.4 .6-.3 .6,1 .6,7.5 .6-5 .7,2.3 .6,3.9 .6-3.8 .6,1.9 .6,.2 .6-1.1 .6,4.4 .6,1 .7-.8 .6,.9 .6,2.2 .6,.9 .6,3 .6-1.5 .7,.9 .6-1.9 .6-.6 .6,5.5 .7-3.1 .6,3.4 .6-.3 .6-.9 .6,2.5 .6,3.3 .7,.1 .6-2.7 .6,1 .6-2.5 .6,3.1 .6,1.6 .6,1.3 .7-1.1 .6,3.4 .6-3.3 .6,3.2 .6-2.5 .7,1.6 .6,1.4 .6,1.4 .6-2.2 .7,.9 .6,.6 .6,1.1 .6,2.2 .6-1.2 .6-1.7 .6,0 .6,2.6 .6,.1 .7-.7 .6-1.9 .6-1.7 .6,.1 .7,1.3 .6-2.2 .6,1.3 .7,3.8 .6-2.5 .6-3.4 .7,3.9 .6-3.3 .6,.5 .7,0 .6-.4 .6-1.3 .6,1.8 .6,2.3 .6-4.5 .6,1.8 .6-3.7 .6,2.1 .6-2 .7,3.2 .6-3.6 .7,1.5 .6-1.3 .6-2.7 .7,1.9 .6-.5 .6,1.1 .7-2 .6-3.1 .6,2 .7,1.9 .6-2 .6,2.2 .6-2.2 .6,1.2 .6,1.2 .7-1.3 .6-3 .6,5.2 .6-2 .7,2.2 .6-5.7 .6,5.2 .7,.5 .6-.2 .6,1.1 .7-1.1 .6,.6 .6,2.9 .6-.9 .6,2 .6-.2 .7-1.6 .6,1.6 .6,1.2 .7,2.4 .6-2.4 .6-.6 .7,4.9 .6-3.8 .7-.4 .6,.8 .6-2.7 .6,6.5 .6-.5 .6,.2 .6-.8 .6-1.1 .6-.5 .6-.4 .6,2.6 .6,.3 .7-.3 .6-3.2 .7,5 .6-4.7 .6,1.2 .7-.3 .6-4 .7,1.6 .6,.9 .7,2.5 .6-2.7 .6,1 .7-2.9 .6,1.2 .6,2.5 .6,.8 .6-2.8 .6,.1 .7-1.1 .6-.8 .6-.1 .6,1.1 .7-3.4 .6-1.3 .6,2.4 .6-2.7 .6,1.1 .7-3.1 .6,1.6 .6-2 .6,1.6 .6-2.8 .7-3.7 .6,1.6 .6,1.3 .6,2.8 .7-4 .6-1.9 .6,.6 .7,2.5 .6-1.7 .6-.2 .6-.3 .6,1.4 .6-5.3 .6,4.3 .7-1.5 .6-2.9 .6,3.1 .6,1.6 .6-1.8 .6,3.7 .6-3.8 .6,2.8 .7,4.7 .6,.1 .6,1.2 .6-.4 .6,.5 .6-4.3 .7-.4 .6,4.2 .6-1.8 .6-1.3 .7,2.7 .6-4.5 .6,1.5 .6,1.5 .6-4 .7-.4 .6,.1 .6-3.3 .7,5.2 .6-.5 .6,1.3 .6-3.3 .6,.7 .7,.4 .6,1.7 .7-2.4 .6,.3 .6-2.1 .6,1.8 .6-.6 .6,1.8 .7-.6 .6-3.3 .6,2.6 .6-1.4 .6,1.2 .6,1.5 .7-4.3 .6,2.9 .6-2.5 .7,1.6 .6-.2 .6-1.9 .6-2.3 .6,3.2 .6-1.8 .7,2.1 .6-.5 .6,1.1 .7-1.2 .6-4.8 .6-.2 .6,1 .6,.7 .7,.1 .6-2.2 .6,1.2 .6-2.9 .6,3.1 .7-3.3 .6-.7 .6-.4 .6,.4 .6-.2 .6,.9 .7-3.6 .6,2 .6-.4 .6-.1 .7-4 .6-.5 .6,1.1 .6,.4 .6-3.3 .7,1.2 .6,1.8 .6-7.3 .6,.4 .6,.8 .6,.1 .6-2.1 .6-.3 .6,.2 .6-4.9 .5-2.1 .5,2.7 .4-1.5 .4-7.2 .4,3.3 .4-1.4 .3-.6 .3-1.4 .3-3.4 .3-1.5 .2-3.1 .3-1.5 .2,0 .3-1.5 .2-1.5 .2-2.9 .2-1.5 .2-1.5 .2,3.5 .2-1.5 .3-1.5 .2-4.2 .2-1.4 .2-1.5 .2-2.6 .2-1.5 .2-.8 .2-1.4 .2-1.5 .2-1.3 .3-1.5 .2-1.5 .2-.4 .2-1.5 .2-1.5 .2-2.9 .2-1.5 .1-1.5 .2-3.8 .2-1.4 .2-1.5 .2-1.5 .2-.5 .1-1.5 .2-1.5 .2-3.1 .2-1.5 .1-1.5 .2-1.5 .1-2.2 .2-1.5 .1-1.5 .2-1.5 .1,2 .2-1.4 .1-1.5 .2-1.5 .1-3.2 .2-1.5 .1-1.5 .1-1.5 .2-.7 .1-1.5 .1-1.5 .2-1.5 .1-1.5 .1,.3 .2-1.5 .1-1.5 .1-1.5 .1-.8 .2-1.5 .1-1.5 .1-1.5 .2-1.5 .1-3.3 .1-1.5 .1-1.5 .2-1.5 .1-1.5 .1-2.9 .1-1.5 .2-1.5 .1-1.5 .1,1.2 .1-1.5 .2-1.4 .1-1.5 .1-1.5 .1-4.9 .1-1.5 .1-1.5 .2-1.5 .1-1.5 .1-1.5 .1,3.9 .1-1.5 .1-1.5 .2-1.4 .1-1.5 .1-6.1 .1-1.5 .1-1.5 .2-1.5 .1-1.5 .1,2.3 .1-1.5 .1-1.5 .1-1.5 .2-1.5 .1-6.7 .1-1.5 .1-1.5 .1-1.5 .2-1.5 .1,3 .1-1.5 .1-1.5 .2-1.5 .1-1.5 .1-2.4 .1-1.5 .1-1.5 .2-1.5 .1-1.5 .1-2.9 .1-1.5 .1-1.5 .2-1.5 .1-1.5 .1,1.5 .1-1.5 .2-1.5 .1-1.5 .1-2.8 .2-1.5 .1-1.5 .1-1.4 .2-1.5 .1-2.6 .1-1.5 .2-1.5 .1-1.5 .1-2 .2-1.4 .1-1.5 .1-1.5 .1-1.5 .2-.1 .1-1.4 .2-1.5 .1-1.5 .1-2.4 .2-1.5 .1-1.5 .2-1.5 .1-3.9 .2-1.5 .2-1.5 .1-1.4 .2-1.3 .2-1.5 .2-1.5 .2-.1 .2-1.7 .2-1.8 .3-4.7 .2-1.9 .3-4 .3-1.7 .2,5.8 .3-1.2 .3-4.6 .3-.4 .3,7.7 .4,.6 .3-4.4 .4,1.4 .3,3.2 .4,1.7 .4,1.9 .3,.1 .3,1.9 .3,.7 .2,1.5 .2,1.5 .1-1.7 .2,1.5 .2,1.5 .1,1.5 .2,2.7 .1,1.5 .1,1.5 .2,1.5 .1,1.5 .1,.8 .1,1.5 .1,1.6 .1,1.5 .2,1.5 .1,1.2 .1,1.5 .1,1.5 .1,1.5 .1,1.5 .1,1.5 .1,1.3 .1,1.5 .1,1.5 .1,1.5 .1,1.5 .1,5.9 .2,1.5 .1,1.5 .1,1.4 .1,1.5 .2-3.9 .1,1.5 .1,1.5 .1,1.5 .2,1.5 .1,10.3 .1,1.5 .1,1.5 .2,1.5 .1,1.5 .1-4.5 .1,1.5 .2,1.5 .1,1.5 .1,4.5 .1,1.5 .2,1.5 .1,1.5 .1,1.5 .1,1.2 .2,1.5 .1,1.5 .1,1.5 .1,1.5 .1,1.8 .2,1.5 .1,1.5 .1,1.5 .1,1.4 .1,.3 .1,1.5 .1,1.5 .2,1.5 .1,1.5 .1,1.5 .1,1.3 .1,1.5 .1,1.4 .1,1.5 .1,1.5 .2,2.3 .1,1.5 .1,1.5 .1,1.5 .1,1.4 .1,3.3 .1,1.5 .1,1.4 .2,1.5 .1,1.5 .1,1.1 .1,1.5 .1,1.5 .2,1.5 .1,1.5 .1,.3 .1,1.5 .2,1.5 .1,1.5 .1,1.5 .2-2.2 .1,1.5 .1,1.5 .2,1.5 .1,1.5 .1,2.8 .2,1.5 .1,1.5 .1,1.5 .2,3.6 .1,1.5 .2,1.5 .1,1.5 .1,3.8 .2,1.5 .1,1.5 .2,1.5 .1,2.1 .2,1.4 .1,1.5 .1,1.5 .2,1.5 .1-2.8 .2,1.5 .1,1.5 .2,1.5 .1,3.4 .2,1.5 .1,1.5 .2,1.5 .1-.4 .1,1.5 .2,1.5 .1,1.5 .2,.7 .1,1.5 .2,1.5 .1,1.5 .2,3.6 .1,1.5 .2,1.4 .1,1.5 .2,2.5 .1,1.5 .2,1.5 .2,1.5 .2,.8 .2,1.5 .1,1.5 .2-3.7 .2,1.5 .3,1.5 .2,8.4 .2,1.4 .3-4.9 .2,1.5 .3,1.5 .3,7.6 .3,1.5 .3,2.2 .3,1.4 .3,4.8 .3-7.4 .4,1.5 .3,3.3 .4,1.4 .4,2.7 .3,2.1 .4,1.4 .4-.3 .4,4.4 .4,1.5 .5-1.5 .5,2.3 .4,1.3 .5,1.4 .5,2.9 .6,.9 .5-2.4 .5,5.8 .6-1.9 .5,1.5 .6,1.8 .5,2.3 .6,1.4 .5,2.9 .6,1.4 .6-2.4 .5,3.9 .6,3.4 .6,1.2 .6,.1 .6-.3 .6,3.7 .6-.1 .6-.7 .7-.7 .6,6.5 .6,2.5 .6,2.6 .6,0 .6-.3 .6,.2 .6,1.7 .7,1.9 .6-2.1 .6,3.3 .6,.2 .6,2.7 .6-3.6 .6,1.9 .7,3.6 .6,1.9 .6-1.4 .6,2.5 .6,.7 .6,.1 .7,.7 .6,2.5 .6,2.3 .6-2 .6,2.7 .6,.3 .6-.4 .6,.8 .6,.3 .7,2.6 .6,1.5 .6-.5 .6-1.7 .6,3.8 .6,.5 .6,.4 .7,3.2 .6-2.3 .6,1.5 .6,1.5 .6,2.9 .6-3.3 .6,2.7 .7-2.5 .6,2.5 .6,1.3 .7-.9 .6,3.6 .6,.2 .6-1 .6,2.1 .6,0 .6,.7 .7,3.1 .6-2.9 .6,2.9 .6,1.5 .6-1 .6,1.4 .7,2.7 .6-4.1 .6,.5 .6,3.2 .6-.3 .7,2.8 .6-2.6 .6,1.5 .6,1.3 .6-3.6 .6,5.8 .6-1.5 .7-.9 .6,.9 .6,.6 .6,3.3 .7-2.9 .6,3.8 .6-2.4 .6,2 .6-.8 .6,.9 .7,1.9 .6-1.1 .6-.3 .6,4.3 .7-2.8 .6,.3 .6,0 .7-.7 .6,1.3 .6,1.9 .6-1 .6,1.7 .6,.2 .6,.9 .6,1.6 .7-1.9 .6-1.5 .6,2.6 .6,.8 .7,2 .6-2.2 .6-.8 .7-.1 .6,2.4 .6-.9 .7,2 .6,.7 .6-1.7 .6,1 .6,.3 .6-2.6 .7,.9 .6,3.7 .6-4.2 .6,.8 .7,2.5 .6-2 .6,.9 .7-.5 .6,3.6 .7-2.1 .6,2.6 .6-1.8 .7-2.5 .6,2.6 .7-2.7 .6-.4 .6,4.7 .7-.6 .6,1.4 .7-1.5 .6-.2 .7-.8 .6-.4 .6-.1 .7,.6 .6,.2 .7,3.7 .6-2.7 .7-1.9 .6,3.2 .6-1.7 .6-1.2 .6,1.2 .6-1.1 .6,1.7 .6-1.1 .6,1.9 .6-3.2 .6-.1 .6,4.5 .6-4.3 .6,4.5 .6-3.1 .6,1.8 .6-2.6 .7,.8 .6,2.4 .7-3.8 .6,2.8 .6-3.1 .7,5.3 .6-1.4 .7-4.1 .6,2.2 .7,2.1 .6,1.7 .7-3.2 .6,1.9 .7-2.8 .6,1.2 .7-.6 .6-1.3 .7-1.1 .6,5.5 .7-2 .6,0 .7-.8 .6,1.4 .7-2 .6,0 .6-.3 .7,2.6 .6-2.5 .7,4.9 .6-2.7 .7-.4 .6,.4 .6,2.7 .7-5.4 .6,3.5 .6,2.6 .7-.9 .6-.9 .6-.9 .7,4 .6-.5 .6-3.9 .7-.7 .6,2.3 .6-.4 .6-2.7 .7,3.5 .6,3.8 .6-3.6 .6,1 .7-.4 .6,.2 .6,.5 .6,.1 .7,0 .6,.7 .6,.3 .6-.1 .6-2.2 .7,1.2 .6-.2 .6,1.5 .6,2.7 .6-1.5 .6-.8 .6,3.7 .6-1.5 .6-1.8 .7,1.9 .6,1 .6,.1 .6-1.9 .6,1.4 .6-1 .6,1.9 .7-3.2 .6,2.9 .6,1.9 .7-.2 .6-.5 .6,.9 .6,.1 .6,2 .7-.6 .6,.7 .6-1.6 .6,1.2 .6-.1 .6,2.6 .6,.1 .7-.5 .6,1.4 .6-.7 .6,.1 .6,1.4 .6-.1 .7,3.1 .6-4.5 .6,3.3 .6-2.2 .7,2.5 .6-2.1 .6,3.5 .7-2.1 .6,2.5 .6-3 .6-.1 .6,2.7 .7-2.4 .6,.8 .6-1.3 .6,.8 .7-2.8 .6,2.3 .6,.2 .6,1.3 .6-.1 .7-1.6 .6,.1 .6-.3 .6,2.8 .6-3.9 .6,2 .7-1 .6-1.8 .6,3.6 .6,1.3 .7-1.3 .6-2.3 .6,2 .6-2 .6,1.2 .6-4.1 .7-.2 .6,.4 .6-.5 .6,.3 .6-.9 .7-3.4 .6,1.3 .6-.4 .6-2.3 .6-2.7 .5-1.5 .5-2.1 .5-1.4 .4-3 .4,.2 .3-1.4 .4-2.4 .3-1.5 .4,.9 .3-1.5 .3-1.6 .2-1.5 .3-1.1 .3-1.5 .3-1.6 .2-1.5 .3-1.3 .3-1.5 .2-3 .3-1.5 .3-1.5 .3-1.2 .3-1.5 .3-.3 .2-1.4 .3,.1 .3-1.5 .3-6.6 .2-1.4 .3-.5 .3-1.5 .2-.1 .3-1.5 .3-1.5 .2-2.7 .3-1.5 .3-.7 .3-1.5 .2-.5 .3-1.5 .3-2.8 .3-1.5 .3,1.2 .3-1.5 .3-1.7 .3-1.5 .3-1.4 .2-1.5 .4-1.9 .3-1.5 .3-.9 .4-1.5 .4-7.9 .4,5.2 .4-1.4 .5-4.4 .6,4 .6-6.4 .6,.5 .6-4.4 .6-.5 .6,1.5 .7-.5 .6,1.3 .6-1.8 .6,.3 .6,.9 .7-6.6 .6,5.3 .6-2.3 .6-.8 .7,1.7 .6-.2 .6-.6 .7-1.9 .6-2.6 .7,3.4 .6-.3 .6,0 .6,.8 .6,2.3 .7-1.8 .6-1.6 .6-2.4 .6-2 .6,4.3 .6-2.4 .6-2 .7-3.7 .6,1.4 .6,1.3 .6-.7 .6-1.6 .7,1.5 .6-.3 .6,.6 .6,4.3 .6-.7 .6,.1 .6,4.9 .6-3.1 .6,4.6 .6,1.7 .5-.9 .5-.5 .5,4.3 .5-1.4 .5,4.5 .4,1.4 .5-.5 .4,3.9 .4,1.5 .4,.5 .4-.3 .4,1.4 .4,3.4 .3,.9 .4,1.4 .3,5.3 .4,1.5 .3,1.3 .3,.4 .3,1.5 .3,1.6 .3,1.5 .3,4 .3,1.5 .3,1.4 .2-2 .3,1.5 .3,1.3 .2,1.5 .3,3.7 .2,1.5 .3,1.5 .3-.1 .2,1.5 .3-.9 .3,1.5 .2,5.3 .3,1.5 .3-.7 .3,1.5 .2,3.4 .3,1.4 .3,1.5 .2,1.7 .3,1.4 .3-1.4 .2,1.5 .3,2.1 .3,1.5 .3,2.2 .2,1.5 .3-1.2 .3,1.4 .3,1.9 .3,1.5 .3,1.5 .3,3.1 .3,1.4 .3,1.3 .2,1.5 .3,.2 .3,1.5 .3,2.6 .3,1.5 .3,2.1 .3,1.5 .3,0 .3,1.5 .3,1.3 .3,1.5 .4,2.3 .3,.2 .4,1.5 .4,1.7 .4,2 .4,1.4 .5-.6 .5,3.2 .5,2.4 .5-.2 .6,4.1 .6,.4 .6,2.5 .7-.5 .6,2.1 .6,.2 .6-.1 .6,3 .6-.6 .6,2.4 .6-.9 .7,2.1 .6,.4 .6,2.5 .6-1.1 .6,2.3 .6-.1 .7,1.8 .6-1.7 .6,2.1 .6,.5 .6,.2 .6,0 .7,1.7 .6-2.7 .6,2.7 .7-1.1 .6,1.6 .6,.7 .6-.3 .6-.3 .7-.5 .6,.6 .7,1.6 .6-1.9 .6,4.7 .6-2.6 .6-.5 .6,2.2 .6,.4 .6-.5 .6-1 .6,1.2 .7,1.4 .6-.1 .6-2.7 .7,3.3 .6,1.3 .6-2.3 .7-1 .6,1.5 .7,1.2 .6,0 .6,.3 .7-2.7 .6,2.8 .6,.9 .7,1.6 .6-1.8 .7,2.3 .6,.5 .6-.1 .7-1.3 .6,2.2 .7-1.5 .6,.4 .7-1 .6,.8 .6,.3 .6,2.6 .6-.8 .6,.1 .6-.4 .6,.2 .6-.4 .6,.9 .6,1.9 .6-1.4 .6,2.6 .7-1.3 .6-.8 .6,1.9 .6-.1 .6-1.3 .6,2.2 .7-.9 .6,0 .6,1 .6-1.3 .7-1.4 .6,1.4 .6,2 .6,.8 .6-2.7 .7,2 .6,.3 .6-1.8 .6-.2 .7,3.7 .6-1.2 .6-.5 .6,1 .7-2 .6,2.2 .6-.3 .6,0 .7,1.6 .6-.9 .6-.3 .6-.1 .7,.9 .6,1.7 .6-3.1 .6,1 .6,.7 .7,1.4 .6-1 .6,1.4 .6-2.5 .7,1.3 .6,1.9 .6-2.8 .6,2.7 .7,1.2 .6-.4 .6,.2 .7-1.4 .6,.4 .6,1.6 .7-.5 .6,1.4 .6-1.4 .7-.1 .6,1.5 .6-.4 .7-1.4 .6,1.1 .7-1.4 .6,1.8 .7-1.1 .6,1.6 .7,.1 .6-.6 .6-2.2 .6,1 .6,.8 .6,0 .6,.1 .6,.7 .6-1.6 .6-.5 .6-.1 .6,2.4 .6-.2 .6-1.3 .6,.4 .6,1.3 .6-1.6 .6,1 .6,.1 .6-.5 .7,.6 .6-1.2 .7-1.3 .6,1.5 .6-1.3 .6-.3 .6,2.3 .7-1.7 .6,.5 .6,.5 .6-1.1 .7,1.4 .6,1.2 .6-2.8 .6,.7 .6-2.6 .7,1.5 .6,2.4 .6-1.9 .6-.5 .6,.7 .7-1 .6,1.5 .6-2 .6-.9 .6-.2 .6-2.9 .7,2.4 .6-.6 .6-3.2 .6,.5 .6,0 .6,.5 .6-3.5 .7-1 .6-.4 .6,.2 .6-3.8 .6-.8 .6-1.8 .6,.5 .6-.6 .7-.6 .6-1.7 .6-2.1 .6-2.9 .6-.1 .6-.3 .6-1.7 .6-3.2 .6-.3 .6-1.3 .7,.6 .6-1.9 .6-1.9 .6,.3 .6-1.3 .6-2.1 .7,1.3 .6-2 .6-.9 .6-1.7 .7,.7 .6-.1 .6-4.1 .6,1.4 .6-.1 .7,.6 .6-2.7 .6,3.8 .6-3.2 .6-1 .6,2.1 .7-1.2 .6-.8 .6,1.4 .7,.3 .6,.1 .7-1.1 .6,2 .6,5.1 .6-4.9 .6,1 .6-2.5 .6,3.1 .6,.9 .6-.5 .7,.8 .6-.7 .6,2.6 .7-.6 .6-1.2 .6,1.3 .6,1 .6,.1 .6,3 .7-3 .6,.5 .6,.7 .6-1.5 .7,1.8 .6-1.2 .6-.1 .6,.2 .7,3.7 .6-3.7 .6,2.8 .7-1 .6-1.4 .6,1.3 .7-.4 .6,1.6 .6,1.1 .6,1.3 .7-2.9 .6,.2 .6,.1 .7,1 .6,2.3 .6-2 .7,0 .6-3.3 .6,4 .7-1.4 .6,4.1 .6-2.1 .7-1.2 .6,1 .6,1.6 .7-2 .6,.3 .6-3.3 .7,1.1 .6-.8 .6,1.8 .7-2.5 .6,1 .6,.1 .6,.7 .7,1.1 .6-.6 .6-1.6 .6-.2 .6-2.8 .6,3.5 .6-2.7 .6,.2 .7,.1 .6-1.5 .6,.6 .7,1.2 .6,.2 .6,.3 .6-1.6 .6-2.1 .7,.8 .6-2.3 .6-2.2 .6,3.2 .7-1.8 .6-.7 .6-1.4 .6,3.2 .6-3 .7,.9 .6-2.1 .6-.5 .6,1.2 .6-4.8 .6,1.8 .7-.5 .6,1.5 .6-.9 .6,1.4 .6,0 .6,.6 .6,2.9 .6,2 .6,.5 .6-.7 .7,2.2 .6,3.3 .6-.2 .6,2.6 .6,.2 .6,2.9 .7-1.8 .6,2.7 .6,2 .6,.9 .6-.9 .6,1.9 .6,1.8 .6,.6 .6,2.1 .6,1.3 .6,1.6 .5,1.4 .6,.9 .5,3.2 .6,1.6 .6,.1 .6,2.9 .6,1.4 .5-.3 .6,1.5 .6,3.5 .6,1.2 .6,.7 .6,0 .6,1.8 .6,1.5 .6-.1 .6,.1 .7,.9 .6,1.3 .6,.4 .6,2 .6,.8 .6-.1 .7-.1 .6,.4 .6,0 .6-.1 .6,1.4 .7-.8 .6,1.1 .6-1.2 .6-.1 .6,1.4 .7,2.2 .6-2.5 .6-1 .6,1.6 .6-1.8 .7-1 .6-1.5 .6,.9 .6-1.9 .6-1.2 .6-.2 .7,.4 .6-1.3 .6-3 .6,1.4 .6-2.6 .6,.9 .6-2.6 .7-.6 .6-1.2 .6-.6 .6-.4 .6-.7 .6,1 .6-2.3 .7-.5 .6,1.3 .6-2.4 .6,.6 .6,.3 .7-1.5 .6,2.1 .6-.4 .6,1.2 .7-.3 .6-1.4 .6,.1 .7,.9 .6,.9 .6,.3 .6,.2 .6,1.2 .7-1.6 .6,3.1 .6-1.3 .7,.4 .6,1.1 .6-1.7 .6,2 .6-.1 .6-.2 .6,1.3 .6,1.6 .6-.8 .6-.1 .6,2.1 .6-.6 .6,1.7 .7-.3 .6-.7 .6-.3 .7,.7 .6,1.8 .6-1.9 .7,3.9 .6-4.3 .6,3.2 .6,.9 .6-1.5 .7-1 .6,1.9 .6,.4 .6,1.5 .7-.6 .6,.2 .6,1.8 .6-1.6 .6,.6 .6,.6 .7,2.6 .6-5.3 .6,1.1 .6,1.6 .6-.1 .7,.9 .6,.9 .6,.1 .7-.7 .6-.3 .6,.6 .7-.3 .6,2.6 .7-.6 .6-1.2 .7,.9 .6-.6 .7,.2 .6-1.2 .6,1 .7-.6 .6,.9 .6-1.5 .7,.3 .6,1 .6,.7 .7-1 .6-.4 .6-1.9 .6,.5 .6,.3 .6-.9 .7-.8 .6-.1 .6-1.1 .6-3.2 .6-1.6 .6-2 .6,.6 .7-.5 .6-.5 .6-3.2 .6-1.3 .6,2.1 .6-1.5 .6-3 .7,.1 .6-1.7 .6-.1 .6,2.3 .6-3 .7-.3 .6-.2 .6-1.7 .6-.6 .7-.6 .6,3.2 .6-2 .6,.2 .6,1.8 .7-2.1 .6,.8 .6-.2 .6,1.5 .7-.6 .6-1.4 .7,3.2 .6-.5 .6-.5 .7,.4 .6-1 .7,1 .6,1.7 .6-.7 .6-1.6 .6,.2 .6,1.3 .7,1.8 .6-.7 .6-.3 .6,1.1 .6-1.6 .7,1.2 .6-.7 .6-.9 .6,1.5 .7-2.5 .6,.7 .6,.4 .6-3.3 .6,1.7 .6-.8 .6-1.7 .6-2 .6-.9 .7-1 .6-.9 .6-2.2 .6,.2 .6,.1 .6-4.4 .6-.7 .6-.6 .6-.3 .7-.2 .6-.4 .6,1.1 .6-1.8 .6,.3 .7-2.6 .6,.7 .6-3.2 .6,.4 .6,3.9 .7-3.3 .6,.6 .6,.1 .6-.4 .6-2.8 .6,1.7 .7,2.4 .6-1.8 .6-2 .6,.4 .7-.9 .6,.5 .6-.4 .6-.4 .6-1.2 .6-1.6 .7,2.6 .6-.3 .6,.5 .6,1 .6,.5 .6-1.1 .7,2 .6,.4 .6-.9 .6,3.3 .6,.8 .4,1.4 .4,1.1 .5,1.2 .5,1.7 .6,.4 .6,.9 .6,2.7 .6,2.2 .6-.1 .7,1.8 .6-2 .6,3.8 .6-1.4 .6-.4 .6,.4 .6,.5 .7-.3 .6,.4 .6-1.7 .7,2.1 .6-.8 .6-1.1 .7,2 .6-1.1 .7,1.4 .6-2.9 .6,1.7 .6-2.9 .6,1.3 .7-1.1 .6-.2 .6-2.7 .6-3.2 .6,.9 .6-.8 .5-1.4 .5-.6 .5-1.1 .5-1.3 .6-2.2 .5-2 .4-2.1 .5-1.5 .5-.2 .5-2.6 .5-.5 .5-2.2 .6,0 .5-2.8 .6-1.5 .6-1.8 .6-1.2 .6,.2 .6-2.5 .6,1.4 .6-2.1 .6-1.6 .6-1.7 .7,1.1 .6,.9 .6,1.2 .6,.2 .6,.7 .5,1.5 .4,1.9 .3,1.7 .3,1.5 .4,4.5 .3,1.4 .4-2.4 .4,2.9 .5,1.4 .5,4.3 .5-2.7 .6,4.7 .6,1.2 .6,.5 .6,.8 .6-1.5 .7,2.9 .6,.8 .6,2.6 .6,.7 .6-2 .6-.7 .7,2.6 .6,3.7 .6-1.5 .6,1.3 .6-.5 .7,1.3 .6-.7 .6,.5 .7,1.9 .6,0 .6,.8 .6-.5 .6,1 .7-.6 .6-.1 .6,.8 .7-1.1 .6-1.4 .6,.3 .6,.6 .6,1.4 .7-1.8 .6,.3 .6,1.6 .6,.2 .7-3.2 .6,.2 .6,.9 .6-.7 .6-1.3 .6,3.7 .7-2.5 .6,.8 .6-1.2 .6-.8 .6-3.1 .7,1.9 .6-.5 .6-.4 .6-1.4 .6-.9 .6,1.1 .6,.3 .7,.1 .6-1.2 .6-2.6 .7,1.3 .6-.4 .6-.4 .6-.8 .7,1.9 .6-1.6 .6,.7 .6,.5 .6-1.7 .7,.5 .6-.3 .6,2.3 .6-2.7 .6,3.4 .7-3.2 .6,5.1 .6-.3 .6,.7 .6,.9 .7,.7 .6,1.5 .6-2.1 .6,3.7 .6,.3 .6,.5 .6,2.2 .5,2.3 .5,2.1 .6,1.4 .5,.3 .7,1.2 .6,3.6 .6,.3 .6-.4 .6,1.9 .6,1.6 .7-.5 .6,1.1 .6,1.6 .6-1.9 .6,1.9 .7,0 .6-.5 .6,1.4 .7,.8 .6-.9 .6,0 .6,1.9 .6-1 .6-.9 .7,1.2 .6,.4 .6-.9 .7-1.6 .6,1.1 .6-.6 .6,2.3 .6-2.3 .7,2.2 .6-1.8 .7,0 .6,1.1 .6-2.7 .6,.3 .6-.1 .6,.4 .7-1.2 .6,.3 .6,.2 .6-1.6 .7,1.1 .6-1.8 .6-.7 .6,.2 .6-1.4 .7,.2 .6-1.5 .6-1.2 .6,.9 .6-.2 .7-1.4 .6,.4 .6-1.8 .6,2.2 .6-2.7 .7,.5 .6-.9 .6-.9 .6,2.1 .7-1.7 .6-.6 .6,1.8 .6,0 .7-1.5 .6,1.8 .6,.9 .6-.3 .7-.9 .6,1.9 .6,0 .6,.3 .6,2.5 .6,1.6 .7-1.4 .6,3.1 .6,.7 .6,2 .6-.1 .6,0 .6,3.2 .7-.8 .6,1.9 .6-.5 .6-.6 .6-.3 .6,0 .6,.8 .7,0 .6,.6 .6-1.7 .6-.1 .6-.1 .6-1 .7-1 .6-.5 .6-2.6 .6,.6 .6-2 .6,2.5 .7-1.8 .6-1.6 .6-.5 .7-.2 .6,.6 .6-1.1 .6,0 .7-.8 .6,1.4 .6,.3 .7-1.3 .6,2.3 .6,0 .6,1.9 .6,.9 .6-.7 .7,1.8 .6,1.2 .6-1.3 .6,1 .6,2.1 .6-1.7 .7,2.4 .6-1.2 .6,.6 .6,.9 .7-2.3 .6-1.3 .6-.5 .6,1.4 .6-2.2 .6-.3 .7,1.6 .6,.7 .6-1 .7,1.3 .6-.7 .6-.5 .6-.4 .6-.1 .6,0 .6,.5 .6-.9 .6-1.6 .7-.2 .6,.6 .6,1 .6-1.5 .6,1.3 .6,.4 .7,.9 .6-1.9 .6,0 .6-.3 .6,0 .6,2.6 .6-4.4 .6,3 .6,.3 .6,1.1 .6-.1 .7-.8 .6-1.9 .7,.9 .6,.5 .6-.4 .6,1.5 .7-1.1 .6-.5 .6,1.3 .6,1.1 .6-.9 .6-.1 .6,.7 .7,1.4 .6,.8 .6-.2 .6,.6 .7,2.2 .6,2.2 .6,1.4 .6,1.1 .5-1.3 .5,2.1 .5,1.2 .4,1.1 .4,1.5 .4,1.4 .3,1.5 .4,1.9 .3,1.5 .3,1.9 .2,1.5 .3,2 .3,1.5 .2,1.4 .2,1.5 .3,1.5 .2,.4 .2,1.5 .2,1.5 .2,1.5 .1,1.5 .2,1.5 .2,2.1 .1,1.5 .2,1.5 .1,1.5 0,1.6 .1,1.5 .1,1.5 .1,1.6 .1,1.4 .1,1.5 .2,1.1 .3,1.3 .6,.8 .6,0 .6,0 .7,0 .6,0 .6,0 .6,0 .7,0 .6,0 .6,0 .7,0 .6,0 .7,0 .6,0 .6,0 .6,0 .6,0 .6,0 .6,0 .6,0 .6,0 .6,0 .6,0 .6,0 .6,0 .7,0 .6,0 .6,0 .6,0 .6,0 .7,0 .6,0 .6,0 .6,0 .7,0 .6,0 .6,0 .7,0 .6,0 .6,0 .7,0 .6,0 .7,0 .6,0 .6,0 .6,0 .6,0 .6,0 .6,0 .6,0 .6,0 .6,0 .6,0 .7,0 .6,0 .6,0 .6,0 .6,0 .6,0 .7,0 .6,0 .6,0 .6,0 .7,0 .6,0 .6,0 .7,0 .6,0 .6,0 .7,0 .6,0 .6,0 .7,0 .6,0 .7,0 .6,0 .6,0 .6,0 .6,0 .6,0 .6,0 .6,0 .7,0 .6,0 .6,0 .6,0 .6,0 .6,0 .6,0 .7,0 .6,0 .6,0 .6,0 .7,0 .6,0 .6,0 .6,0 .7,0 .6,0 .6,0 .7,0 .6,0 .7,0 .6,0 .6,0 .7,0 .6,0 .7,0 .6,0 .7,0 .6,0 .6,0 .6,0 .6,0 .6,0 .6,0 .6,0 .6,0 .6,0 .6,0 .7,0 .6,0 .6,0 .6,0 .6,0 .7,0 .6,0 .6,0 .6,0 .7,0 .6,0 .6,0 .6,0 .7,0 .6,0 .7,0 .6,0 .6,0 .7,0 .6,0 .7,0 .6,0 .6,0 .7,0 .6,0 .7,0 .6,0 .7,0 .6,0 .6,0 .6,0 .6,0 .6,0 .6,0 .6,0 .6,0 .7,0 .6,0 .6,0 .6,0 .6,0 .6,0 .7,0 .6,0 .6,0 .6,0 .6,0 .7,0 .6,0 .6,0 .7,0 .6,0 .6,0 .7,0 .6,0 .6,0 .7,0 .6,0 .6,0 .7,0 .6,0 .7,0 .6,0 .7,0 .6,0 .7,0 .6,0 .7,0 .6,0 .7,0 .6,0 .7,0 .6,0 .6,0 .6,0 .6,0 .6,0 .6,0 .6,0 .6,0 .7,0 .6,0 .6,0 .6,0 .6,0 .6,0 .6,0 .7,0 .6,0 .6,0 .6,0 .7,0 .6,0 .6,0 .6,0 .7,0 .6,0 .6,0 .7,0 .6,0 .6,0 .7,0 .6,0 .6,0 .7,0 .6,0 .7,0 .6,0 .7,0 .1,0" fill="none" stroke="#ff0000" stroke-width="7.0" stroke-linejoin="round" stroke-linecap="butt"/>
<path clip-path="url(#cc)" d="M321.7,1954.9l.9,0 .8,0 .8,0 .8,0 .9,0 .8,0 .8,0 .8,0 .8,0 .8,0 .8,0 .9,0 .8,0 .9,0 .8,0 .8,0 .9,0 .8,0 .8,0 .9,0 .8,0 .8,0 .8,0 .9,0 .8,0 .8-.4 .8-.4 .9-.5 .8-.4 .9-.3 .8-.2 .8,0 .8,0 .8-.1 .8,.1 .8,0 .9-.1 .8,.1 .8,0 .8-.1 .8,0 .8,.1 .9,0 .8,0 .8-.1 .8,.1 .8,0 .8,0 .9,0 .8-.1 .8,.1 .8-.1 .8,.1 .9-.1 .8,.1 .8,0 .8,0 .8,0 .9,0 .8-.1 .8,.1 .8,0 .9-.1 .8,0 .8,0 .8,0 .8,.1 .9,0 .8,0 .8,0 .8,0 .9,0 .8,0 .8,.1 .8-.1 .8-.1 .9,.1 .8-.1 .8,0 .8,0 .9,.1 .8,0 .8-.1 .8,.1 .9,0 .8-.1 .8,.1 .9,0 .8-.1 .8,0 .8,0 .9,.1 .8-.1 .8,.1 .8-.1 .9,.1 .8-.1 .8,0 .9,0 .8,0 .8,0 .8,0 .9,0 .8,0 .8,0 .9,0 .8,0 .8,.1 .8-.1 .9,0 .8,0 .8,0 .9,.1 .8-.1 .8,.1 .9,0 .8,0 .8-.1 .9,0 .8,0 .8,.1 .8-.1 .9,0 .8,0 .8,0 .9,0 .8,.1 .8,0 .9-.1 .8-.1 .8,.1 .9,0 .8,0 .8,0 .9,0 .8,0 .8,0 .9,0 .8,.1 .9-.1 .8,0 .8,0 .9,.1 .8-.1 .8,0 .9-.1 .8,.1 .8,.1 .9,0 .8-.1 .8,0 .9-.1 .8,.1 .9,0 .8,0 .8,0 .9,0 .8-.1 .8,.1 .9,0 .8,.1 .9-.2 .8,0 .8,.1 .9-.1 .8,0 .9,.1 .8-.1 .8,0 .9,.1 .8,0 .9-.1 .8,.1 .8,0 .9,0 .8,0 .9,0 .8,0 .8-.1 .9,.1 .8,0 .9,0 .8-.1 .8,0 .9,0 .8,0 .9,.1 .8-.1 .8,0 .9,.1 .8-.1 .9,0 .8,0 .9,.1 .8-.1 .8,.1 .9,0 .8,0 .9,0 .8-.1 .9,.2 .8-.1 .9,0 .8-.1 .8,0 .9,0 .8,0 .9,0 .8,0 .9,0 .8,0 .9,0 .8,0 .8,0 .9,.1 .8-.1 .9,0 .8,.1 .9,0 .8,0 .9,0 .8-.1 .9,.1 .8-.1 .8,0 .9,.1 .8,0 .9,0 .8,0 .9,0 .8,0 .9,0 .8,0 .9,0 .8-.1 .9,0 .8,0 .9,0 .8,0 .9,0 .8,.1 .9-.1 .8,0 .9,0 .8,0 .9,.1 .8-.1 .8,.1 .9-.1 .8,.1 .9-.2 .8,.1 .9,0 .8,.1 .9,0 .8-.1 .8,0 .8,0 .8,0 .8,0 .8,0 .8,0 .8,0 .8,.1 .9,0 .8,0 .8-.1 .8,.1 .8,.1 .8-.2 .8,.1 .8-.1 .8,0 .8,0 .8,.1 .8-.1 .8,0 .8,0 .8,0 .8,0 .8,0 .8,0 .8,0 .8,0 .8,0 .8,0 .8-.1 .8,.1 .8,0 .8,0 .8,.1 .8,0 .8-.1 .8,.1 .8,0 .8-.1 .8,.1 .8,0 .8-.1 .8,0 .8,0 .8,0 .8,0 .8,.1 .8-.1 .9,.1 .8,0 .8,0 .8-.1 .8,0 .8,.1 .8-.1 .8,0 .8,.1 .8-.1 .8,0 .8,0 .8,0 .8,0 .8,0 .8,0 .8,0 .8,0 .8,0 .8,0 .8,0 .9,.1 .8-.1 .8,0 .8,.1 .8-.1 .8,.1 .8,0 .8-.1 .8,0 .8,.1 .8-.1 .8,0 .8,0 .8,0 .8,.1 .8-.1 .9,0 .8,0 .8,0 .8,.1 .8-.2 .8,.1 .8,0 .8-.1 .8,.1 .8,0 .8,.1 .8,0 .8-.1 .8,.1 .8-.1 .9,0 .8,.1 .8-.1 .8,0 .8-.1 .8,.2 .8,0 .8-.1 .8,.1 .8-.1 .8,0 .8-.1 .8,.1 .9,0 .8,0 .8,0 .8-.1 .8,.1 .8,0 .8,0 .8,0 .8,0 .8,.1 .8-.1 .8,0 .9,0 .8,.1 .8-.1 .8,0 .8,0 .8,0 .8,0 .8,0 .8,0 .8,0 .8-.1 .8,.1 .9,0 .8,0 .8,0 .8,0 .8,0 .8,0 .8,.1 .8-.1 .8,0 .8,0 .9,0 .8,0 .8,0 .8,0 .8,0 .8,0 .8,0 .8,0 .8,0 .8-.1 .8,.1 .9,0 .8,0 .8-.1 .8,.1 .8,.1 .8-.1 .8,0 .8,0 .8-.1 .8,.1 .9,0 .8-.1 .8,.1 .8,0 .8,0 .8,0 .8,0 .8,.1 .8-.1 .8,0 .9,0 .8,.1 .8-.2 .8,.1 .8,0 .8-.1 .8,0 .8,.1 .8,0 .8,0 .9-.1 .8,.1 .8,0 .8-.1 .8,.1 .8,0 .8,0 .8-.1 .8,.1 .9,0 .8,0 .8,0 .8,0 .8,0 .8,.1 .8-.1 .8,0 .8,0 .8,0 .9,0 .8-.1 .8,0 .8,.1 .8,0 .8,0 .8-.1 .8,.1 .8,0 .9-.1 .8,0 .8,0 .8,.1 .8,0 .8-.1 .8,.1 .8-.1 .8,0 .9,.2 .8-.2 .8,.1 .8-.1 .8,.1 .8,0 .8,0 .8,0 .8-.1 .8,.2 .9-.1 .8,0 .8-.1 .8,0 .8,.1 .8,0 .8,0 .8-.1 .8,.1 .9,0 .8,0 .8-.1 .8,.1 .8-.1 .8,.1 .8-.1 .8,.1 .8,0 .9,0 .8,0 .8,0 .8-.1 .8,.1 .8,0 .8,0 .8-.1 .8,.1 .9-.1 .8,.1 .8,0 .8,0 .8-.1 .8,.1 .8,0 .8-.1 .8,.1 .8-.1 .9,.1 .8,0 .8,0 .8-.1 .8,.1 .8,0 .8,.1 .8-.1 .8,0 .9,0 .8,0 .8,0 .8,0 .8,0 .8,0 .8,0 .8,0 .8,0 .8,.1 .9-.1 .8,0 .8,0 .8-.1 .8,.1 .8,0 .8-.1 .8,.1 .8,0 .9,0 .8,0 .8-.1 .8,.1 .8,0 .8-.1 .8,.1 .8,0 .8-.1 .8,.2 .8-.1 .9,0 .8,0 .8,0 .8,0 .8,0 .8,0 .8-.1 .8,0 .8,.1 .8,0 .9,0 .8,0 .8,0 .8,0 .8,0 .8,0 .8,0 .8-.1 .8,.1 .8,0 .8,0 .9,0 .8,0 .8-.1 .8,.1 .8,0 .8,0 .8,0 .8,0 .8,0 .8-.1 .8,0 .9,.1 .8-.1 .8,0 .8,.1 .8,0 .8,0 .8,0 .8,0 .8,0 .8,0 .8-.1 .8,.1 .9,0 .8-.1 .8,.1 .8,0 .8,0 .8,0 .8,0 .8,0 .8,0 .8,0 .8-.1 .8,.1 .9,0 .8,0 .8-.1 .8,.1 .8,0 .8,0 .8,0 .8-.1 .8,.1 .8,0 .8,0 .8,0 .8,0 .8,0 .9,0 .8,0 .8,0 .8,0 .8,0 .8,0 .8,0 .8,0 .8,0 .8,0 .8,0 .8,0 .8,0 .8-.1 .8,.2 .9-.1 .8,0 .8,0 .8,0 .8,0 .8,0 .8,0 .8,0 .8-.1 .8,.2 .8-.2 .8,.3 .8-.2 .8,0 .8,0 .8,0 .8,0 .8-.1 .8,0 .9,0 .8,.1 .8,0 .8,0 .8,0 .8,0 .8,0 .8-.1 .8,0 .8,.1 .8,0 .8,0 .8,0 .8,0 .8,0 .8,0 .8-.1 .8,.1 .8-.1 .8,.1 .8,0 .8,0 .8,0 .8,0 .8,0 .9,0 .8,0 .8-.1 .8,.1 .8,0 .8,0 .8,0 .8-.1 .8,.1 .8-.1 .8,0 .8,.1 .8,0 .8,0 .8,0 .8,0 .8,0 .8-.1 .8,.1 .8,0 .8,0 .8,0 .8,0 .8,0 .8-.1 .8,0 .8,.1 .8-.1 .8,.1 .8,0 .8-.1 .8,.1 .8-.1 .8,0 .8,0 .8,0 .8,.1 .8-.1 .8,.1 .8,0 .8,0 .8,0 .8,0 .8,0 .8,0 .8,0 .8,0 .8,0 .8,0 .8,0 .8-.1 .8,0 .8,0 .8,.1 .8-.1 .8,.1 .8-.1 .8,.1 .8,0 .8,0 .8-.1 .8,.1 .8,0 .8,0 .8-.1 .8,.1 .8,0 .8-.1 .8,.1 .8-.1 .8,.1 .8-.1 .8,.1 .8,0 .8-.1 .8,.1 .8,0 .8,0 .8,0 .8,0 .8-.1 .8,0 .8,.1 .8-.1 .8,0 .8,.1 .8,0 .8,0 .8,0 .8,0 .8-.1 .8,.1 .8,0 .8,0 .8,0 .8,.1 .8-.1 .8,0 .8,0 .8,0 .8-.1 .8,.1 .8,0 .8,0 .8,0 .8-.1 .8,.1 .8,0 .8,0 .8,.1 .8-.1 .8-.1 .8,.1 .8,0 .8-.1 .8,.1 .8-.1 .8,.1 .8,0 .8-.1 .8,.1 .8,0 .8,0 .8,0 .8,0 .8,0 .8,0 .8,.1 .8-.2 .8,0 .8,0 .8,0 .8,0 .8,0 .8,.1 .8,0 .8-.1 .8,.2 .8-.1 .8-.1 .8,.1 .8,0 .8,0 .8,0 .8,0 .8,0 .8,0 .8,0 .8-.1 .8,.1 .8-.1 .8,.1 .8,0 .8,0 .8-.1 .8,0 .8,.1 .8,0 .8-.1 .8,.1 .8,.1 .8-.1 .8-.1 .8,0 .8,0 .8,0 .8,.1 .8,0 .8,0 .8-.1 .8,0 .8,.1 .8,0 .8,0 .8,0 .8,.1 .8-.1 .8,0 .8,0 .8,0 .8,0 .8,0 .8,0 .8,0 .8-.1 .8,.1 .8,0 .8-.1 .8,0 .8,0 .8,0 .8,.1 .8,0 .8-.1 .8,.1 .8,0 .8,0 .8,0 .8-.1 .8,0 .8,.1 .8,0 .8,0 .8,0 .8,0 .8,0 .8,0 .8,0 .8-.1 .8,.1 .8,0 .8-.1 .8,.1 .8,0 .8,0 .8-.1 .8,.1 .8,.1 .8-.1 .8,0 .8,0 .8,0 .8,0 .8,0 .8-.1 .8,.1 .8,0 .8,0 .8,0 .8-.1 .8,.1 .8,0 .8-.1 .8,.1 .8,0 .8-.1 .8,.1 .8,0 .8-.1 .8,0 .8,.1 .8-.1 .8,0 .8,0 .8,0 .8,.1 .8,0 .8,0 .8-.1 .8,.1 .8-.1 .8,0 .8,.1 .8-.1 .8,.1 .8-.1 .8,.1 .8,0 .8,0 .8,0 .8-.1 .8,.1 .8-.1 .8,0 .8,.1 .8,0 .8,0 .8-.1 .8,.1 .8,0 .8-.1 .8,.1 .8-.1 .8,.1 .8,0 .8-.1 .8,0 .8,0 .8,.1 .8,0 .8,0 .8,0 .8,0 .8,0 .8-.1 .8,.1 .8,0 .8,0 .8,0 .8,0 .8-.1 .8,.1 .8-.1 .8,.1 .8,0 .8,0 .8,0 .8,0 .8-.1 .8,.1 .8,0 .8,0 .8,0 .8,0 .8-.1 .8,.1 .8,0 .8,0 .8,0 .8-.1 .8,0 .8,0 .8,0 .8,.1 .8,0 .8-.1 .8,0 .8,.1 .8,0 .8-.1 .8,.1 .8-.1 .8,.1 .8,0 .8,0 .8-.1 .8,.1 .8-.1 .8,.1 .8,0 .8,0 .8,0 .8,0 .8,0 .8,0 .8,0 .8,0 .8,0 .8,0 .8-.1 .8,.1 .8-.1 .8,.1 .8-.1 .8,.1 .8,0 .8,0 .8,0 .8,0 .8,0 .8-.1 .8,.1 .8,0 .8,0 .8,0 .8-.1 .8,.1 .8,0 .8,0 .8,0 .8,0 .8,.1 .8-.1 .8-.1 .8,.1 .8-.2 .8,.2 .8,0 .8,0 .8-.1 .8,.1 .8,.1 .8-.2 .8,.1 .8,0 .8,0 .8,0 .8,0 .8,0 .8,0 .8-.1 .8,.1 .8-.1 .8,.1 .8,0 .8,0 .8-.1 .8,.1 .8,0 .8,0 .8,0 .8,0 .8,0 .8-.1 .8,.1 .8,0 .8,0 .8,0 .9,0 .8,0 .9,0 .8,0 .9,0 .8,0 .9-.1 .8,.2 .9-.1 .8,0 .9-.1 .8,.1 .9-.1 .8,.1 .9-.1 .8,0 .9,.1 .8,0 .9-.1 .8,.1 .9,0 .8,0 .9,0 .8-.1 .9,0 .8,0 .9-.1 .8,0 .9,.1 .8,.1 .9,0 .8-.1 .9,0 .8,0 .9,.1 .8,0 .9,0 .8,0 .9-.1 .8,0 .9,.1 .8-.1 .9,0 .8,.1 .9,0 .8,0 .9,0 .8,0 .9,0 .8,0 .9,0 .8,0 .9-.1 .8,.1 .9,0 .8,0 .9,.1 .8-.1 .9,0 .8,0 .9,0 .8,0 .9,0 .8,.1 .9-.1 .8,.1 .9-.1 .8,.1 .9,0 .8,0 .9,.1 .8-.1 .9,0 .8,0 .9,.1 .8,0 .9-.1 .8,0 .9,.1 .8,0 .9,0 .8,0 .9,.1 .8,0 .9-.1 .8,.1 .9,0 .8,0 .9,0 .8,0 .9,0 .8,0 .9,0 .8,.1 .9,0 .8,0 .9,0 .8,0 .9,0 .8,.1 .9,0 .8,0 .9,0 .8,0 .9,.1 .8-.1 .9,.1 .8-.1 .9,.1 .8-.1 .9,.1 .8,0 .9,0 .8,0 .9,.1 .8,0 .9,0 .8-.1 .9,.2 .8-.1 .9,.1 .8,0 .9-.1 .8,.1 .9,0 .8,0 .9,0 .8,.1 .9,0 .8,0 .9-.1 .8,.1 .9,0 .8,0 .9,0 .8,.1 .9-.1 .8,0 .9,.1 .8,0 .9,0 .8,.1 .9,0 .8,0 .9,0 .8,0 .9,0 .8,0 .9,0 .8,0 .9,.1 .8,0 .9,0 .8,0 .9,0 .8,0 .9,0 .8,0 .9,.1 .8,0 .9-.1 .8,.1 .9,0 .8,0 .9,0 .8,.1 .9-.1 .8,0 .9,0 .8,0 .9,.1 .8,0 .9,0 .8,0 .9,0 .8,0 .9,0 .8,0 .9,0 .8,0 .9,0 .8,.1 .9,0 .8,0 .9-.1 .8,.1 .9,0 .8,0 .9,0 .8,0 .9,0 .8,0 .9,0 .8,0 .9,0 .8,0 .9,0 .8,0 .9,0 .8,0 .9-.1 .8,.1 .9,0 .8,0 .9-.1 .8,0 .9,0 .8,.1 .9-.1 .8,0 .9,0 .8,0 .9,0 .8-.1 .9,0 .8,0 .9,0 .8,0 .9-.1 .8,.1 .9-.1 .8,0 .9,0 .8,0 .9,0 .8-.1 .9,0 .8,0 .9,0 .8,0 .9-.1 .8,0 .9,0 .8-.1 .9,0 .8,0 .9,0 .8,0 .8,0 .9-.1 .8-.1 .9,.1 .8-.1 .9,0 .8,0 .9,0 .8-.1 .9,0 .8,0 .9-.1 .8,0 .9,0 .8,0 .9-.1 .8,0 .9-.1 .8,.1 .9,0 .8-.1 .9,0 .8-.1 .9,0 .8,0 .9-.1 .8,0 .9,0 .8-.2 .9,.1 .8,0 .9-.1 .8,0 .9,0 .8-.1 .9,0 .8,0 .9-.1 .8,0 .9,0 .8-.1 .9,.1 .8-.1 .9-.1 .8,0 .9-.1 .8,.1 .9,0 .8-.2 .9-.1 .8,.1 .9-.1 .8,0 .9-.1 .8-.1 .9,0 .8-.1 .9-.1 .8,.1 .9,0 .8-.1 .9-.1 .8,0 .9-.2 .8,.1 .9,0 .8-.1 .9-.1 .8,0 .9,.1 .8-.2 .8,0 .9-.2 .8,.1 .9-.1 .8,0 .9-.1 .8,0 .9,0 .8-.1 .9-.1 .8,0 .9-.1 .8,0 .9-.1 .8-.1 .9-.1 .8,0 .9,0 .8-.1 .9-.1 .8-.1 .9,0 .8,0 .9,0 .8-.1 .9-.1 .8,0 .8-.1 .9-.3 .8,0 .9-.1 .8-.1 .9,.1 .8-.1 .9,0 .8-.2 .9,0 .8-.1 .9-.2 .8,.2 .9-.2 .8-.1 .8-.1 .9-.1 .8,0 .9-.1 .8-.2 .9-.1 .8,.2 .9-.4 .8-.1 .9-.1 .8,0 .8-.2 .9,.1 .8-.1 .9-.2 .8,0 .9-.3 .8,.1 .8-.2 .9-.1 .8-.2 .9-.1 .8-.1 .9,0 .8-.2 .8-.2 .9-.1 .8,0 .9-.2 .8-.2 .9-.1 .8,0 .9-.3 .8-.1 .8-.1 .9-.1 .8-.2 .9-.1 .8-.1 .8-.2 .8-.2 .8-.3 .9-.1 .8-.1 .8-.4 .8-.2 .8-.3 .8-.5 .8-.2 .9-.2 .8-.5 .9-.2 .8-.5 .8-.2 .8-.6 .8-.5 .8-.1 .9-.7 .8-.4 .8-.6 .8-.5 .8-.2 .9-.7 .8-.5 .8-.8 .8-.7 .8-.7 .9-.8 .8-.4 .8-.4 .8,.1 .9,.7 .8,.5 .8,.8 .8,1.2 .8,.9 .9,.3 .8,.7 .8,.4 .9,.4 .8,.3 .8,.5 .8,.4 .8,.6 .9,.1 .8,.4 .8,.2 .8,.1 .8,.2 .9,.2 .8,.2 .9,.2 .8,.1 .9,.2 .8,.3 .8-.1 .8,0 .9,0 .8,.2 .8-.1 .9,0 .8,0 .9-.1 .8-.1 .8,.2 .8-.2 .8,.3 .8-.2 .8,0 .8,.1 .8-.1 .8,.2 .8-.2 .9,.1 .8,0 .8,.2 .8-.1 .8,.1 .8-.1 .8-.3 .8,.2 .8-.1 .8,0 .8,0 .8,.1 .8-.4 .8,.2 .8-.1 .8-.2 .8,.1 .8,0 .9,0 .8-.1 .9-.1 .8,.1 .9-.1 .8,.3 .8-.3 .8,.4 .9,0 .8,.3 .8,.4 .8,.3 .9,.5 .8,1 .8,1.4 .6,1.1 .3,1.7 .3,2 .2,2 .2,1.5 .3,.8 .4,0 .5,0 .6,0 .5,0 .7,0 .7,0 .8,0 .8,0 .8,0 .8,0 .8,0 .9,0 .8,0 .8,0 .8,0 .9,0 .8,0 .8,0 .8,0 .8-.1 .9,.1 .8-.1 .8,.1 .9,0 .8,0 .8,0 .8,0 .9,0 .8,0 .8,0 .9,0 .8,0 .8,0 .8,0 .9-.1 .8,.1 .9,0 .8,0 .8,0 .8,0 .9-.1 .8,.1 .9,0 .8,0 .8,0 .8,0 .9,0 .8,0 .9,0 .8,0 .9,0 .8,0 .8,0 .8,0 .8,0 .9,0 .8,0 .8,0 .9,0 .9,0 .8,0 .9,0 .8,0 .8,0 .8,0 .9,0 .8,0 .8,0 .8,0 .9,0 .8,0 .3,0" fill="none" stroke="#0000ff" stroke-width="6.3" stroke-linejoin="round" stroke-linecap="butt"/>
<path clip-path="url(#cc)" d="M321.7,1954.9l.7,0 .6,0 .6,0 .6,0 .6,0 .7,0 .6,0 .7,0 .6,0 .6,0 .6,0 .7,0 .6,0 .6,0 .7,0 .6,0 .6,0 .6,0 .7,0 .6,0 .6,0 .6-.1 .6,0 .7-.1 .6,0 .6-.1 .6-.1 .6-.1 .7-.1 .6-.4 .6-.7 .6-.5 .6-1.1 .6-1.6 .6-.9 .6-1.9 .7-1.1 .6-1.9 .5-1 .6-1.4 .5-1.6 .5-1.8 .4-.6 .4-1.3 .4-1.5 .4-1.9 .4-1.4 .3-2.1 .2-1.5 .2,.3 .2-1.5 .2-1.6 .2-2.6 .2-1.6 .1-1.6 .2-1.7 .3-1.5 .2-1.4 .3-1.5 .4-1.3 .4-.1 .6-2.7 .6,.2 .6-1.7 .7,1.4 .6-2 .6-.5 .6,.9 .7-.3 .6,.1 .6-.4 .6-1.4 .6,.9 .6,0 .7-.5 .6,.7 .6-.5 .6-.7 .6,.4 .6-1.8 .7,.2 .6-1.3 .6,.8 .6-2.6 .6-1.1 .6-.1 .6-1.6 .6-2.5 .6-.3 .7-.2 .6-2.3 .6-2.2 .6,.1 .6-1.8 .6-.6 .6,.9 .6-1.1 .7,0 .6-2.8 .6-.2 .6-1.6 .6,1.3 .6-2.6 .6-.8 .6-.9 .6,1 .6-1 .7-1 .6,.4 .6-2 .6-1.8 .6,2.1 .7-3.8 .6-.8 .6,1.1 .6-2.3 .6-.7 .6-2 .6-1.2 .6,.4 .7-1.8 .6-.2 .6-2.4 .6-.5 .6-.4 .6-2.9 .6-.8 .6,1.2 .7-3.1 .6,2 .6-2.9 .6-1.4 .6-2.3 .6-.7 .6-1.6 .6-3.2 .6-.3 .6-1.2 .6,0 .6-2.7 .5-4.2 .6,2 .6-2 .5-1.4 .5-.4 .5-1.8 .6-3.4 .5-1.7 .5-.3 .4-1.8 .5-1.4 .5-.3 .5-2.1 .4-.9 .5-1.4 .4-.5 .5-2.5 .4-1.8 .4-1.4 .5,0 .4-.9 .4-1.9 .4-1.5 .4-4.4 .4,.9 .4-1.4 .4-2 .5,.3 .4-1.4 .4-6.6 .4,2.2 .4-1.5 .4-1.3 .4-.8 .3-1.5 .4-2.6 .4-1.5 .4-1.5 .3-.7 .4-1.5 .3-3.9 .3-1.5 .3,1.1 .3-1.5 .3-4.2 .2-1.5 .3-.3 .3-1.4 .2,1.2 .2-1.5 .3-1.4 .2-2.2 .3-1.5 .2-1.5 .2-1.5 .2-1.4 .2-.3 .2-1.5 .2-1.5 .2-2.6 .2-1.5 .2-1.5 .2-1.5 .2-1.6 .1-1.5 .2-1.5 .2-3.4 .1-1.5 .2-1.5 .1-1.5 .1-1.3 .2-1.5 .1-1.5 .1-1.5 .2-1.5 .1,2.2 .1-1.5 .1-1.5 .1-1.5 .1-1.5 .2-5.3 .1-1.5 .1-1.5 .1-1.5 .1-1.5 .1-1.5 .1,1.6 .1-1.5 .1-1.5 .1-1.5 0-1.4 .1-1.5 .1-2.6 .1-1.5 .1-1.5 .1-1.5 .1-1.4 .1-1.5 0-1.5 .1,.8 .1-1.5 .1-1.5 .1-1.5 .1-1.5 0-1.5 .1-1.5 .1-6 .1-1.5 .1-1.5 0-1.5 .1-1.5 .1-1.5 .1-1.5 0-1.5 .1,2.1 .1-1.5 .1-1.5 0-1.5 .1-1.5 .1-1.4 0-1.5 .1-1.5 .1-1.5 0-4.9 .1-1.5 .1-1.5 .1-1.5 0-1.5 .1-1.5 0-1.5 .1-1.5 .1-1.5 0-1.1 .1-1.5 .1-1.5 0-1.5 .1-1.5 .1-1.5 0-1.5 .1-1.5 .1-1.5 0,3 .1-1.5 0-1.5 .1-1.5 .1-1.4 0-1.5 .1-1.5 .1-1.5 0-1.5 .1-1.5 0-1.7 .1-1.5 0-1.5 .1-1.5 .1-1.5 0-1.5 .1-1.5 0-1.4 .1-1.5 0-1.5 .1-4.7 .1-1.5 0-1.5 .1-1.5 0-1.5 .1-1.5 .1-1.5 0-1.5 .1-1.5 0-1.5 .1,1.3 .1-1.5 0-1.4 .1-1.5 .1-1.5 0-1.5 .1-1.5 0-1.5 .1-1.5 .1-1.5 0-3.6 .1-1.5 .1-1.5 0-1.5 .1-1.5 0-1.4 .1-1.5 .1-1.5 0-1.5 .1-1.5 0-3 .1-1.5 .1-1.5 0-1.5 .1-1.5 .1-1.5 .1-1.5 0-1.5 .1,1.1 .1-1.5 .1-1.5 0-1.5 .1-1.4 .1-1.5 .1-1.5 .1-1.5 .1-7 .1-1.5 .1-1.5 .1-1.7 .1-1.7 .1-1.8 .1-1.9 .2-2 .1-2 .1-2 .2-5.7 .1-2 .2-1.9 .2-1.8 .1,5.9 .2-1.5 .1-1.4 .2-1.2 .1-3.7 .2-.8 .1-.5 .1-.3 .2,1.1 .1,.3 .1,.6 .2,.8 .1,2.3 .1,1.2 .2,1.4 .1,1.6 .1,1.7 .2,1.6 .1,1.9 .1,2 .1,2 .2,1.9 .1,3.6 .1,2 .1,1.8 .1,1.9 .1,1.7 .1,0 .1,1.5 .1,1.5 .1,1.5 .1,1.5 .1,1.5 .1,1.5 .1,4.5 0,1.5 .1,1.5 .1,1.5 .1,1.5 .1,1.5 0,1.4 .1-5.6 .1,1.5 .1,1.5 .1,1.6 0,1.5 .1,1.5 .1,1.5 0,1.5 .1,7.8 .1,1.5 .1,1.5 0,1.5 .1,1.5 .1,1.5 .1,1.5 0,1.5 .1,1.7 .1,1.4 .1,1.5 0,1.5 .1,1.5 .1,1.5 .1,1.5 .1,1.5 0-1.7 .1,1.5 .1,1.5 .1,1.5 0,1.5 .1,1.5 .1,1.5 .1,1.5 0,5.7 .1,1.5 .1,1.5 .1,1.5 0,1.5 .1,1.4 .1,1.5 .1,1.5 .1-2.3 0,1.5 .1,1.5 .1,1.5 .1,1.5 .1,1.5 .1,1.5 .1,6.8 0,1.5 .1,1.5 .1,1.5 .1,1.5 .1,1.4 .1-.3 .1,1.5 .1,1.5 .1,1.5 .1,1.5 .1,1.5 .1-.5 .1,1.5 .1,1.5 .2,1.5 .1,1.5 .1,1.5 .1,.7 .1,1.5 .1,1.5 .2,1.5 .1,2.5 .1,1.5 .2,1.5 .1,1.5 .2,1.5 .1,.9 .2,1.5 .1,1.5 .2,1.5 .2,1 .1,1.4 .2,1.5 .2,2.2 .2,1.5 .2,1.5 .2,3.4 .2,1.5 .2,1.5 .3-1.4 .2,1.5 .3,.2 .3,1.5 .3,7.1 .3,1.5 .3-2.1 .4,1.4 .3,2.3 .4-.1 .5,1.4 .4,.4 .6,4.4 .6,1.7 .6-2.1 .6,.5 .7,2.5 .6,1.2 .6-.7 .6,3.4 .6-.7 .6-1.6 .6,2 .7,1 .6,.5 .6-.8 .6,2.5 .7-2.6 .6,2.9 .6-2.3 .7,.7 .6-1.3 .6,.2 .6,.3 .6,3.6 .6-.5 .7-1.7 .6,1.2 .6-.6 .6,3.9 .7-2.9 .6,2 .6,.9 .6,.7 .6,1.2 .7-2.1 .6-2.2 .6,4.3 .6,.5 .6-4 .6,3.4 .6,1.1 .6-.9 .6,1 .7-2.1 .6,1.3 .7-.1 .6,5.4 .6-3.1 .7-.6 .6,2.2 .6,.5 .7-.3 .6-1.2 .7,.8 .6-.6 .6-.1 .7,4.1 .6-1.2 .6,2.2 .6-.7 .6,.1 .6,.2 .6,1 .6,3.7 .7-1.9 .6-2 .6,3.8 .6-2.5 .6-1.2 .7-.7 .6,.7 .6,4.6 .6,.6 .6-2.7 .6,1.8 .6-1.6 .6,4.3 .6-.6 .6-1 .6-.6 .7,2.2 .6,.7 .6-1.1 .6,.7 .7,2.1 .6-1.1 .7-2.2 .6,4.5 .6-2.1 .6-2.9 .6,5.5 .7,.8 .6-1.7 .7-1.5 .6-.7 .6,1.3 .6-2.6 .6,4.6 .7,.1 .6,2.2 .6-1.4 .7,1.3 .6-1.7 .6,1.3 .6-1.6 .7-2.6 .6,1.8 .6-2.7 .6,.3 .6,1.2 .6-2.2 .7-.9 .6,3.1 .6-1.9 .7-.5 .6,.1 .6-3.3 .6,2.1 .6-2.3 .7,1.7 .6-.6 .6-.9 .6,2.1 .6-2.8 .7,.1 .6-1.1 .6-.2 .6,1.1 .6-2.4 .6-1.5 .7-.6 .6-.4 .6,1.9 .7-3.9 .6-1.8 .6-3 .6,3.9 .6,.1 .6-.9 .7,0 .6,.1 .6-1.5 .6,1.3 .7-1.7 .6,1.4 .6,4.9 .6-3.1 .6-.4 .6-.2 .7,.6 .6,2.6 .6-3.5 .6,1.8 .6-.2 .6,2.8 .6-.8 .7-1.8 .6,2.7 .6,1.4 .7-2.9 .6,4 .6-4.8 .6,.6 .7-.3 .6,4.6 .6-1.4 .6,2.3 .6-6 .6,6.3 .7-.8 .6,2.7 .6-1.9 .6-3.6 .6,5.3 .7-3 .6,1.8 .6-4.2 .7,2 .6,.6 .6-.3 .6-.9 .6-4 .7,1 .6,.7 .6-4.3 .6,5.6 .6-5 .6,2.3 .7-3.7 .6,5.3 .6-1.5 .6-7.1 .6-.6 .6,2.9 .7-4.4 .6,1.8 .6,1.3 .6-4.6 .6-.1 .6-.8 .6,.1 .6,.6 .7-1.6 .6-4.6 .6-.7 .6,1.6 .6,.8 .6-4.7 .6-1.9 .7-.4 .6-1.4 .6-.5 .6-2 .6-.3 .6-2.7 .6,2.2 .7-1.1 .6-1.3 .6-1.2 .6-1.8 .6-1.6 .7,2.4 .6-1.3 .6-.5 .6-.3 .6,3 .7,.9 .6-1.7 .6-2.9 .6,1.4 .6-1.3 .6,1.2 .7,.6 .6-2.7 .6,3 .7,1.2 .6,1.3 .6-.1 .6,.1 .7-.3 .6,2.8 .6-3.3 .6-.4 .6,.8 .6-1.2 .6-2.8 .6,2.9 .6-.3 .6-3 .6-1.7 .7-1.1 .6-.2 .6-5.2 .6,.5 .6,.5 .5-5.2 .6,1.6 .5-6.6 .5,4.3 .5,.1 .5-3.1 .5-1.4 .4-2.1 .5-4.4 .4-1.5 .4-1.4 .4-1.6 .4-1.5 .3,1.7 .3-3 .3-1.4 .3,1.2 .3-1.5 .3-4.2 .3-1.5 .3-1.5 .2,.6 .3-1.5 .2-2.1 .3-1.5 .2-1.5 .2-2.5 .2-1.5 .3-2.4 .2-1.5 .2-1.5 .2,1.2 .2-1.5 .1-1.5 .2-8.2 .2-1.5 .2-1.5 .1-1.5 .2,8.8 .1-1.5 .2-1.5 .1-1.4 .2-7.8 .1-1.5 .1-1.5 .2-1.5 .1,.7 .1-1.5 .2-1.5 .1-1.5 .1-1.4 .1,1.8 .1-1.5 .2-1.5 .1-1.5 .1-1.5 .1-1.5 .1-8.9 .1-1.5 .1-1.5 .1-1.5 .1-1.5 .1-.6 .1-1.5 .1-1.5 .1-1.5 .1-1.5 .1-1.5 .1-1.6 .1,3.1 .1-1.5 .1-1.5 .1-1.5 .1-1.5 .1-1.5 0-6.9 .1-1.5 .1-1.5 .1-1.5 .1-1.5 .1-1.5 .1,1.2 .1-1.5 .1-1.5 .1-1.5 0-1.5 .1-1.5 .1-1.5 .1-1.4 .1-1.8 .1-1.5 0-1.5 .1-1.5 .1-1.5 .1-1.5 0-1.5 .1-.2 .1-1.5 .1-1.5 .1-1.5 0-1.5 .1-1.5 .1-1.5 .1-1.5 0-2.7 .1-1.5 .1-1.5 .1-1.5 .1-1.5 0-1.5 .1-1.5 .1-1.5 .1,.7 .1-1.5 0-1.5 .1-1.5 .1-1.5 .1-1.5 .1-1.5 .1-5.1 0-1.5 .1-1.5 .1-1.5 .1-1.5 .1-1.5 .1,.2 .1-1.5 .1-1.5 .1-1.4 .1-1.5 .1-1.5 0-1.5 .1-4.9 .1-1.5 .1-1.5 .1-1.5 .1-1.5 .1-1.5 .1,3.4 .1-1.5 .1-1.5 .1-1.4 .1-1.5 .1-1.5 .1-1.5 .1-7.7 .1-1.5 .1-1.5 .1-1.5 .1-1.5 .1-1.5 .1,4.4 .1-1.5 .1-1.5 .1-1.5 .1-1.5 .1-4.3 .1-1.5 .1-1.5 .2-1.5 .1-1.5 .1-1.5 .1,4.2 .1-1.5 .1-1.5 .1-1.5 .1-1.5 .1-4.7 .1-1.5 .1-1.5 .1-1.5 .1-1.5 .1-1.5 .1-1.6 .1-1.2 .1-1.6 .1-1.5 .1-1.5 .1-1.5 .2-4.3 .1-1.5 .1-1.5 .2-1.5 .2,1.2 .1-1.4 .2-1.5 .2,.1 .3-1.4 .2-1.5 .3-2.4 .4,1.8 .6-6.4 .6,4.4 .6-10.2 .6,2.7 .7,1.8 .6,.9 .6,3.6 .6-.7 .5,1.8 .5-.6 .3,4.1 .3,1.6 .2-1 .2,1.5 .2,1.4 .2,4.8 .2,1.5 .1,1.4 .2,1.5 .1,2.2 .2,1.5 .1,1.5 .1,1.5 .1-9.1 .1,1.6 .1,1.5 .1,1.5 .1,1.5 .1,1.6 .1,13.7 .1,1.5 .1,1.5 .1,1.5 .1,1.5 .1,1.5 .1,1.5 .1-3.1 .1,1.5 .1,1.5 .1,1.5 .1,1.5 .1,1.5 .1,3.4 .1,1.5 .1,1.5 0,1.5 .1,1.5 .1,1.5 .1,2.4 .1,1.5 .1,1.5 .1,1.5 .1,1.5 0,1.5 .1,1.5 .1,.7 .1,1.5 .1,1.5 .1,1.5 0,1.5 .1,1.5 .1,1.5 .1,1.5 .1,4.2 .1,1.5 0,1.5 .1,1.5 .1,1.5 .1,1.5 .1,1.5 .1,2.3 0,1.4 .1,1.5 .1,1.5 .1,1.5 .1,1.5 .1,1.5 .1-8.8 .1,1.5 .1,1.5 .1,1.5 .1,1.6 .1,1.5 .1,14.5 .1,1.5 .1,1.5 .1,1.5 .1,1.5 .1-5.3 .1,1.5 .1,1.5 .1,1.5 .2,1.4 .1,1.5 .1,2.7 .1,1.5 .1,1.5 .1,1.5 .1,1.5 .1,.6 .2,1.5 .1,1.5 .1,1.5 .1,1.5 .1-.3 .1,1.5 .1,1.5 .1,1.5 .2,1.5 .1,1.5 .1,3.2 .1,1.5 .1,1.5 .1,1.5 .1,1.5 .1,2 .1,1.5 .1,1.5 .1,1.5 .1,1.5 .1,1.5 .1,1.8 .1,1.5 .1,1.5 .1,1.5 .1,1.5 .1,1.5 .1,1.5 .1,3.4 .1,1.5 .1,1.5 .1,1.5 0,1.5 .1,1.5 .1,.6 .1,1.5 .1,1.5 .1,1.5 .1,1.4 .1,1.5 0,1.5 .1-1.4 .1,1.5 .1,1.5 .1,1.5 .1,1.5 .1,1.5 .1,1.5 .1,6.1 .1,1.5 .1,1.5 .1,1.5 .1,1.5 .1,1.5 .1-.1 .1,1.5 .1,1.5 .1,1.5 .1,1.5 .1-1.2 .1,1.5 .1,1.5 .1,1.5 .1,1.5 .1,1.5 .2,4 .1,1.5 .1,1.5 .1,1.5 .1,1.5 .1,2.2 .1,1.5 .2,1.5 .1,1.4 .1,1.5 .1-.6 .2,1.5 .1,1.5 .1,1.5 .2,1.5 .1,1.7 .1,1.5 .2,1.4 .1,1.5 .2-3.4 .1,1.5 .2,1.5 .1,1.5 .2,2.6 .2,1.5 .2,1.5 .1,4.4 .2,1.5 .2,1.5 .2,1.5 .2,1.9 .2,1.5 .2,3.6 .2,1.5 .3,1.5 .2-2.9 .2,1.5 .3,2.6 .3,1.4 .2,1.5 .3,2.9 .3,1.4 .3-.4 .3,1.4 .4,1.4 .3,5.7 .4,1.4 .4-.6 .4,4 .5,1.4 .6-3.2 .5,5 .6,1.4 .6,3.4 .6-2 .6,3.4 .6,.8 .7-.6 .6-1.3 .6,2.2 .6,1.4 .6,2 .6,3 .6,1.8 .6-2.4 .6,4.1 .6,1.5 .6,1.7 .7-1.9 .6,1 .6,4.8 .6-.2 .6,1.4 .6,4.2 .6-2.6 .6,1.3 .6,4.9 .6-1.7 .7,2.6 .6,1 .6,3.7 .6-3.7 .6,2.9 .6,.8 .6,0 .6,1.7 .7-2.4 .6,4.5 .6-2.1 .6,4.6 .6-1 .7-1.8 .6,2.7 .6,2.7 .6-1.8 .6-1.5 .6,3.8 .6,1.1 .7,.5 .6,1.2 .6,2.3 .6,.3 .6,.8 .6-1.6 .6,3.9 .7-4.9 .6,.8 .6,1 .7,2 .6,1.2 .6-1.4 .6,3.5 .6-.2 .6,.3 .7,1.6 .6,.9 .6-3.1 .6,1.4 .6-1.9 .7,1.6 .6,.4 .6,1 .6-1.7 .6,2.7 .6,.7 .7-1.5 .6,1.3 .6,2.4 .6,.2 .7-2.1 .6,.9 .6,.9 .6,1.5 .6,.9 .7-1.8 .6,.4 .6,1.4 .6-.9 .6,1.8 .6-2.4 .7,1.4 .6,4.3 .6-3.8 .6,3.6 .6-1 .7,.2 .6,.7 .6,3.4 .6-3.4 .6-.3 .6,2.8 .6,.6 .6-2.1 .6,1.3 .6,3.6 .6-1 .7,1.6 .6-2.2 .6,.9 .6-1.3 .6-1.3 .6,5.3 .6-2.8 .6,2.1 .7-.8 .6,1.6 .6-.4 .6,4 .7-2.2 .6-.6 .6,1.3 .6-3.4 .7,5 .6-1.6 .6,3.3 .7-3 .6-1.5 .6,3 .7,3.1 .6-.3 .6-1.3 .7,2.6 .6-2.3 .7,3.2 .6,1.2 .6,.6 .6-3.6 .6,4.1 .6,.2 .6-1.3 .6,.4 .7,.6 .6-1 .6,.6 .6,1.5 .6,.9 .6-1.1 .7-2.3 .6,3.8 .6-3.6 .7,5.1 .6-.5 .6,.5 .7,.2 .6-1.7 .6-1.3 .6,4.1 .6-1.1 .6-.7 .6,2.2 .6-2 .7,2.9 .6,1 .6-3.1 .6,.3 .7,2.2 .6-.8 .6-2.6 .6,4.5 .7-2.1 .6,2.6 .6-3.5 .7,2.6 .6,.3 .7,.2 .6-2 .6,2.4 .7,.6 .6-1.3 .6,.5 .7-1.7 .6-.5 .6,3.3 .7,.4 .6,.5 .7-2.2 .6-1.9 .7-2.6 .6,4.3 .6,1.2 .6-.7 .6,0 .6-2.7 .6,3.3 .6,.3 .6,1.7 .6-1.9 .6,.4 .6-5.2 .7,.6 .6,0 .6,3.2 .6-1.3 .6-1.6 .6,.1 .6-1.2 .7,3 .6,0 .6,2.3 .7-3 .6-2.9 .7,4.7 .6-1.9 .6-.5 .7-.9 .6,1.2 .6-1.6 .7,.2 .6-.2 .6,2.3 .6-.9 .7-3.2 .6,1.7 .6,.1 .6,.2 .7-1.4 .6,2 .6-.3 .6-3.5 .6,1.2 .7-1.9 .6-.9 .6-.1 .6,.2 .6-.1 .7,2.1 .6-.5 .6-1.7 .6-.6 .7,1.7 .6,.3 .6,1.1 .6-1.8 .7,.3 .6-3 .6,1.7 .7,1.3 .6-2 .6,4.6 .6-1.9 .7-1.5 .6,1.5 .6-1 .6-1.5 .6,.8 .7-.1 .6,1.8 .6-1.8 .7,.2 .6-1.7 .6,.1 .7,1.4 .6,.1 .6,1 .7,0 .6-.5 .6-1.9 .6,2.3 .6-2.9 .6,2.5 .7,.5 .6-1.5 .6,.9 .7-.2 .6-2.3 .6,3.6 .6-2 .6,1.7 .6-2.8 .7,2.5 .6,.3 .6-1.2 .6,2.9 .7-3.1 .6,.5 .6-4.7 .6,3.6 .7-4.2 .6,.1 .6-.3 .6-.2 .6,2.7 .6-3.9 .6-.4 .6-2 .7-.2 .6-3.6 .6,2.1 .6-1.2 .6-4.1 .6-2.3 .5,.7 .6,0 .5-3.2 .5-2.7 .4,1.9 .5-1.4 .4-4.9 .5,2.4 .4-1.5 .4-.7 .4-6.6 .4,2.7 .5-1.4 .4-1.4 .4-1.5 .4-1.4 .4,0 .4-1 .4-1.4 .4-3.7 .3-1.4 .4-1.5 .4-2 .3-1.5 .4-1.8 .3,1.1 .4-1.4 .3-2 .4-1.5 .3-2.7 .3-1.4 .4,1.2 .3-1.6 .4-1.5 .3-1.9 .3-1.4 .4-3.4 .3-1.5 .3-1.2 .4-1.5 .3,1.5 .3-1.5 .2-2.4 .3-1.5 .3-2.6 .3-1.5 .3-3.8 .3-1.5 .3-1 .3-1.5 .3-.7 .3-1.4 .4-1.8 .3,.7 .4-1.5 .4-1.9 .4-1.4 .4-6.5 .5,2.5 .4-.8 .5-4.7 .5-1.5 .6-2.3 .6,1.2 .6-1.6 .6,1.9 .6-3.9 .6,.9 .7,0 .6-1.2 .6-4.2 .6,.8 .6-2.5 .6,3.5 .7-5 .6-.1 .6-.2 .6,1.9 .6-.6 .7,.9 .6-.1 .6-7.9 .6,3.8 .7,1.4 .6,.8 .6-.7 .6-4.8 .6,.6 .7-2.7 .6,4.4 .6-2 .6,.9 .7-1.3 .6-2 .6-1.6 .6,6.7 .7-7 .6,.8 .6,5.5 .6-4 .6,5.7 .6,1.1 .6,.1 .6,.8 .7,3.4 .5,1.5 .5-.3 .5,1.9 .4-.2 .4,1.1 .4,1.5 .4-.5 .3,1.5 .4,7 .3-1 .3,1.5 .3,4.8 .3,1.4 .3,1.5 .3-5.3 .2,1.5 .3,1.6 .3,1.5 .2,3.6 .2,1.5 .3,1.5 .2,.5 .2,1.5 .2,2.7 .2,1.5 .2,1.5 .2,.7 .2,1.5 .2,1.5 .2,1.5 .2,1.8 .2,1.5 .2,1.5 .2,2.4 .2,1.5 .2,1.5 .2,4.1 .2,1.5 .2,1.4 .2,0 .2,1.5 .2,1.5 .2-1.2 .2,1.5 .1,1.5 .2,2.8 .2,1.5 .2,1.5 .2,1.3 .2,1.5 .2,1.5 .2,4.6 .2,1.5 .2,1.5 .2-4.8 .2,1.5 .2,1.5 .3,3.6 .2,1.5 .2,3.4 .2,1.5 .3,1.5 .2-.2 .2,1.5 .3,1.4 .2,4.3 .2,1.5 .3-1.4 .2,1.5 .3,1.5 .2,2.6 .3,1.5 .3,2.8 .2,1.5 .3,2.9 .3,1.5 .2,.6 .3,1.5 .3,1.5 .3-1 .2,1.5 .3,3.7 .3,1.5 .3-1.5 .2,1.5 .3,2.3 .3,1.5 .3,3.6 .3,1.5 .3-2.1 .3,1.5 .4,5.1 .3,1.5 .4-1.9 .3,4 .4,1.5 .4,.5 .4,2 .5,1.4 .4,1.1 .5-.9 .6,3.2 .6,2.4 .6,.1 .6,2.6 .6-1.6 .6,2.1 .6,3.7 .7-.4 .6,.9 .6,1.2 .6,2.1 .6-1.5 .6,2.7 .6-.2 .6,.7 .7-.3 .6,3.7 .6-.7 .6-.4 .6,.9 .6,0 .7,2.6 .6-2.4 .6,1.6 .6,.9 .6,.9 .7-.7 .6,.4 .6,2.5 .6-1.6 .7,1 .6,.4 .6,0 .6,2.2 .6-3.3 .6,1.5 .6,1.6 .7,1.1 .6,.6 .7,.7 .6,.4 .6-.7 .7,.5 .6,1.1 .6,1.1 .6,.3 .6-1.2 .6,.2 .7,2.3 .6-.3 .6,1.2 .6-1.3 .7-.1 .6,1.3 .6,.5 .7-1.1 .6,.2 .6,1 .7-1.1 .6,1 .6,2.5 .7-2.6 .6,1.8 .7-1 .6,2.7 .6,1 .7-3.9 .6,2.9 .7,.2 .6,1.1 .6-.4 .7,.6 .6-1.1 .7,3 .6-1 .6-1.6 .7,1.2 .6,.4 .7-.9 .6,.9 .6,0 .6,2.2 .6,1.1 .6-1.3 .6,1.5 .6-2.4 .6,1.5 .7-.3 .6,1.4 .6-1.3 .6,.8 .6,.2 .6-.2 .6-.5 .7,2.1 .6-1.7 .6,1.4 .6-1.6 .6,.6 .7,.2 .6,2.1 .6-1.7 .7,.4 .6,0 .6,1.2 .7,.7 .6-1.5 .7,.4 .6,1.6 .7,.3 .6-1.1 .6-.2 .7-2.2 .6,3.8 .7-1.6 .6-1.5 .7,1.8 .6-.2 .7,1.3 .6-.6 .7,.4 .6,1.5 .7-1.9 .6-.4 .7,1.1 .6-1.2 .6,1.9 .7-2.2 .6,.8 .7,1.6 .6,1.1 .6-1.6 .7,1.4 .6-1 .6-.6 .7,.7 .6,1.2 .7,.1 .6,1.2 .6-1 .7,1.1 .6-2.2 .6,.1 .7,1.1 .6,1.5 .6,.3 .7-1.8 .6,.4 .7-.4 .6,.5 .6,3.1 .7-2.3 .6-.9 .6,.3 .7-.7 .6,2.6 .7-.8 .6,2.3 .6-3.1 .7-.4 .6,.1 .7,2.3 .6,1.8 .6-3.2 .7-.2 .6,.3 .7-.6 .6-1 .6,1.1 .6-.8 .6,1.2 .6-.3 .6-.2 .6,.9 .6-1.9 .6,2.3 .6-.4 .6,.1 .6-1.6 .7,.6 .6,1 .7-.8 .6-.1 .6-.9 .7,0 .6,.1 .7-1.5 .6,.6 .6-.4 .7,.1 .6,1.2 .6,.3 .6-.5 .6,.1 .6-1 .6-.3 .7-.8 .6,1.5 .6-1 .6,.2 .7-.4 .6,1.3 .6-2.8 .6,.2 .7-1.1 .6,.2 .6,1 .6-3.4 .6,1 .6,.7 .7-.7 .6-1.1 .6,.4 .6-1.6 .6-.6 .7-.2 .6-1.1 .6-3.4 .6,.4 .6,.6 .6-2.3 .6-.1 .7-2.8 .6,.2 .6-2.1 .6-1.5 .6-1 .6-.4 .6-3.3 .6-.7 .5-2 .6-1.1 .6-1.1 .6-1.6 .6-1.1 .6,0 .5-4 .5-3 .6-1.5 .5,3.1 .6-1.1 .5-5.3 .7-.3 .6,.5 .6-2.2 .6-1.3 .6-1.2 .6-1.7 .7,3.3 .6-2.3 .6,.3 .6,.1 .7-1.5 .6,0 .6-2.7 .6,2.2 .6-1.3 .7-.4 .6-.6 .6,1.3 .6,3.3 .6-3.8 .7,.5 .6,0 .6,.3 .7,2.5 .6-.6 .6,1.8 .7-.1 .6-3.9 .7,3.9 .6-1.1 .6-1.6 .6,.6 .6,1.8 .6,2.2 .6-1.1 .6-1.1 .6,1.1 .7,.8 .6,.4 .6-1.1 .6-1.7 .7,1.4 .6,2 .6-.6 .7,1.1 .6,.1 .7-1.7 .6,1.6 .6,1 .7-2.3 .6,.3 .7,2.3 .6-1.1 .7-.2 .6,.2 .7-.1 .6,1.7 .7-1.1 .6-.2 .6,.5 .7-1 .6-.7 .6-.5 .6,3.8 .6-3.1 .6-.5 .7,2.1 .6-.1 .6-.2 .6,0 .6-2.4 .6,3.9 .6-1.2 .7-2 .6-2.9 .6,1.7 .7,2.2 .6-.1 .6-1.9 .6-.8 .6,.9 .7-.5 .6,0 .6,.7 .6-4.5 .7,2.9 .6-2.6 .6,2.5 .6-2.4 .7-1.5 .6,2.3 .6-.1 .7-2.3 .6,2.6 .6-2.9 .6-.4 .6,.5 .7-.5 .6,2.1 .7-2.8 .6,1 .7-1.7 .6-.3 .6,0 .6-.9 .6,3.1 .6-3.1 .6,2.1 .6,.8 .6-2.6 .7,3.7 .6-1.5 .6,1.2 .6-.1 .6,3.1 .6-2.1 .6,1.4 .7,2.7 .6,3.6 .6-.2 .5,1.5 .5-1.5 .5,4.3 .4,1.4 .5-.4 .4,1.5 .3,1.5 .4,5.2 .4,.1 .3,1.6 .4,0 .4,1.5 .4-.1 .4,3 .4,2.3 .4,1.4 .4,.7 .4,1.4 .4,2.7 .3-.5 .4,1.4 .4,2.7 .4,1.9 .3,1.5 .4,.2 .5,1 .4,1.4 .4,3.5 .5,.1 .5,1.7 .5,.1 .6,2.5 .6,1.4 .6,1.4 .6,1.1 .6,1.4 .6,.7 .7,1.6 .6,.5 .6,.9 .6,2.7 .6-2.9 .6,1.6 .7,2.3 .6,.3 .6,3.2 .6-.8 .6,1.1 .6-1.3 .6,.8 .7-.4 .6,1.2 .6,1.7 .6-.9 .6,1.8 .7-.1 .6-1 .6,.7 .7,.8 .6,1.2 .6-1 .7,.2 .6,.9 .7,.2 .6,.6 .6-1.9 .6,1.2 .6,.8 .7,1 .6-.7 .7-.5 .6,.3 .6-.8 .6,1.3 .6-1.4 .6,.2 .7,.3 .6,.7 .6,.8 .6-.9 .6,1.4 .6-.3 .6,.2 .7-.4 .6-.3 .6-.2 .6,.7 .7-.6 .6-.5 .6,1.2 .7-1 .6-.5 .7,.4 .6-1.5 .6,2.2 .6-1.3 .6,.9 .6-.5 .6-.9 .7,0 .6-2 .6,1.3 .6-1.2 .6,1.4 .7-1.2 .6,.3 .6-1.1 .6-.8 .7-.3 .6,1.4 .6-1.2 .6-1 .7-.4 .6-1.6 .6-.5 .6,1.5 .6-3.7 .6,0 .7-2.1 .6-.9 .6-1.2 .6,2.1 .6-1.5 .6-.2 .7-1.2 .6-2 .6-1.8 .6-.7 .7-1.5 .6,.2 .6-1 .6-.7 .6,1.5 .6-3.5 .7,1.1 .6-1.2 .6,.3 .7,0 .6,1.4 .6-1.9 .7,.7 .6,1.7 .6,0 .6-1.3 .7,1.3 .6-1.2 .6-1 .6-.5 .7-.1 .6,1 .6-.3 .6,1.6 .6-1.9 .6,1.8 .7-.6 .6,0 .6,1.1 .6-.7 .6,.2 .7-1.3 .6,1.8 .6-.7 .7,1.7 .6,.1 .7,.2 .6-.1 .6,2.1 .6-.1 .6-1 .6,1.9 .7-1.2 .6-1.1 .7,1.6 .6,.4 .6-.4 .7,.5 .6,1.2 .7-.8 .6,1 .6,.7 .6-1 .6,.7 .6-.3 .6,1.7 .6,1.1 .7-.6 .6-2.1 .6,2.7 .6-1.5 .6,1.1 .6-1.1 .7,3 .6-2.1 .6,.8 .7,1.4 .6-3 .7,2.6 .6-.7 .6-1.6 .7,2 .6,.5 .7-.8 .6-.7 .7,.5 .6,.8 .6,.9 .6-.6 .6,.7 .6-1.7 .6-.1 .6,2.4 .6,.5 .7-1.9 .6,.4 .7,.7 .6-.2 .7-.2 .6-.4 .6-1.8 .6,3.2 .6-2.6 .6,.3 .7-.8 .6,.9 .6-.4 .6,.4 .6-.5 .7,1.3 .6-.2 .6-1.7 .6,2.2 .6-1.9 .7,2.7 .6-2 .6,.1 .6-.5 .6,.6 .6,1.9 .7-2.4 .6-.2 .6-.9 .6,1.3 .6,.1 .7-2 .6,.4 .6-.4 .6-.4 .7,.4 .6-1 .6-.5 .6,3 .6-5 .7,1.3 .6,.3 .6-1.8 .6-1 .7,.8 .6-.4 .6-.2 .6-3.4 .6,.9 .6,.2 .7,.4 .6-1.7 .6-2.7 .6,.5 .6-1 .6-.3 .6-.5 .7,0 .6-3.3 .6,.7 .6-2.2 .6-1.3 .6-.9 .6,.5 .6-1.2 .6-4.2 .6,1.9 .7-.1 .6-1.2 .6-.7 .6-2.2 .6-.1 .6-3.7 .7,1.1 .6-1.7 .6-1.5 .6-.5 .6,.9 .7,.5 .6-3.3 .6,1.7 .6,.6 .7-1.7 .6,1.6 .6-1.7 .6,1.3 .6-.2 .6,1.6 .7,.6 .6-2.5 .6,3.5 .6,1.2 .6-3.2 .6,4.8 .7-.2 .6-.8 .6,3.5 .6-.1 .6,.2 .6,1.3 .6,1.4 .7,1.2 .6,1.1 .6,.7 .6,2.4 .6,1.9 .6,1.9 .6-.2 .6,1 .6,.6 .6,4.3 .6,1 .6-.9 .6,.7 .6,3.3 .6,.5 .6,2.8 .6,2.8 .6-.9 .6,.2 .6,3 .6,1 .7,.7 .6,.7 .6,.7 .6,1.5 .6-.8 .6,2.6 .7,.6 .6,1.2 .6-1.7 .6,2.7 .6,.5 .7-.5 .6,1 .6-.8 .6,.8 .7-1.6 .6,.9 .6,.5 .6-.4 .7,.8 .6-1.9 .7,.7 .6,1.1 .6-.5 .7,.5 .6-1.2 .6,.3 .6,.1 .6-2.1 .6,.7 .7-2.1 .6,.6 .6,.1 .6-1.4 .7-1 .6-.8 .6,.2 .6-1.9 .7,2.4 .6-1.5 .6-.1 .6-.1 .7-1.3 .6,1.3 .6-1.4 .6,.1 .6-.2 .7-.6 .6-1.1 .6,1.6 .7,.5 .6,.8 .6-.6 .6,1.4 .7-1.2 .6,.4 .6,.6 .6,.1 .6,1.7 .6-1.3 .7,1.3 .6,.3 .6-.1 .6,2.4 .6-1.8 .7-.7 .6,1.4 .6-1 .6,.4 .7-1 .6,2.3 .7-1.4 .6-.7 .6-.6 .6,.4 .6,.1 .7,.2 .6-1.6 .6,1.2 .6,1.8 .7-.6 .6,.6 .6-1.3 .6-1.4 .6,1 .7-2.3 .6-.3 .6-.8 .7-1 .6-2.5 .6,1.8 .6-2.4 .7,.6 .6-1.5 .6,1 .6-2.8 .7-.2 .6,1.9 .6-1.9 .6-.1 .6,1.8 .6-.5 .6-.4 .7,1 .6-1.1 .6,1.4 .7,.3 .6,.2 .6-.5 .7,1.5 .6,.5 .6,.6 .6-1.9 .6,0 .7,1.3 .6-1.2 .6,1.6 .6-2 .6-.8 .7-1.7 .6,1 .6-.1 .6-1.3 .6-.7 .7-1.2 .6-1.8 .6,.4 .6-1.2 .6,.2 .7-1 .6,1.2 .6-.5 .6-1.7 .7,0 .6-.8 .6,.1 .7,1.9 .6-3.2 .6-3 .6,3.2 .6-1.5 .6-1.1 .7-.9 .6,1.1 .6-2.2 .6,1.1 .6-1.6 .6-2.1 .6,.2 .7,0 .6-2.3 .6-1.7 .6,.9 .6-1.2 .6-.6 .6-.9 .7,2.1 .6-2.1 .6-.2 .6,0 .7-.4 .6-2.7 .6,2.3 .6-2.3 .6-.7 .6,1.1 .6,.6 .7-.6 .6-.7 .6,0 .6,1.3 .7-.6 .6-.9 .6-.2 .6,1.4 .6,.1 .6-1.8 .6,2.4 .7,1.1 .6,.8 .6-.2 .7-1.3 .6,0 .6,0 .6,.3 .6,3.8 .7-4 .6,2.3 .6-1.2 .6,2.8 .6-1.1 .6,2 .7,.9 .6,.5 .6,1.5 .6,1 .7-2.6 .6,1.3 .6,2.9 .6-.3 .6,1 .6,.2 .6,1.1 .6-1.1 .7,1.1 .5-2 .6-.1 .5-4.9 .5-1.8 .6-.7 .7-2.6 .6-.9 .6-.3 .6-1.1 .6,2.9 .4-2.5 .4,1.3 .2,3 .3,1.9 .3,1.1 .4,1.8 .6,.8 .6,2.5 .6,1.7 .6,1.1 .6-.9 .6,2.2 .6-.1 .6-.2 .7,1.6 .6-1 .6,2.4 .7-2.3 .6,.4 .6,1.7 .7-.8 .6,.4 .6,1.3 .6,1.2 .7-1.3 .6-1.2 .6,3.2 .6-2.5 .7,1.5 .6,.5 .6,.7 .7-.8 .6,1.1 .6-.2 .7-.2 .6-.2 .6,.5 .7-.9 .6,1.4 .7,1.7 .6-3.4 .7,1.8 .6,.8 .7-1.3 .6,.5 .7,1.3 .6-2.1 .6,2 .7,.1 .6-.4 .6,.9 .6-.4 .6-.7 .6,.1 .7-1.7 .6,2.1 .6-1 .7,.2 .6,0 .6-2.2 .6,3.2 .7-4.4 .6,2 .6-3 .7,1.7 .6-1.1 .6-1.3 .6,.6 .7,0 .6-.5 .6,.4 .6-.5 .6,.6 .7,.8 .6-1.9 .6-.6 .6,3.4 .6-3.5 .6-.5 .7,2.9 .6-2.1 .6,1.8 .6-.9 .6,2 .7-1.2 .6,2.7 .6-2 .6,3.1 .6,.4 .6-.1 .6-.6 .6,2.3 .7,1.3 .6,.9 .6,2 .6,.8 .6-.8 .6,1.2 .7,.4 .6,2 .6,1.1 .6,1 .6-.1 .6,1.7 .7-.8 .6,1.2 .6,1.5 .7-1.6 .6,.7 .6-1.5 .6,2.9 .6,.3 .6-.3 .7,.4 .6-1.7 .6,2.2 .6,.9 .6-1.8 .6,.4 .7-1 .6-.2 .6,1.7 .7-.5 .6-.8 .6,1.1 .7,.4 .6-1.8 .7,.8 .6-.5 .6-.2 .6,.5 .7-1.5 .6,.5 .6-2.3 .6,1.7 .7,1.2 .6-1.4 .6-2.1 .6,.9 .6-1.1 .7-.9 .6,0 .6-.5 .6,.4 .7-1.5 .6-2 .6,1.3 .6,1.4 .7-1.4 .6,.7 .6-.3 .6-.7 .7,.9 .6,.2 .6,0 .6-2 .7,1.1 .6,.3 .6,.6 .6-1 .6,1.2 .7,1.8 .6,1.3 .6-.3 .6-.1 .6,3 .6-.4 .6,0 .6,1 .7,1 .6,1.1 .6-.6 .6,1.5 .6-1.3 .6,2.8 .6-1.1 .7,2.5 .6-.7 .6,.1 .6-.1 .6-.5 .7-1 .6-.1 .7,0 .6-1 .7-.4 .6,1 .6,.9 .6-1.8 .6-1.4 .7-1.3 .6-.5 .6,.5 .6,.8 .6-2 .7,.5 .6-.5 .6,.5 .6-.4 .7-.4 .6-.9 .6,.4 .6,1.3 .7,.3 .6,2.2 .6,.6 .6-1.7 .7,2.8 .6-1.7 .6,1.4 .6,1 .6-1.1 .7,1.4 .6,.1 .6,1.3 .7-.8 .6-.1 .6,1 .7,.3 .6-1 .6-1 .6,1.6 .7-1 .6,1.3 .7-2.4 .6-2 .6,.9 .6,.4 .6-2.1 .6,.5 .6,.8 .7-.3 .6,.8 .6-.8 .7,2.4 .6-2.2 .6,.7 .7-.8 .6,1 .7-.5 .6-.3 .7,2.9 .6-1.8 .7,.2 .6-.7 .7,2.8 .6-2.4 .6,1 .7,.2 .6,1 .7-1.7 .6,1.2 .7-.4 .6-.5 .6-.1 .7,1 .6-.2 .7,.9 .6,.8 .7-.6 .6,.4 .6-1.2 .7-.6 .6,1.7 .6,.7 .6-.8 .6-.4 .7,.8 .6,.5 .6-.1 .7,.7 .6-.2 .6-1.6 .7,3.1 .6-1 .6,2.2 .6,.3 .7-1.3 .6,.6 .6,1.1 .6,.2 .6,1.8 .7,1 .6-1.3 .6,.6 .6,3.3 .6,1.5 .6-.4 .7,.6 .6,1.2 .6,.1 .6-.6 .6,1.1 .6,1.2 .6,1.6 .7-.6 .6-.2 .6,1.6 .7-1.9 .6,1.4 .6-.7 .7-.5 .6-.6 .6-.4 .6-.7 .6,.7 .6,2.3 .5,.5 .4,1.9 .2,.4 .2,1.6 .1,1.8 .1,1.9 .1,2 0,2.6 .1,2 .1,1.9 0,1.8 .1,1.7 0,1.5 .1,1.3 .1,1 .1,.8 .2,.2 .2,.1 .5,0 .5,.1 .6,0 .6,0 .6,0 .6,0 .7,.2 .6,0 .6,.1 .6-.1 .7,0 .6,.1 .6,0 .6-.1 .6,.1 .7,0 .6,0 .6,0 .6,0 .7,.1 .6-.1 .7,0 .6,.1 .6,0 .6,0 .7,0 .6,0 .7,0 .6,0 .6,0 .6,0 .7,0 .6,0 .6,0 .6,0 .7,0 .6,0 .7,0 .6,0 .7,0 .7,0 .6,0 .6,0 .6,0 .6,0 .7,0 .6,0 .6,0 .6,0 .6,0 .7,0 .3,0" fill="none" stroke="#ff0000" stroke-width="7.0" stroke-linejoin="round" stroke-linecap="butt"/>
</g>
<text transform="translate(278.9 704.1) scale(1 1.045)" font-size="64.5" text-anchor="end">0</text>
<text transform="translate(254.3 519.2) scale(1 1.045)" font-size="64.5" text-anchor="end">2x10</text>
<text transform="translate(254.3 492.8) scale(1 1.045)" font-size="43.5">5</text>
<text transform="translate(254.3 329.8) scale(1 1.045)" font-size="64.5" text-anchor="end">4x10</text>
<text transform="translate(254.3 303.4) scale(1 1.045)" font-size="43.5">5</text>
<text transform="translate(254.3 140.3) scale(1 1.045)" font-size="64.5" text-anchor="end">6x10</text>
<text transform="translate(254.3 113.9) scale(1 1.045)" font-size="43.5">5</text>
<text transform="translate(278.9 1313.4) scale(1 1.045)" font-size="64.5" text-anchor="end">0</text>
<text transform="translate(254.3 1187.0) scale(1 1.045)" font-size="64.5" text-anchor="end">2x10</text>
<text transform="translate(254.3 1160.5) scale(1 1.045)" font-size="43.5">5</text>
<text transform="translate(254.3 1055.9) scale(1 1.045)" font-size="64.5" text-anchor="end">4x10</text>
<text transform="translate(254.3 1029.5) scale(1 1.045)" font-size="43.5">5</text>
<text transform="translate(254.3 924.8) scale(1 1.045)" font-size="64.5" text-anchor="end">6x10</text>
<text transform="translate(254.3 898.4) scale(1 1.045)" font-size="43.5">5</text>
<text transform="translate(254.3 793.8) scale(1 1.045)" font-size="64.5" text-anchor="end">8x10</text>
<text transform="translate(254.3 767.4) scale(1 1.045)" font-size="43.5">5</text>
<text transform="translate(278.9 1974.1) scale(1 1.045)" font-size="64.5" text-anchor="end">0</text>
<text transform="translate(254.3 1789.7) scale(1 1.045)" font-size="64.5" text-anchor="end">1x10</text>
<text transform="translate(254.3 1763.3) scale(1 1.045)" font-size="43.5">6</text>
<text transform="translate(254.3 1600.7) scale(1 1.045)" font-size="64.5" text-anchor="end">2x10</text>
<text transform="translate(254.3 1574.3) scale(1 1.045)" font-size="43.5">6</text>
<text transform="translate(254.3 1411.7) scale(1 1.045)" font-size="64.5" text-anchor="end">3x10</text>
<text transform="translate(254.3 1385.3) scale(1 1.045)" font-size="43.5">6</text>
<text transform="translate(354.3 2047.9) scale(1 1.045)" font-size="64.5" text-anchor="middle">0</text>
<text transform="translate(479.0 2047.9) scale(1 1.045)" font-size="64.5" text-anchor="middle">20</text>
<text transform="translate(603.8 2047.9) scale(1 1.045)" font-size="64.5" text-anchor="middle">40</text>
<text transform="translate(728.5 2047.9) scale(1 1.045)" font-size="64.5" text-anchor="middle">60</text>
<text transform="translate(853.3 2047.9) scale(1 1.045)" font-size="64.5" text-anchor="middle">80</text>
<text transform="translate(978.0 2047.9) scale(1 1.045)" font-size="64.5" text-anchor="middle">100</text>
<text transform="translate(1102.7 2047.9) scale(1 1.045)" font-size="64.5" text-anchor="middle">120</text>
<text transform="translate(1227.5 2047.9) scale(1 1.045)" font-size="64.5" text-anchor="middle">140</text>
<text transform="translate(1352.2 2047.9) scale(1 1.045)" font-size="64.5" text-anchor="middle">160</text>
<text transform="translate(1477.0 2047.9) scale(1 1.045)" font-size="64.5" text-anchor="middle">180</text>
<text transform="translate(1601.7 2047.9) scale(1 1.045)" font-size="64.5" text-anchor="middle">200</text>
<text x="826" y="2139.8" font-size="76.5">energy / eV</text>
<text transform="translate(74,1263.3) rotate(-90)" font-size="76.5">signal / counts/s</text>
<text x="351.4" y="124.2" font-size="69.75">a)</text>
<text x="351.4" y="786.9" font-size="69.75">b)</text>
<text x="352.1" y="1394.1" font-size="69.75">c)</text>
<text transform="translate(757.5 137.2) scale(1 1.035)" font-size="69.75">10% Ar + 90% He</text>
<text transform="translate(734.5 831.4) scale(1 1.035)" font-size="69.75">3.6% Ar + 96.4% He</text>
<text transform="translate(715.5 1452.8) scale(1 1.035)" font-size="69.75">&lt;1% Ar + &gt;99% He</text>
<text transform="translate(1447.5 250.5) scale(1 1.04)" font-size="69.75" fill="#0000ff">Ar<tspan font-size="44.5" dy="-27.4">+</tspan></text>
<text transform="translate(1522.3 593.0) scale(1 1.04)" font-size="69.75" fill="#ff0000">He<tspan font-size="44.5" dy="-27.4">+</tspan></text>
<text transform="translate(1494.8 923.4) scale(1 1.04)" font-size="69.75" fill="#0000ff">Ar<tspan font-size="44.5" dy="-27.4">+</tspan></text>
<text transform="translate(765.4 1071.9) scale(1 1.04)" font-size="69.75" fill="#ff0000">He<tspan font-size="44.5" dy="-27.4">+</tspan></text>
<text transform="translate(726.3 1699.0) scale(1 1.04)" font-size="69.75" fill="#ff0000">He<tspan font-size="44.5" dy="-27.4">+</tspan></text>
<text transform="translate(1566.0 1840.5) scale(1 1.04)" font-size="69.75" fill="#0000ff">Ar<tspan font-size="44.5" dy="-27.4">+</tspan></text>
<text transform="translate(739 307.6) scale(1 1.035)" font-size="51.5">100% Ar</text>
<text transform="translate(745 369.5) scale(1 1.04)" font-size="51.5" fill="#0000ff">Ar<tspan font-size="34.3" dy="-19.0">+</tspan></text>
</svg></body></html>
